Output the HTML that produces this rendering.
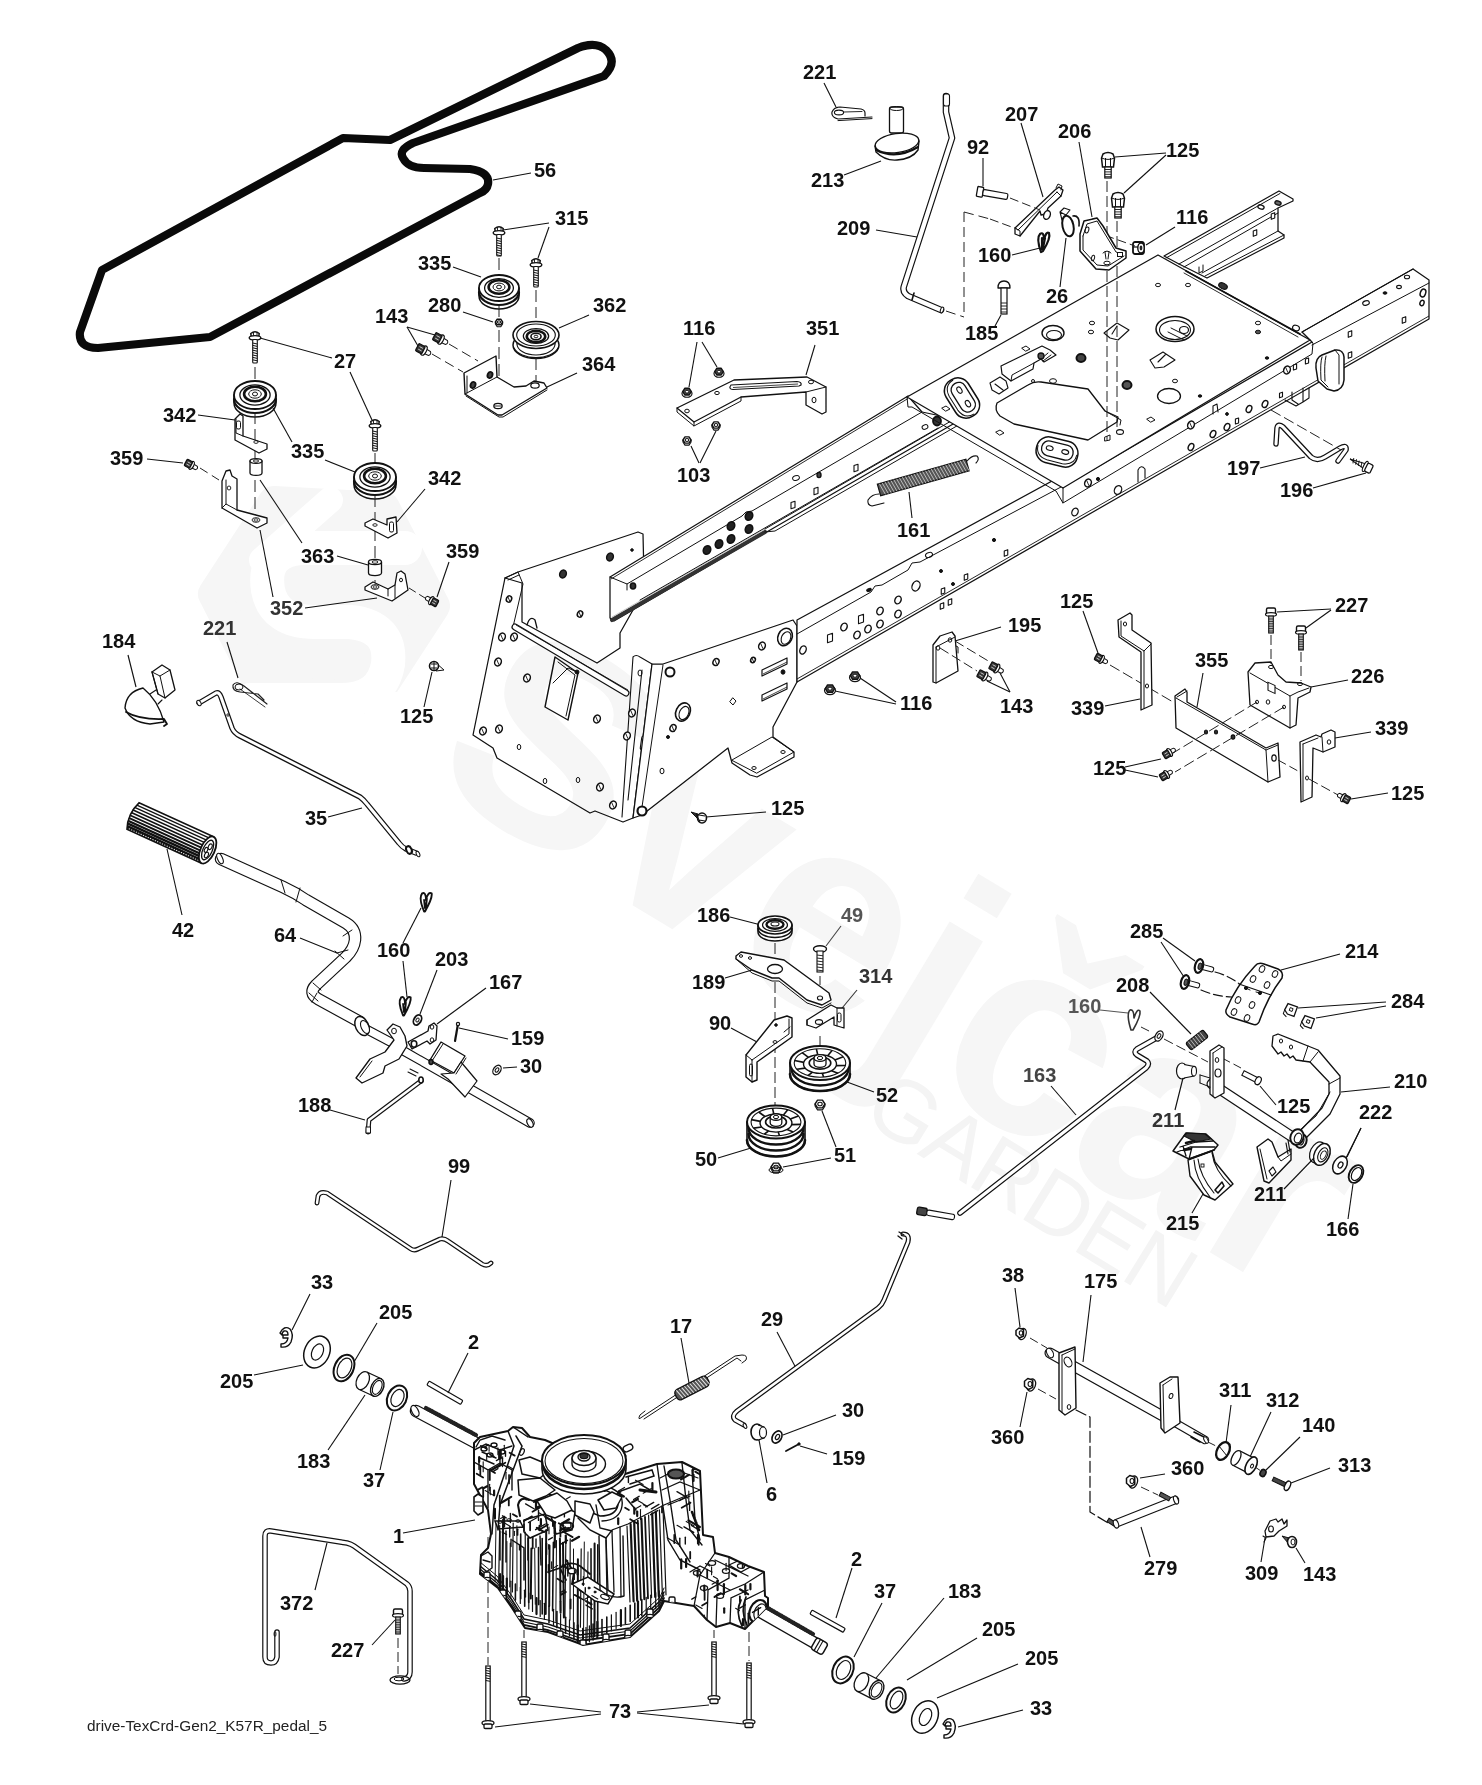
<!DOCTYPE html>
<html><head><meta charset="utf-8"><title>drive-TexCrd-Gen2_K57R_pedal_5</title>
<style>
html,body{margin:0;padding:0;background:#fff;}
body{width:1482px;height:1785px;overflow:hidden;font-family:"Liberation Sans",sans-serif;}
svg{display:block;font-family:"Liberation Sans",sans-serif;}
</style></head><body>
<svg width="1482" height="1785" viewBox="0 0 1482 1785">
<rect width="1482" height="1785" fill="#fff"/>
<g id="wm"><path d="M434,606 L374,698 L264,692 L214,594 L274,502 L384,508 Z" fill="#f6f6f6" stroke="#f6f6f6" stroke-width="32" stroke-linejoin="round"/><path d="M405,548 L300,548 Q262,552 268,590 Q274,622 315,622 L350,622 Q392,626 388,664 Q382,700 340,700 L250,700" fill="none" stroke="#fff" stroke-width="34" stroke-linecap="round" stroke-linejoin="round"/><path d="M262,560 L330,500 M395,705 L330,760" fill="none" stroke="#fff" stroke-width="26" stroke-linecap="round"/><text transform="translate(424 780) rotate(31)" font-size="283" font-weight="bold" fill="#f6f6f6">Svejčar</text><text transform="translate(860 1119) rotate(31.6)" font-size="88" fill="#f4f4f4" letter-spacing="-2">GARDEN</text></g>
<g opacity="0.999">
<path d="M505,578 L518,572 L638,532 L643,534 L644,578 L633,610 L620,633 L620,648 L597,663 L522,622 L522,583 Z" stroke="#111" stroke-width="1.25" fill="#fff" stroke-linejoin="round" stroke-linecap="round" />
<path d="M505,578 L518,572 L523,584 L513,627 M508,580 L519,575" stroke="#111" stroke-width="1.0" fill="none" stroke-linejoin="round" stroke-linecap="round" />
<ellipse cx="563" cy="574" rx="3.2" ry="4" stroke="#111" stroke-width="1.5" fill="#333" transform="rotate(25 563 574)"/>
<ellipse cx="610" cy="557" rx="3.2" ry="4" stroke="#111" stroke-width="1.5" fill="#333" transform="rotate(25 610 557)"/>
<ellipse cx="580" cy="614" rx="2.5600000000000005" ry="3.2" stroke="#111" stroke-width="1.5" fill="#fff" transform="rotate(25 580 614)"/>
<path d="M579.04,612.08 L580.64,615.92" stroke="#111" stroke-width="0.9" fill="none" stroke-linejoin="round" stroke-linecap="round" />
<ellipse cx="509" cy="599" rx="2.5600000000000005" ry="3.2" stroke="#111" stroke-width="1.5" fill="#fff" transform="rotate(25 509 599)"/>
<path d="M508.04,597.08 L509.64,600.92" stroke="#111" stroke-width="0.9" fill="none" stroke-linejoin="round" stroke-linecap="round" />
<ellipse cx="632" cy="550" rx="1.3" ry="1.3" stroke="#111" stroke-width="1" fill="#111"/>
<path d="M515,627 L626,693" stroke="#111" stroke-width="7" fill="none" stroke-linejoin="round" stroke-linecap="round" />
<path d="M515,627 L626,693" stroke="#fff" stroke-width="4.6" fill="none" stroke-linejoin="round" stroke-linecap="round" />
<line x1="516" y1="625" x2="628" y2="690" stroke="#111" stroke-width="0.8" stroke-linecap="butt"/>
<path d="M527,625 Q530,615 535,620 L537,628" stroke="#111" stroke-width="1.3" fill="none" stroke-linejoin="round" stroke-linecap="round" />
<path d="M505,578 L473,735 L493,748 L497,758 L590,813 L595,811 L623,822 L633,818" stroke="#111" stroke-width="1.25" fill="none" stroke-linejoin="round" stroke-linecap="round" />
<path d="M633,657 Q636,654 640,657 L652,664 M633,657 L622,817 M652,664 L633,817 M642,670 L628,800" stroke="#111" stroke-width="1.1" fill="none" stroke-linejoin="round" stroke-linecap="round" />
<rect x="641" y="736" width="4.5" height="14" rx="2" fill="#fff" stroke="#111" stroke-width="1.1" transform="rotate(8 643 743)"/>
<path d="M555,657 L578,673 L568,720 L545,707 Z" stroke="#111" stroke-width="1.4" fill="none" stroke-linejoin="round" stroke-linecap="round" />
<path d="M558,662 L575,675 L566,716 M553,683 L568,668 L577,672" stroke="#111" stroke-width="1.0" fill="none" stroke-linejoin="round" stroke-linecap="round" />
<ellipse cx="577" cy="672" rx="2" ry="2" stroke="#111" stroke-width="1" fill="#111"/>
<ellipse cx="502" cy="637" rx="3.2" ry="4" stroke="#111" stroke-width="1.5" fill="#fff" transform="rotate(25 502 637)"/>
<path d="M500.8,634.6 L502.8,639.4" stroke="#111" stroke-width="0.9" fill="none" stroke-linejoin="round" stroke-linecap="round" />
<ellipse cx="514" cy="637" rx="3.2" ry="4" stroke="#111" stroke-width="1.5" fill="#fff" transform="rotate(25 514 637)"/>
<path d="M512.8,634.6 L514.8,639.4" stroke="#111" stroke-width="0.9" fill="none" stroke-linejoin="round" stroke-linecap="round" />
<ellipse cx="498" cy="662" rx="3.2" ry="4" stroke="#111" stroke-width="1.5" fill="#fff" transform="rotate(25 498 662)"/>
<path d="M496.8,659.6 L498.8,664.4" stroke="#111" stroke-width="0.9" fill="none" stroke-linejoin="round" stroke-linecap="round" />
<ellipse cx="527" cy="678" rx="3.2" ry="4" stroke="#111" stroke-width="1.5" fill="#fff" transform="rotate(25 527 678)"/>
<path d="M525.8,675.6 L527.8,680.4" stroke="#111" stroke-width="0.9" fill="none" stroke-linejoin="round" stroke-linecap="round" />
<ellipse cx="483" cy="731" rx="3.2" ry="4" stroke="#111" stroke-width="1.5" fill="#fff" transform="rotate(25 483 731)"/>
<path d="M481.8,728.6 L483.8,733.4" stroke="#111" stroke-width="0.9" fill="none" stroke-linejoin="round" stroke-linecap="round" />
<ellipse cx="499" cy="729" rx="3.2" ry="4" stroke="#111" stroke-width="1.5" fill="#fff" transform="rotate(25 499 729)"/>
<path d="M497.8,726.6 L499.8,731.4" stroke="#111" stroke-width="0.9" fill="none" stroke-linejoin="round" stroke-linecap="round" />
<ellipse cx="597" cy="719" rx="3.2" ry="4" stroke="#111" stroke-width="1.5" fill="#fff" transform="rotate(25 597 719)"/>
<path d="M595.8,716.6 L597.8,721.4" stroke="#111" stroke-width="0.9" fill="none" stroke-linejoin="round" stroke-linecap="round" />
<ellipse cx="632" cy="713" rx="3.2" ry="4" stroke="#111" stroke-width="1.5" fill="#fff" transform="rotate(25 632 713)"/>
<path d="M630.8,710.6 L632.8,715.4" stroke="#111" stroke-width="0.9" fill="none" stroke-linejoin="round" stroke-linecap="round" />
<ellipse cx="627" cy="736" rx="3.2" ry="4" stroke="#111" stroke-width="1.5" fill="#fff" transform="rotate(25 627 736)"/>
<path d="M625.8,733.6 L627.8,738.4" stroke="#111" stroke-width="0.9" fill="none" stroke-linejoin="round" stroke-linecap="round" />
<ellipse cx="600" cy="787" rx="3.2" ry="4" stroke="#111" stroke-width="1.5" fill="#fff" transform="rotate(25 600 787)"/>
<path d="M598.8,784.6 L600.8,789.4" stroke="#111" stroke-width="0.9" fill="none" stroke-linejoin="round" stroke-linecap="round" />
<ellipse cx="613" cy="805" rx="3.2" ry="4" stroke="#111" stroke-width="1.5" fill="#fff" transform="rotate(25 613 805)"/>
<path d="M611.8,802.6 L613.8,807.4" stroke="#111" stroke-width="0.9" fill="none" stroke-linejoin="round" stroke-linecap="round" />
<ellipse cx="519" cy="747" rx="1.8" ry="2.6" stroke="#111" stroke-width="1.0" fill="none"/>
<ellipse cx="545" cy="781" rx="1.8" ry="2.6" stroke="#111" stroke-width="1.0" fill="none"/>
<ellipse cx="578" cy="780" rx="1.8" ry="2.6" stroke="#111" stroke-width="1.0" fill="none"/>
<ellipse cx="640" cy="673" rx="2" ry="3" stroke="#111" stroke-width="1.0" fill="none"/>
<path d="M663,664 L793,620 L797,626 L797,682 L773,727 L773,737 L794,752 L794,757 L757,777 L750,775 L732,763 L728,748 L642,815 L633,818 L652,664 Z" stroke="#111" stroke-width="1.25" fill="#fff" stroke-linejoin="round" stroke-linecap="round" />
<path d="M663,665 L642,807" stroke="#111" stroke-width="1.0" fill="none" stroke-linejoin="round" stroke-linecap="round" />
<path d="M732,760 L772,737 L794,752 L757,773 Z" stroke="#111" stroke-width="1.0" fill="none" stroke-linejoin="round" stroke-linecap="round" />
<ellipse cx="783" cy="752" rx="2.2" ry="1.5" stroke="#111" stroke-width="1" fill="none"/>
<ellipse cx="754" cy="768" rx="2.2" ry="1.5" stroke="#111" stroke-width="1" fill="none"/>
<ellipse cx="642" cy="811" rx="4.5" ry="4.5" stroke="#111" stroke-width="2.2" fill="#fff"/>
<ellipse cx="670" cy="672" rx="4.5" ry="4.5" stroke="#111" stroke-width="2" fill="#fff"/>
<ellipse cx="785" cy="637" rx="7" ry="9" stroke="#111" stroke-width="1.6" fill="none" transform="rotate(25 785 637)"/>
<ellipse cx="786" cy="638" rx="4.5" ry="6.5" stroke="#111" stroke-width="1.1" fill="none" transform="rotate(25 786 638)"/>
<ellipse cx="762" cy="646" rx="3.2" ry="4" stroke="#111" stroke-width="1.5" fill="#fff" transform="rotate(25 762 646)"/>
<path d="M760.8,643.6 L762.8,648.4" stroke="#111" stroke-width="0.9" fill="none" stroke-linejoin="round" stroke-linecap="round" />
<ellipse cx="716" cy="662" rx="2.8800000000000003" ry="3.6" stroke="#111" stroke-width="1.5" fill="#fff" transform="rotate(25 716 662)"/>
<path d="M714.92,659.84 L716.72,664.16" stroke="#111" stroke-width="0.9" fill="none" stroke-linejoin="round" stroke-linecap="round" />
<ellipse cx="753" cy="660" rx="2.2399999999999998" ry="2.8" stroke="#111" stroke-width="1.5" fill="#fff" transform="rotate(25 753 660)"/>
<path d="M752.16,658.32 L753.56,661.68" stroke="#111" stroke-width="0.9" fill="none" stroke-linejoin="round" stroke-linecap="round" />
<path d="M762,670 L787,658 L787,664 L762,676 Z" stroke="#111" stroke-width="1.2" fill="none" stroke-linejoin="round" stroke-linecap="round" />
<line x1="763" y1="674" x2="787" y2="662" stroke="#111" stroke-width="0.8" stroke-linecap="butt"/>
<path d="M762,695 L787,683 L787,689 L762,701 Z" stroke="#111" stroke-width="1.2" fill="none" stroke-linejoin="round" stroke-linecap="round" />
<line x1="763" y1="699" x2="787" y2="687" stroke="#111" stroke-width="0.8" stroke-linecap="butt"/>
<ellipse cx="783" cy="672" rx="2" ry="2.2" stroke="#111" stroke-width="1" fill="#111"/>
<ellipse cx="683" cy="712" rx="7" ry="9.5" stroke="#111" stroke-width="1.6" fill="none" transform="rotate(25 683 712)"/>
<ellipse cx="684" cy="713" rx="4.5" ry="7" stroke="#111" stroke-width="1.1" fill="none" transform="rotate(25 684 713)"/>
<ellipse cx="673" cy="728" rx="2.8800000000000003" ry="3.6" stroke="#111" stroke-width="1.5" fill="#fff" transform="rotate(25 673 728)"/>
<path d="M671.92,725.84 L673.72,730.16" stroke="#111" stroke-width="0.9" fill="none" stroke-linejoin="round" stroke-linecap="round" />
<ellipse cx="668" cy="737" rx="1.5" ry="1.5" stroke="#111" stroke-width="1" fill="#111"/>
<path d="M733,698 L736,701 L733,705 L730,702 Z" stroke="#111" stroke-width="1.0" fill="none" stroke-linejoin="round" stroke-linecap="round" />
<ellipse cx="662" cy="771" rx="2" ry="2.8" stroke="#111" stroke-width="1" fill="none"/>
<path d="M610,577 L908,396 L922,412 L960,420 L765,533 L614,621 L610,618 Z" stroke="#111" stroke-width="1.25" fill="#fff" stroke-linejoin="round" stroke-linecap="round" />
<line x1="611" y1="579" x2="908" y2="398.5" stroke="#111" stroke-width="0.9" stroke-linecap="butt"/>
<path d="M610,577 L627,584 L742,516 L746,512 L752,511 L922,412" stroke="#111" stroke-width="1.0" fill="none" stroke-linejoin="round" stroke-linecap="round" />
<path d="M627,584 L627,590" stroke="#111" stroke-width="1.0" fill="none" stroke-linejoin="round" stroke-linecap="round" />
<path d="M612,620 L765,532" stroke="#333" stroke-width="4.2" fill="none" stroke-linejoin="round" stroke-linecap="round" />
<path d="M612,617 L765,529" stroke="#bbb" stroke-width="0.8" fill="none" stroke-linejoin="round" stroke-linecap="round" />
<path d="M765,532 L775,531 L962,423 M765,529 L958,417 M640,600 L938,428" stroke="#111" stroke-width="1.0" fill="none" stroke-linejoin="round" stroke-linecap="round" />
<ellipse cx="633" cy="586" rx="2.6" ry="3" stroke="#111" stroke-width="1.6" fill="#333"/>
<ellipse cx="707" cy="550" rx="3.6" ry="4.4" stroke="#111" stroke-width="1.6" fill="#222" transform="rotate(25 707 550)"/>
<ellipse cx="719" cy="544" rx="3.6" ry="4.4" stroke="#111" stroke-width="1.6" fill="#222" transform="rotate(25 719 544)"/>
<ellipse cx="731" cy="539" rx="3.6" ry="4.4" stroke="#111" stroke-width="1.6" fill="#222" transform="rotate(25 731 539)"/>
<ellipse cx="749" cy="529" rx="3.6" ry="4.4" stroke="#111" stroke-width="1.6" fill="#222" transform="rotate(25 749 529)"/>
<ellipse cx="731" cy="526" rx="3.6" ry="4.4" stroke="#111" stroke-width="1.6" fill="#222" transform="rotate(25 731 526)"/>
<ellipse cx="749" cy="516" rx="3.6" ry="4.4" stroke="#111" stroke-width="1.6" fill="#222" transform="rotate(25 749 516)"/>
<path d="M791.0,502.6 L795.0,501.2 L795.0,507.4 L791.0,508.8 Z" stroke="#111" stroke-width="1.1" fill="#fff" stroke-linejoin="round" stroke-linecap="round" />
<path d="M814.0,488.6 L818.0,487.2 L818.0,493.4 L814.0,494.8 Z" stroke="#111" stroke-width="1.1" fill="#fff" stroke-linejoin="round" stroke-linecap="round" />
<path d="M854.0,465.6 L858.0,464.2 L858.0,470.4 L854.0,471.8 Z" stroke="#111" stroke-width="1.1" fill="#fff" stroke-linejoin="round" stroke-linecap="round" />
<ellipse cx="796" cy="478" rx="3.5" ry="2.3" stroke="#111" stroke-width="1.0" fill="none" transform="rotate(-20 796 478)"/>
<ellipse cx="819" cy="475" rx="2" ry="2.6" stroke="#111" stroke-width="1.4" fill="#444"/>
<ellipse cx="925" cy="427" rx="3" ry="2.2" stroke="#111" stroke-width="1.0" fill="none" transform="rotate(-20 925 427)"/>
<ellipse cx="937" cy="421" rx="4" ry="4.5" stroke="#111" stroke-width="1.8" fill="#333"/>
<path d="M797,620 L1052,481 L1063,487 L1312,342 L1302,332 L1413,269 L1429,280 L1429,319 L797,682 Z" stroke="#111" stroke-width="1.25" fill="#fff" stroke-linejoin="round" stroke-linecap="round" />
<path d="M797,634 L871,592 L875,586 L882,585 L908,570 L912,563 L920,562 L1061,487" stroke="#111" stroke-width="1.0" fill="none" stroke-linejoin="round" stroke-linecap="round" />
<line x1="797" y1="679" x2="1429" y2="316" stroke="#111" stroke-width="0.9" stroke-linecap="butt"/>
<ellipse cx="803" cy="650" rx="3" ry="4.2" stroke="#111" stroke-width="1.4" fill="none" transform="rotate(25 803 650)"/>
<ellipse cx="844" cy="627" rx="3" ry="4" stroke="#111" stroke-width="1.5" fill="none" transform="rotate(25 844 627)"/>
<ellipse cx="857" cy="635" rx="3" ry="4" stroke="#111" stroke-width="1.5" fill="none" transform="rotate(25 857 635)"/>
<ellipse cx="868" cy="629" rx="3" ry="4" stroke="#111" stroke-width="1.5" fill="none" transform="rotate(25 868 629)"/>
<ellipse cx="880" cy="624" rx="3" ry="4" stroke="#111" stroke-width="1.5" fill="none" transform="rotate(25 880 624)"/>
<ellipse cx="898" cy="614" rx="3" ry="4" stroke="#111" stroke-width="1.5" fill="none" transform="rotate(25 898 614)"/>
<ellipse cx="880" cy="611" rx="3" ry="4" stroke="#111" stroke-width="1.5" fill="none" transform="rotate(25 880 611)"/>
<ellipse cx="898" cy="600" rx="3" ry="4" stroke="#111" stroke-width="1.5" fill="none" transform="rotate(25 898 600)"/>
<path d="M827.5,635.0 L832.5,633.25 L832.5,641.0 L827.5,642.75 Z" stroke="#111" stroke-width="1.1" fill="#fff" stroke-linejoin="round" stroke-linecap="round" />
<path d="M858.5,616.0 L863.5,614.25 L863.5,622.0 L858.5,623.75 Z" stroke="#111" stroke-width="1.1" fill="#fff" stroke-linejoin="round" stroke-linecap="round" />
<ellipse cx="916" cy="586" rx="3.8" ry="5.2" stroke="#111" stroke-width="1.3" fill="none" transform="rotate(25 916 586)"/>
<ellipse cx="929" cy="555" rx="3.6" ry="2.4" stroke="#111" stroke-width="1.1" fill="none" transform="rotate(-20 929 555)"/>
<path d="M941.25,588.9 L944.75,587.675 L944.75,593.1 L941.25,594.325 Z" stroke="#111" stroke-width="1.1" fill="#fff" stroke-linejoin="round" stroke-linecap="round" />
<path d="M964.25,574.9 L967.75,573.675 L967.75,579.1 L964.25,580.325 Z" stroke="#111" stroke-width="1.1" fill="#fff" stroke-linejoin="round" stroke-linecap="round" />
<path d="M1004.25,550.9 L1007.75,549.675 L1007.75,555.1 L1004.25,556.325 Z" stroke="#111" stroke-width="1.1" fill="#fff" stroke-linejoin="round" stroke-linecap="round" />
<path d="M948.25,599.9 L951.75,598.675 L951.75,604.1 L948.25,605.325 Z" stroke="#111" stroke-width="1.1" fill="#fff" stroke-linejoin="round" stroke-linecap="round" />
<path d="M940.25,603.9 L943.75,602.675 L943.75,608.1 L940.25,609.325 Z" stroke="#111" stroke-width="1.1" fill="#fff" stroke-linejoin="round" stroke-linecap="round" />
<ellipse cx="941" cy="571" rx="1.5" ry="1.5" stroke="#111" stroke-width="1" fill="#111"/>
<ellipse cx="953" cy="584" rx="1.5" ry="1.5" stroke="#111" stroke-width="1" fill="#111"/>
<ellipse cx="994" cy="540" rx="1.6" ry="1.6" stroke="#111" stroke-width="1" fill="#111"/>
<ellipse cx="869" cy="590" rx="2.4" ry="1.4" stroke="#111" stroke-width="1" fill="#111" transform="rotate(-20 869 590)"/>
<ellipse cx="1075" cy="512" rx="3" ry="4" stroke="#111" stroke-width="1.3" fill="none" transform="rotate(25 1075 512)"/>
<ellipse cx="1118" cy="490" rx="3.5" ry="4.5" stroke="#111" stroke-width="1.3" fill="none" transform="rotate(25 1118 490)"/>
<path d="M1164,256 L1279,191 L1293,199 L1293,201 L1278,208 L1278,231 L1284,235 L1284,238 L1207,278 L1179,264 Z" stroke="#111" stroke-width="1.25" fill="#fff" stroke-linejoin="round" stroke-linecap="round" />
<path d="M1179,264 L1278,208 M1184,267 L1278,213 M1202,273 L1278,231 M1205,276 L1284,235 M1166,258 L1280,193.5" stroke="#111" stroke-width="1.0" fill="none" stroke-linejoin="round" stroke-linecap="round" />
<ellipse cx="1261" cy="207" rx="3.2" ry="2" stroke="#111" stroke-width="1.3" fill="none" transform="rotate(20 1261 207)"/>
<ellipse cx="1278" cy="203" rx="3.2" ry="2" stroke="#111" stroke-width="1.3" fill="#666" transform="rotate(20 1278 203)"/>
<path d="M1271.25,213.9 L1274.75,212.675 L1274.75,218.1 L1271.25,219.325 Z" stroke="#111" stroke-width="1.1" fill="#fff" stroke-linejoin="round" stroke-linecap="round" />
<path d="M1253.25,230.9 L1256.75,229.675 L1256.75,235.1 L1253.25,236.325 Z" stroke="#111" stroke-width="1.1" fill="#fff" stroke-linejoin="round" stroke-linecap="round" />
<path d="M1199,267 L1199,273 L1203,271 L1203,265" stroke="#111" stroke-width="1.0" fill="none" stroke-linejoin="round" stroke-linecap="round" />
<path d="M907,397 L1158,255 L1310,340 L1063,488 Z" stroke="#111" stroke-width="1.25" fill="#fff" stroke-linejoin="round" stroke-linecap="round" />
<path d="M907,397 L908,407 L912,407 L1056,491 L1063,503 L1063,488 M1063,503 L1068,500 L1312,354 L1313,343 L1310,340" stroke="#111" stroke-width="1.0" fill="none" stroke-linejoin="round" stroke-linecap="round" />
<path d="M1186,271 L1300,334" stroke="#111" stroke-width="1.8" fill="none" stroke-linejoin="round" stroke-linecap="round" />
<path d="M1184,273 L1298,337" stroke="#111" stroke-width="0.9" fill="none" stroke-linejoin="round" stroke-linecap="round" />
<ellipse cx="1223" cy="286" rx="4.5" ry="2.8" stroke="#111" stroke-width="1.2" fill="#333" transform="rotate(25 1223 286)"/>
<ellipse cx="1296" cy="328" rx="3.5" ry="2.6" stroke="#111" stroke-width="1.2" fill="none" transform="rotate(20 1296 328)"/>
<path d="M1302,332 L1413,269 M1312,345 L1429,283" stroke="#111" stroke-width="1.0" fill="none" stroke-linejoin="round" stroke-linecap="round" />
<ellipse cx="1407" cy="277" rx="2.6" ry="1.8" stroke="#111" stroke-width="1.1" fill="none"/>
<ellipse cx="1399" cy="287" rx="2.4" ry="1.6" stroke="#111" stroke-width="1.1" fill="none"/>
<ellipse cx="1385" cy="293" rx="2" ry="1.2" stroke="#111" stroke-width="1" fill="#111"/>
<ellipse cx="1366" cy="303" rx="3.4" ry="2.2" stroke="#111" stroke-width="1.1" fill="none" transform="rotate(-15 1366 303)"/>
<ellipse cx="1423" cy="293" rx="2.6" ry="4" stroke="#111" stroke-width="1.5" fill="none" transform="rotate(20 1423 293)"/>
<ellipse cx="1422" cy="303" rx="2" ry="2.8" stroke="#111" stroke-width="1.4" fill="none" transform="rotate(20 1422 303)"/>
<path d="M1402.25,317.9 L1405.75,316.675 L1405.75,322.1 L1402.25,323.325 Z" stroke="#111" stroke-width="1.1" fill="#fff" stroke-linejoin="round" stroke-linecap="round" />
<path d="M1348.25,331.9 L1351.75,330.675 L1351.75,336.1 L1348.25,337.325 Z" stroke="#111" stroke-width="1.1" fill="#fff" stroke-linejoin="round" stroke-linecap="round" />
<path d="M1348.25,352.9 L1351.75,351.675 L1351.75,357.1 L1348.25,358.325 Z" stroke="#111" stroke-width="1.1" fill="#fff" stroke-linejoin="round" stroke-linecap="round" />
<ellipse cx="1158" cy="285" rx="2.5" ry="1.7" stroke="#111" stroke-width="1" fill="none"/>
<ellipse cx="1188" cy="285" rx="2.5" ry="1.7" stroke="#111" stroke-width="1" fill="none"/>
<ellipse cx="1053" cy="333" rx="11" ry="7.5" stroke="#111" stroke-width="1.4" fill="none"/>
<ellipse cx="1054" cy="335" rx="7.5" ry="4.5" stroke="#111" stroke-width="1.1" fill="none"/>
<ellipse cx="1175" cy="329" rx="19" ry="12.5" stroke="#111" stroke-width="1.5" fill="none"/>
<ellipse cx="1175" cy="330" rx="15.5" ry="9.5" stroke="#111" stroke-width="1.1" fill="none"/>
<path d="M1168,332 L1184,340 M1171,328 L1187,336" stroke="#111" stroke-width="1.0" fill="none" stroke-linejoin="round" stroke-linecap="round" />
<ellipse cx="1184" cy="330" rx="4.5" ry="3.5" stroke="#111" stroke-width="1.2" fill="none"/>
<ellipse cx="1092" cy="323" rx="2.6" ry="1.8" stroke="#111" stroke-width="1" fill="none"/>
<ellipse cx="1091" cy="332" rx="2.6" ry="1.8" stroke="#111" stroke-width="1" fill="none"/>
<ellipse cx="1258" cy="323" rx="2.6" ry="1.8" stroke="#111" stroke-width="1" fill="none"/>
<ellipse cx="1258" cy="332" rx="2.6" ry="1.8" stroke="#111" stroke-width="1" fill="#555"/>
<ellipse cx="1081" cy="358" rx="4.5" ry="4" stroke="#111" stroke-width="2" fill="#444"/>
<ellipse cx="1127" cy="385" rx="4.5" ry="4" stroke="#111" stroke-width="2" fill="#555"/>
<ellipse cx="1169" cy="396" rx="11.5" ry="7.5" stroke="#111" stroke-width="1.3" fill="none"/>
<ellipse cx="1175" cy="381" rx="2.5" ry="1.8" stroke="#111" stroke-width="1" fill="none"/>
<ellipse cx="1053" cy="381" rx="3.5" ry="2.3" stroke="#111" stroke-width="1" fill="none"/>
<ellipse cx="1033" cy="381" rx="1.5" ry="1.5" stroke="#111" stroke-width="1" fill="none"/>
<ellipse cx="1267" cy="358" rx="1.8" ry="1.2" stroke="#111" stroke-width="1" fill="#111"/>
<ellipse cx="1200" cy="396" rx="1.8" ry="1.2" stroke="#111" stroke-width="1" fill="#111"/>
<path d="M1147,419 L1151,417 L1155,420 L1151,422 Z" stroke="#111" stroke-width="1.0" fill="none" stroke-linejoin="round" stroke-linecap="round" />
<path d="M1022,348 L1026,346 L1030,349 L1026,351 Z" stroke="#111" stroke-width="1.0" fill="none" stroke-linejoin="round" stroke-linecap="round" />
<path d="M996,432 L1000,430 L1004,433 L1000,435 Z" stroke="#111" stroke-width="1.0" fill="none" stroke-linejoin="round" stroke-linecap="round" />
<path d="M942,408 L946,406 L950,409 L946,411 Z" stroke="#111" stroke-width="1.0" fill="none" stroke-linejoin="round" stroke-linecap="round" />
<path d="M1105,437 L1110,435 L1110,440 L1105,441 Z" stroke="#111" stroke-width="1.0" fill="none" stroke-linejoin="round" stroke-linecap="round" />
<ellipse cx="1120" cy="432" rx="3.5" ry="2.4" stroke="#111" stroke-width="1.1" fill="none"/>
<path d="M997,403 Q994,410 1000,416 L1014,424 L1088,440 L1117,422 L1118,417 L1105,411 L1088,389 L1041,382 Q1034,381 1028,385 Z" stroke="#111" stroke-width="1.3" fill="none" stroke-linejoin="round" stroke-linecap="round" />
<path d="M1105,411 L1121,420 L1120,425" stroke="#111" stroke-width="1.0" fill="none" stroke-linejoin="round" stroke-linecap="round" />
<path d="M1001,366 L1042,346 L1050,350 L1056,355 L1044,362 L1041,359 L1034,363 L1033,369 L1011,381 L1002,374 Z" stroke="#111" stroke-width="1.2" fill="none" stroke-linejoin="round" stroke-linecap="round" />
<path d="M1041,359 L1048,353 M1043,361 L1051,355 M1034,363 L1012,375 L1011,381" stroke="#111" stroke-width="1.0" fill="none" stroke-linejoin="round" stroke-linecap="round" />
<ellipse cx="1041" cy="356" rx="3" ry="3" stroke="#111" stroke-width="1.3" fill="#555"/>
<path d="M990,383 L1000,377 L1006,381 L1008,388 L999,394 L992,390 Z M995,384 L1003,390" stroke="#111" stroke-width="1.1" fill="none" stroke-linejoin="round" stroke-linecap="round" />
<path d="M1104,333 L1117,323 L1129,330 L1118,340 L1110,338 Z M1112,334 L1117,326" stroke="#111" stroke-width="1.1" fill="none" stroke-linejoin="round" stroke-linecap="round" />
<path d="M1150,360 L1163,352 L1175,360 L1164,367 L1155,368 Z M1158,362 L1166,354" stroke="#111" stroke-width="1.1" fill="none" stroke-linejoin="round" stroke-linecap="round" />
<g transform="translate(962 398) rotate(58)"><rect x="-21" y="-13" width="42" height="26" rx="12" fill="#fff" stroke="#111" stroke-width="1.5"/><rect x="-16" y="-9" width="32" height="15" rx="7" fill="#fff" stroke="#111" stroke-width="1.3"/><ellipse cx="-8" cy="-2" rx="3.5" ry="2.2" fill="#fff" stroke="#111" stroke-width="1.1"/><ellipse cx="8" cy="-2" rx="3.5" ry="2.2" fill="#fff" stroke="#111" stroke-width="1.1"/><path d="M-20,-2 Q-20,9 -8,10 L8,10 Q20,9 20,-2" fill="none" stroke="#111" stroke-width="1"/></g>
<g transform="translate(1057 452) rotate(14)"><rect x="-21" y="-13" width="42" height="26" rx="12" fill="#fff" stroke="#111" stroke-width="1.5"/><rect x="-16" y="-9" width="32" height="15" rx="7" fill="#fff" stroke="#111" stroke-width="1.3"/><ellipse cx="-8" cy="-2" rx="3.5" ry="2.2" fill="#fff" stroke="#111" stroke-width="1.1"/><ellipse cx="8" cy="-2" rx="3.5" ry="2.2" fill="#fff" stroke="#111" stroke-width="1.1"/><path d="M-20,-2 Q-20,9 -8,10 L8,10 Q20,9 20,-2" fill="none" stroke="#111" stroke-width="1"/></g>
<ellipse cx="1088" cy="483" rx="3.2" ry="4" stroke="#111" stroke-width="1.5" fill="#fff" transform="rotate(25 1088 483)"/>
<path d="M1086.8,480.6 L1088.8,485.4" stroke="#111" stroke-width="0.9" fill="none" stroke-linejoin="round" stroke-linecap="round" />
<ellipse cx="1191" cy="425" rx="3.2" ry="4" stroke="#111" stroke-width="1.5" fill="#fff" transform="rotate(25 1191 425)"/>
<path d="M1189.8,422.6 L1191.8,427.4" stroke="#111" stroke-width="0.9" fill="none" stroke-linejoin="round" stroke-linecap="round" />
<ellipse cx="1287" cy="370" rx="3.2" ry="4" stroke="#111" stroke-width="1.5" fill="#fff" transform="rotate(25 1287 370)"/>
<path d="M1285.8,367.6 L1287.8,372.4" stroke="#111" stroke-width="0.9" fill="none" stroke-linejoin="round" stroke-linecap="round" />
<ellipse cx="1191" cy="447" rx="2.6" ry="3.6" stroke="#111" stroke-width="1.4" fill="none" transform="rotate(25 1191 447)"/>
<ellipse cx="1213" cy="434" rx="2.6" ry="3.6" stroke="#111" stroke-width="1.4" fill="none" transform="rotate(25 1213 434)"/>
<ellipse cx="1227" cy="427" rx="2.6" ry="3.6" stroke="#111" stroke-width="1.4" fill="none" transform="rotate(25 1227 427)"/>
<ellipse cx="1249" cy="409" rx="2.6" ry="3.6" stroke="#111" stroke-width="1.4" fill="none" transform="rotate(25 1249 409)"/>
<ellipse cx="1265" cy="404" rx="2.6" ry="3.6" stroke="#111" stroke-width="1.4" fill="none" transform="rotate(25 1265 404)"/>
<path d="M1235.4,419.08 L1238.6,417.96 L1238.6,422.92 L1235.4,424.04 Z" stroke="#111" stroke-width="1.1" fill="#fff" stroke-linejoin="round" stroke-linecap="round" />
<path d="M1279.5,393.2 L1282.5,392.15 L1282.5,396.8 L1279.5,397.85 Z" stroke="#111" stroke-width="1.1" fill="#fff" stroke-linejoin="round" stroke-linecap="round" />
<path d="M1293.4,365.08 L1296.6,363.96 L1296.6,368.92 L1293.4,370.04 Z" stroke="#111" stroke-width="1.1" fill="#fff" stroke-linejoin="round" stroke-linecap="round" />
<path d="M1305.4,359.08 L1308.6,357.96 L1308.6,362.92 L1305.4,364.04 Z" stroke="#111" stroke-width="1.1" fill="#fff" stroke-linejoin="round" stroke-linecap="round" />
<path d="M1138,482 L1138,470 Q1141,464 1145,469 L1145,478 M1213,414 L1213,406 L1217,404 L1218,412" stroke="#111" stroke-width="1.1" fill="none" stroke-linejoin="round" stroke-linecap="round" />
<ellipse cx="1098" cy="479" rx="1.6" ry="1.6" stroke="#111" stroke-width="1" fill="#111"/>
<ellipse cx="1227" cy="414" rx="1.4" ry="1.4" stroke="#111" stroke-width="1" fill="#111"/>
<path d="M1316,368 Q1315,358 1322,355 L1335,350 Q1343,349 1344,357 L1344,380 Q1343,390 1334,391 L1327,389 L1318,381 Z" stroke="#111" stroke-width="1.5" fill="#fff" stroke-linejoin="round" stroke-linecap="round" />
<path d="M1322,357 Q1320,362 1321,380 L1328,387 M1326,356 Q1324,364 1325,381 M1335,350 L1339,355 L1339,384" stroke="#111" stroke-width="1.0" fill="none" stroke-linejoin="round" stroke-linecap="round" />
<path d="M1285,400 L1296,406 L1303,402 L1303,388 M1292,392 L1292,400 L1298,404 M1309,388 L1309,398 L1303,402" stroke="#111" stroke-width="1.1" fill="none" stroke-linejoin="round" stroke-linecap="round" />
<path d="M102,270 L343,138 L390,140 L578,48 Q596,41 606,50 Q618,62 604,76 L413,143 Q398,150 403,158 Q408,168 424,168 L470,169 Q490,172 488,184 Q487,190 480,193 L210,337 L98,348 Q78,348 80,332 Z" stroke="#0a0a0a" stroke-width="8.2" fill="none" stroke-linejoin="round" stroke-linecap="round" />
<text x="534" y="177" font-size="20" font-weight="bold" fill="#111" text-anchor="start">56</text>
<line x1="493" y1="180" x2="531" y2="173" stroke="#111" stroke-width="1.1" stroke-linecap="butt"/>
<path d="M251.3,337 L250.8,333.5 Q255,330 259.2,333.5 L258.7,337 Z" fill="#fff" stroke="#111" stroke-width="1.5"/>
<line x1="253.5" y1="332.5" x2="253.5" y2="337" stroke="#111" stroke-width="0.9" stroke-linecap="butt"/>
<line x1="257" y1="332.5" x2="257" y2="337" stroke="#111" stroke-width="0.9" stroke-linecap="butt"/>
<ellipse cx="255" cy="337.8" rx="5.8" ry="2.2" stroke="#111" stroke-width="1.4" fill="#fff"/>
<rect x="252.7" y="339.5" width="4.6" height="23.5" rx="1" fill="#fff" stroke="#111" stroke-width="1.1"/>
<line x1="252.7" y1="343" x2="257.3" y2="344" stroke="#111" stroke-width="1.0" stroke-linecap="butt"/>
<line x1="252.7" y1="345.4" x2="257.3" y2="346.4" stroke="#111" stroke-width="1.0" stroke-linecap="butt"/>
<line x1="252.7" y1="347.79999999999995" x2="257.3" y2="348.79999999999995" stroke="#111" stroke-width="1.0" stroke-linecap="butt"/>
<line x1="252.7" y1="350.19999999999993" x2="257.3" y2="351.19999999999993" stroke="#111" stroke-width="1.0" stroke-linecap="butt"/>
<line x1="252.7" y1="352.5999999999999" x2="257.3" y2="353.5999999999999" stroke="#111" stroke-width="1.0" stroke-linecap="butt"/>
<line x1="252.7" y1="354.9999999999999" x2="257.3" y2="355.9999999999999" stroke="#111" stroke-width="1.0" stroke-linecap="butt"/>
<line x1="252.7" y1="357.39999999999986" x2="257.3" y2="358.39999999999986" stroke="#111" stroke-width="1.0" stroke-linecap="butt"/>
<line x1="252.7" y1="359.79999999999984" x2="257.3" y2="360.79999999999984" stroke="#111" stroke-width="1.0" stroke-linecap="butt"/>
<line x1="255" y1="367" x2="255" y2="385" stroke="#222" stroke-width="1.0" stroke-dasharray="12 5" stroke-linecap="butt"/>
<path d="M234,395 L234,403 A21,14 0 0 0 276,403 L276,395" stroke="#111" stroke-width="1.5" fill="#fff" stroke-linejoin="round" stroke-linecap="round" />
<path d="M234,399.0 A21,14 0 0 0 276,399.0" stroke="#111" stroke-width="2.2" fill="none" stroke-linejoin="round" stroke-linecap="round" />
<ellipse cx="255" cy="395" rx="21" ry="14" stroke="#111" stroke-width="1.8" fill="#fff"/>
<ellipse cx="255" cy="395" rx="15.12" ry="10.08" stroke="#111" stroke-width="1.3" fill="none"/>
<ellipse cx="255" cy="394" rx="10.92" ry="7.28" stroke="#111" stroke-width="2.6" fill="none"/>
<ellipse cx="255" cy="394" rx="6.3" ry="4.2" stroke="#111" stroke-width="1.0" fill="none"/>
<ellipse cx="255" cy="394" rx="2.52" ry="1.9600000000000002" stroke="#111" stroke-width="1.0" fill="none"/>
<line x1="255" y1="412" x2="255" y2="520" stroke="#222" stroke-width="1.0" stroke-dasharray="12 5" stroke-linecap="butt"/>
<text x="334" y="368" font-size="20" font-weight="bold" fill="#111" text-anchor="start">27</text>
<line x1="260" y1="338" x2="332" y2="358" stroke="#111" stroke-width="1.1" stroke-linecap="butt"/>
<line x1="350" y1="372" x2="372" y2="420" stroke="#111" stroke-width="1.1" stroke-linecap="butt"/>
<path d="M371.3,425 L370.8,421.5 Q375,418 379.2,421.5 L378.7,425 Z" fill="#fff" stroke="#111" stroke-width="1.5"/>
<line x1="373.5" y1="420.5" x2="373.5" y2="425" stroke="#111" stroke-width="0.9" stroke-linecap="butt"/>
<line x1="377" y1="420.5" x2="377" y2="425" stroke="#111" stroke-width="0.9" stroke-linecap="butt"/>
<ellipse cx="375" cy="425.8" rx="5.8" ry="2.2" stroke="#111" stroke-width="1.4" fill="#fff"/>
<rect x="372.7" y="427.5" width="4.6" height="23.5" rx="1" fill="#fff" stroke="#111" stroke-width="1.1"/>
<line x1="372.7" y1="431" x2="377.3" y2="432" stroke="#111" stroke-width="1.0" stroke-linecap="butt"/>
<line x1="372.7" y1="433.4" x2="377.3" y2="434.4" stroke="#111" stroke-width="1.0" stroke-linecap="butt"/>
<line x1="372.7" y1="435.79999999999995" x2="377.3" y2="436.79999999999995" stroke="#111" stroke-width="1.0" stroke-linecap="butt"/>
<line x1="372.7" y1="438.19999999999993" x2="377.3" y2="439.19999999999993" stroke="#111" stroke-width="1.0" stroke-linecap="butt"/>
<line x1="372.7" y1="440.5999999999999" x2="377.3" y2="441.5999999999999" stroke="#111" stroke-width="1.0" stroke-linecap="butt"/>
<line x1="372.7" y1="442.9999999999999" x2="377.3" y2="443.9999999999999" stroke="#111" stroke-width="1.0" stroke-linecap="butt"/>
<line x1="372.7" y1="445.39999999999986" x2="377.3" y2="446.39999999999986" stroke="#111" stroke-width="1.0" stroke-linecap="butt"/>
<line x1="372.7" y1="447.79999999999984" x2="377.3" y2="448.79999999999984" stroke="#111" stroke-width="1.0" stroke-linecap="butt"/>
<line x1="375" y1="453" x2="375" y2="468" stroke="#222" stroke-width="1.0" stroke-dasharray="12 5" stroke-linecap="butt"/>
<path d="M354,477 L354,485 A21,14 0 0 0 396,485 L396,477" stroke="#111" stroke-width="1.5" fill="#fff" stroke-linejoin="round" stroke-linecap="round" />
<path d="M354,481.0 A21,14 0 0 0 396,481.0" stroke="#111" stroke-width="2.2" fill="none" stroke-linejoin="round" stroke-linecap="round" />
<ellipse cx="375" cy="477" rx="21" ry="14" stroke="#111" stroke-width="1.8" fill="#fff"/>
<ellipse cx="375" cy="477" rx="15.12" ry="10.08" stroke="#111" stroke-width="1.3" fill="none"/>
<ellipse cx="375" cy="476" rx="10.92" ry="7.28" stroke="#111" stroke-width="2.6" fill="none"/>
<ellipse cx="375" cy="476" rx="6.3" ry="4.2" stroke="#111" stroke-width="1.0" fill="none"/>
<ellipse cx="375" cy="476" rx="2.52" ry="1.9600000000000002" stroke="#111" stroke-width="1.0" fill="none"/>
<line x1="375" y1="495" x2="375" y2="590" stroke="#222" stroke-width="1.0" stroke-dasharray="12 5" stroke-linecap="butt"/>
<text x="291" y="458" font-size="20" font-weight="bold" fill="#111" text-anchor="start">335</text>
<line x1="273" y1="408" x2="292" y2="442" stroke="#111" stroke-width="1.1" stroke-linecap="butt"/>
<line x1="325" y1="460" x2="355" y2="472" stroke="#111" stroke-width="1.1" stroke-linecap="butt"/>
<text x="163" y="422" font-size="20" font-weight="bold" fill="#111" text-anchor="start">342</text>
<line x1="198" y1="415" x2="235" y2="420" stroke="#111" stroke-width="1.1" stroke-linecap="butt"/>
<path d="M235,419 L240,414 L243,416 L243,436 L267,444 L267,449 L259,453 L235,440 Z" stroke="#111" stroke-width="1.3" fill="#fff" stroke-linejoin="round" stroke-linecap="round" />
<path d="M243,436 L236,433 L236,419" stroke="#111" stroke-width="1.0" fill="none" stroke-linejoin="round" stroke-linecap="round" />
<rect x="236.5" y="421" width="4" height="8" rx="1.5" fill="none" stroke="#111" stroke-width="1"/>
<ellipse cx="256" cy="442" rx="2.2" ry="1.4" stroke="#111" stroke-width="0.9" fill="none"/>
<text x="110" y="465" font-size="20" font-weight="bold" fill="#111" text-anchor="start">359</text>
<line x1="147" y1="459" x2="183" y2="463" stroke="#111" stroke-width="1.1" stroke-linecap="butt"/>
<g transform="translate(189 464) rotate(28)"><path d="M2.52,-2.3100000000000005 L8.4,-1.8900000000000001 Q10.5,0 8.4,1.8900000000000001 L2.52,2.3100000000000005 Z" fill="#fff" stroke="#111" stroke-width="1"/><ellipse cx="2.94" cy="0" rx="2.1" ry="4.41" fill="#fff" stroke="#111" stroke-width="1.2"/><rect x="-3.7800000000000002" y="-3.57" width="6.300000000000001" height="7.14" rx="1.2" fill="#333" stroke="#111" stroke-width="1.2"/><path d="M-2.1,-1.26 L1.26,-1.26 M-2.1,1.26 L1.26,1.26" stroke="#ddd" stroke-width="0.8"/></g>
<line x1="200" y1="468" x2="219" y2="480" stroke="#222" stroke-width="1.0" stroke-dasharray="9 5" stroke-linecap="butt"/>
<path d="M222,481 L226,471 L230,470 L232,476 L237,479 L237,510 L267,518 L267,523 L257,528 L222,508 Z" stroke="#111" stroke-width="1.3" fill="#fff" stroke-linejoin="round" stroke-linecap="round" />
<path d="M237,510 L226,504 L222,508 M226,504 L226,480" stroke="#111" stroke-width="1.0" fill="none" stroke-linejoin="round" stroke-linecap="round" />
<ellipse cx="229" cy="488" rx="1.8" ry="2" stroke="#111" stroke-width="0.9" fill="none"/>
<ellipse cx="256" cy="520" rx="4" ry="2.3" stroke="#111" stroke-width="0.9" fill="none"/>
<ellipse cx="256" cy="520" rx="2" ry="1.2" stroke="#111" stroke-width="0.8" fill="none"/>
<path d="M250.0,461 L250.0,473 A6.0,2.4000000000000004 0 0 0 262.0,473 L262.0,461" stroke="#111" stroke-width="1.3" fill="#fff" stroke-linejoin="round" stroke-linecap="round" />
<ellipse cx="256" cy="461" rx="6.0" ry="2.4000000000000004" stroke="#111" stroke-width="1.3" fill="#fff"/>
<ellipse cx="256" cy="461" rx="2.7" ry="1.2000000000000002" stroke="#111" stroke-width="0.9" fill="none"/>
<text x="301" y="563" font-size="20" font-weight="bold" fill="#111" text-anchor="start">363</text>
<line x1="260" y1="480" x2="302" y2="543" stroke="#111" stroke-width="1.1" stroke-linecap="butt"/>
<line x1="337" y1="556" x2="368" y2="565" stroke="#111" stroke-width="1.1" stroke-linecap="butt"/>
<path d="M368.5,562 L368.5,573 A6.5,2.6 0 0 0 381.5,573 L381.5,562" stroke="#111" stroke-width="1.3" fill="#fff" stroke-linejoin="round" stroke-linecap="round" />
<ellipse cx="375" cy="562" rx="6.5" ry="2.6" stroke="#111" stroke-width="1.3" fill="#fff"/>
<ellipse cx="375" cy="562" rx="2.9250000000000003" ry="1.3" stroke="#111" stroke-width="0.9" fill="none"/>
<text x="428" y="485" font-size="20" font-weight="bold" fill="#111" text-anchor="start">342</text>
<line x1="425" y1="489" x2="397" y2="522" stroke="#111" stroke-width="1.1" stroke-linecap="butt"/>
<path d="M365,523 L373,519 L387,525 L387,519 L396,517 L397,533 L388,538 L365,526 Z" stroke="#111" stroke-width="1.3" fill="#fff" stroke-linejoin="round" stroke-linecap="round" />
<rect x="389.5" y="522" width="4" height="10" rx="1.5" fill="none" stroke="#111" stroke-width="1"/>
<ellipse cx="375" cy="525" rx="2.2" ry="1.3" stroke="#111" stroke-width="0.9" fill="none"/>
<text x="446" y="558" font-size="20" font-weight="bold" fill="#111" text-anchor="start">359</text>
<line x1="449" y1="562" x2="437" y2="597" stroke="#111" stroke-width="1.1" stroke-linecap="butt"/>
<text x="418" y="270" font-size="20" font-weight="bold" fill="#111" text-anchor="start">335</text>
<line x1="453" y1="267" x2="481" y2="277" stroke="#111" stroke-width="1.1" stroke-linecap="butt"/>
<text x="428" y="312" font-size="20" font-weight="bold" fill="#111" text-anchor="start">280</text>
<line x1="463" y1="312" x2="493" y2="322" stroke="#111" stroke-width="1.1" stroke-linecap="butt"/>
<text x="375" y="323" font-size="20" font-weight="bold" fill="#111" text-anchor="start">143</text>
<line x1="407" y1="327" x2="435" y2="335" stroke="#111" stroke-width="1.1" stroke-linecap="butt"/>
<line x1="407" y1="327" x2="418" y2="346" stroke="#111" stroke-width="1.1" stroke-linecap="butt"/>
<g transform="translate(438 338) rotate(28)"><path d="M2.88,-2.64 L9.6,-2.16 Q12.0,0 9.6,2.16 L2.88,2.64 Z" fill="#fff" stroke="#111" stroke-width="1"/><ellipse cx="3.36" cy="0" rx="2.4" ry="5.04" fill="#fff" stroke="#111" stroke-width="1.2"/><rect x="-4.32" y="-4.08" width="7.199999999999999" height="8.16" rx="1.2" fill="#333" stroke="#111" stroke-width="1.2"/><path d="M-2.4,-1.44 L1.44,-1.44 M-2.4,1.44 L1.44,1.44" stroke="#ddd" stroke-width="0.8"/></g>
<g transform="translate(421 349) rotate(28)"><path d="M2.88,-2.64 L9.6,-2.16 Q12.0,0 9.6,2.16 L2.88,2.64 Z" fill="#fff" stroke="#111" stroke-width="1"/><ellipse cx="3.36" cy="0" rx="2.4" ry="5.04" fill="#fff" stroke="#111" stroke-width="1.2"/><rect x="-4.32" y="-4.08" width="7.199999999999999" height="8.16" rx="1.2" fill="#333" stroke="#111" stroke-width="1.2"/><path d="M-2.4,-1.44 L1.44,-1.44 M-2.4,1.44 L1.44,1.44" stroke="#ddd" stroke-width="0.8"/></g>
<line x1="449" y1="344" x2="478" y2="361" stroke="#222" stroke-width="1.0" stroke-dasharray="10 5" stroke-linecap="butt"/>
<line x1="432" y1="354" x2="463" y2="372" stroke="#222" stroke-width="1.0" stroke-dasharray="10 5" stroke-linecap="butt"/>
<text x="555" y="225" font-size="20" font-weight="bold" fill="#111" text-anchor="start">315</text>
<line x1="549" y1="223" x2="503" y2="230" stroke="#111" stroke-width="1.1" stroke-linecap="butt"/>
<line x1="549" y1="227" x2="538" y2="258" stroke="#111" stroke-width="1.1" stroke-linecap="butt"/>
<path d="M495.3,232 L494.8,228.5 Q499,225 503.2,228.5 L502.7,232 Z" fill="#fff" stroke="#111" stroke-width="1.5"/>
<line x1="497.5" y1="227.5" x2="497.5" y2="232" stroke="#111" stroke-width="0.9" stroke-linecap="butt"/>
<line x1="501" y1="227.5" x2="501" y2="232" stroke="#111" stroke-width="0.9" stroke-linecap="butt"/>
<ellipse cx="499" cy="232.8" rx="5.8" ry="2.2" stroke="#111" stroke-width="1.4" fill="#fff"/>
<rect x="496.7" y="234.5" width="4.6" height="21.5" rx="1" fill="#fff" stroke="#111" stroke-width="1.1"/>
<line x1="496.7" y1="238" x2="501.3" y2="239" stroke="#111" stroke-width="1.0" stroke-linecap="butt"/>
<line x1="496.7" y1="240.4" x2="501.3" y2="241.4" stroke="#111" stroke-width="1.0" stroke-linecap="butt"/>
<line x1="496.7" y1="242.8" x2="501.3" y2="243.8" stroke="#111" stroke-width="1.0" stroke-linecap="butt"/>
<line x1="496.7" y1="245.20000000000002" x2="501.3" y2="246.20000000000002" stroke="#111" stroke-width="1.0" stroke-linecap="butt"/>
<line x1="496.7" y1="247.60000000000002" x2="501.3" y2="248.60000000000002" stroke="#111" stroke-width="1.0" stroke-linecap="butt"/>
<line x1="496.7" y1="250.00000000000003" x2="501.3" y2="251.00000000000003" stroke="#111" stroke-width="1.0" stroke-linecap="butt"/>
<line x1="496.7" y1="252.40000000000003" x2="501.3" y2="253.40000000000003" stroke="#111" stroke-width="1.0" stroke-linecap="butt"/>
<line x1="496.7" y1="254.80000000000004" x2="501.3" y2="255.80000000000004" stroke="#111" stroke-width="1.0" stroke-linecap="butt"/>
<path d="M532.3,264 L531.8,260.5 Q536,257 540.2,260.5 L539.7,264 Z" fill="#fff" stroke="#111" stroke-width="1.5"/>
<line x1="534.5" y1="259.5" x2="534.5" y2="264" stroke="#111" stroke-width="0.9" stroke-linecap="butt"/>
<line x1="538" y1="259.5" x2="538" y2="264" stroke="#111" stroke-width="0.9" stroke-linecap="butt"/>
<ellipse cx="536" cy="264.8" rx="5.8" ry="2.2" stroke="#111" stroke-width="1.4" fill="#fff"/>
<rect x="533.7" y="266.5" width="4.6" height="20.5" rx="1" fill="#fff" stroke="#111" stroke-width="1.1"/>
<line x1="533.7" y1="270" x2="538.3" y2="271" stroke="#111" stroke-width="1.0" stroke-linecap="butt"/>
<line x1="533.7" y1="272.4" x2="538.3" y2="273.4" stroke="#111" stroke-width="1.0" stroke-linecap="butt"/>
<line x1="533.7" y1="274.79999999999995" x2="538.3" y2="275.79999999999995" stroke="#111" stroke-width="1.0" stroke-linecap="butt"/>
<line x1="533.7" y1="277.19999999999993" x2="538.3" y2="278.19999999999993" stroke="#111" stroke-width="1.0" stroke-linecap="butt"/>
<line x1="533.7" y1="279.5999999999999" x2="538.3" y2="280.5999999999999" stroke="#111" stroke-width="1.0" stroke-linecap="butt"/>
<line x1="533.7" y1="281.9999999999999" x2="538.3" y2="282.9999999999999" stroke="#111" stroke-width="1.0" stroke-linecap="butt"/>
<line x1="533.7" y1="284.39999999999986" x2="538.3" y2="285.39999999999986" stroke="#111" stroke-width="1.0" stroke-linecap="butt"/>
<line x1="499" y1="258" x2="499" y2="272" stroke="#222" stroke-width="1.0" stroke-dasharray="12 5" stroke-linecap="butt"/>
<path d="M479,288 L479,296 A20,13 0 0 0 519,296 L519,288" stroke="#111" stroke-width="1.5" fill="#fff" stroke-linejoin="round" stroke-linecap="round" />
<path d="M479,292.0 A20,13 0 0 0 519,292.0" stroke="#111" stroke-width="2.2" fill="none" stroke-linejoin="round" stroke-linecap="round" />
<ellipse cx="499" cy="288" rx="20" ry="13" stroke="#111" stroke-width="1.8" fill="#fff"/>
<ellipse cx="499" cy="288" rx="14.399999999999999" ry="9.36" stroke="#111" stroke-width="1.3" fill="none"/>
<ellipse cx="499" cy="287" rx="10.4" ry="6.76" stroke="#111" stroke-width="2.6" fill="none"/>
<ellipse cx="499" cy="287" rx="6.0" ry="3.9" stroke="#111" stroke-width="1.0" fill="none"/>
<ellipse cx="499" cy="287" rx="2.4" ry="1.8200000000000003" stroke="#111" stroke-width="1.0" fill="none"/>
<line x1="499" y1="305" x2="499" y2="318" stroke="#222" stroke-width="1.0" stroke-dasharray="12 5" stroke-linecap="butt"/>
<path d="M495.4,322 L497.2,319.2 L500.8,319.2 L502.6,322 L500.8,324.8 L497.2,324.8 Z" stroke="#111" stroke-width="1.4" fill="#fff" stroke-linejoin="round" stroke-linecap="round" />
<ellipse cx="499" cy="322" rx="1.6" ry="1.28" stroke="#111" stroke-width="1.1" fill="#fff"/>
<path d="M495.4,322 L495.4,324 L497.2,326.8 L500.8,326.8 L502.6,324 L502.6,322" stroke="#111" stroke-width="1.1" fill="none" stroke-linejoin="round" stroke-linecap="round" />
<line x1="499" y1="330" x2="499" y2="405" stroke="#222" stroke-width="1.0" stroke-dasharray="12 5" stroke-linecap="butt"/>
<line x1="536" y1="290" x2="536" y2="318" stroke="#222" stroke-width="1.0" stroke-dasharray="12 5" stroke-linecap="butt"/>
<path d="M513,345 A23,13.5 0 0 0 559,345 A23,13.5 0 0 0 513,345" stroke="#111" stroke-width="1.5" fill="#fff" stroke-linejoin="round" stroke-linecap="round" />
<path d="M514,348 A23,13.5 0 0 0 558,348" stroke="#111" stroke-width="1.1" fill="none" stroke-linejoin="round" stroke-linecap="round" />
<path d="M517,344 A19,11.0 0 0 0 555,344" stroke="#111" stroke-width="1.1" fill="none" stroke-linejoin="round" stroke-linecap="round" />
<path d="M516,337 L517,344 M556,337 L555,344" stroke="#111" stroke-width="1.1" fill="none" stroke-linejoin="round" stroke-linecap="round" />
<ellipse cx="536" cy="335" rx="23" ry="13.5" stroke="#111" stroke-width="1.6" fill="#fff"/>
<ellipse cx="536" cy="335" rx="19.32" ry="11.069999999999999" stroke="#111" stroke-width="1.1" fill="none"/>
<ellipse cx="536" cy="336" rx="12.65" ry="7.425000000000001" stroke="#111" stroke-width="1.3" fill="none"/>
<ellipse cx="536" cy="336.5" rx="9.200000000000001" ry="5.67" stroke="#111" stroke-width="2.6" fill="none"/>
<ellipse cx="536" cy="336.5" rx="5.06" ry="3.2399999999999998" stroke="#111" stroke-width="1.6" fill="none"/>
<ellipse cx="536" cy="336.5" rx="1.84" ry="1.35" stroke="#111" stroke-width="1.0" fill="none"/>
<line x1="536" y1="358" x2="536" y2="384" stroke="#222" stroke-width="1.0" stroke-dasharray="12 5" stroke-linecap="butt"/>
<text x="593" y="312" font-size="20" font-weight="bold" fill="#111" text-anchor="start">362</text>
<line x1="589" y1="315" x2="559" y2="328" stroke="#111" stroke-width="1.1" stroke-linecap="butt"/>
<text x="582" y="371" font-size="20" font-weight="bold" fill="#111" text-anchor="start">364</text>
<line x1="577" y1="373" x2="547" y2="387" stroke="#111" stroke-width="1.1" stroke-linecap="butt"/>
<path d="M464,373 L496,356 L497,377 L514,387 L526,386 L534,381 L544,383 L547,388 L502,415 L498,415 L465,394 Z" stroke="#111" stroke-width="1.4" fill="#fff" stroke-linejoin="round" stroke-linecap="round" />
<path d="M465,394 L497,377 M467,376 L467,393 M466,396 L499,417 L503,417 L547,390" stroke="#111" stroke-width="1.0" fill="none" stroke-linejoin="round" stroke-linecap="round" />
<ellipse cx="473" cy="385" rx="2.4" ry="3.2" stroke="#111" stroke-width="1.8" fill="#444" transform="rotate(20 473 385)"/>
<ellipse cx="490" cy="375" rx="2.4" ry="3.2" stroke="#111" stroke-width="1.8" fill="#444" transform="rotate(20 490 375)"/>
<ellipse cx="535" cy="385.5" rx="4.2" ry="2.6" stroke="#111" stroke-width="1.2" fill="none"/>
<ellipse cx="498" cy="406" rx="4.2" ry="2.6" stroke="#111" stroke-width="1.2" fill="none"/>
<line x1="494" y1="406" x2="502" y2="406" stroke="#111" stroke-width="0.9" stroke-linecap="butt"/>
<text x="683" y="335" font-size="20" font-weight="bold" fill="#111" text-anchor="start">116</text>
<line x1="697" y1="342" x2="689" y2="387" stroke="#111" stroke-width="1.1" stroke-linecap="butt"/>
<line x1="702" y1="342" x2="717" y2="367" stroke="#111" stroke-width="1.1" stroke-linecap="butt"/>
<ellipse cx="719" cy="373.5" rx="5" ry="3.75" stroke="#111" stroke-width="1.2" fill="#fff"/>
<path d="M714.75,371.5 L716.75,368.25 L721.25,368.25 L723.25,371.5 L721.25,375.0 L716.75,375.0 Z" stroke="#111" stroke-width="1.4" fill="#444" stroke-linejoin="round" stroke-linecap="round" />
<ellipse cx="719" cy="371.7" rx="1.75" ry="1.4000000000000001" stroke="#111" stroke-width="0.9" fill="#fff"/>
<ellipse cx="687" cy="393.5" rx="5" ry="3.75" stroke="#111" stroke-width="1.2" fill="#fff"/>
<path d="M682.75,391.5 L684.75,388.25 L689.25,388.25 L691.25,391.5 L689.25,395.0 L684.75,395.0 Z" stroke="#111" stroke-width="1.4" fill="#444" stroke-linejoin="round" stroke-linecap="round" />
<ellipse cx="687" cy="391.7" rx="1.75" ry="1.4000000000000001" stroke="#111" stroke-width="0.9" fill="#fff"/>
<text x="806" y="335" font-size="20" font-weight="bold" fill="#111" text-anchor="start">351</text>
<line x1="815" y1="345" x2="806" y2="375" stroke="#111" stroke-width="1.1" stroke-linecap="butt"/>
<path d="M677,408 L734,380 L807,377 L826,387 L826,412 L822,414 L806,405 L806,392 L741,397 L694,422 Z" stroke="#111" stroke-width="1.3" fill="#fff" stroke-linejoin="round" stroke-linecap="round" />
<path d="M677,408 L677,412 L694,426 L694,422 M694,426 L741,401 L741,397 M806,392 L826,387" stroke="#111" stroke-width="1.0" fill="none" stroke-linejoin="round" stroke-linecap="round" />
<path d="M731,385 L797,381.5 Q802,382 801,385 L799,386 L733,389.5 Q728,389 731,385 Z" fill="none" stroke="#111" stroke-width="1.2"/>
<line x1="733" y1="387.5" x2="798" y2="384" stroke="#111" stroke-width="0.8" stroke-linecap="butt"/>
<ellipse cx="717" cy="393" rx="2.3" ry="1.6" stroke="#111" stroke-width="1.0" fill="none"/>
<ellipse cx="687" cy="411" rx="2.3" ry="1.8" stroke="#111" stroke-width="1.0" fill="none"/>
<ellipse cx="811" cy="382" rx="2.5" ry="1.8" stroke="#111" stroke-width="1.0" fill="none"/>
<ellipse cx="814" cy="400" rx="2" ry="2.8" stroke="#111" stroke-width="1.0" fill="none"/>
<path d="M711.95,425 L713.975,421.85 L718.025,421.85 L720.05,425 L718.025,428.15 L713.975,428.15 Z" stroke="#111" stroke-width="1.4" fill="#fff" stroke-linejoin="round" stroke-linecap="round" />
<ellipse cx="716" cy="425" rx="1.8" ry="1.44" stroke="#111" stroke-width="1.1" fill="#fff"/>
<path d="M711.95,425 L711.95,427 L713.975,430.15 L718.025,430.15 L720.05,427 L720.05,425" stroke="#111" stroke-width="1.1" fill="none" stroke-linejoin="round" stroke-linecap="round" />
<path d="M682.95,440 L684.975,436.85 L689.025,436.85 L691.05,440 L689.025,443.15 L684.975,443.15 Z" stroke="#111" stroke-width="1.4" fill="#fff" stroke-linejoin="round" stroke-linecap="round" />
<ellipse cx="687" cy="440" rx="1.8" ry="1.44" stroke="#111" stroke-width="1.1" fill="#fff"/>
<path d="M682.95,440 L682.95,442 L684.975,445.15 L689.025,445.15 L691.05,442 L691.05,440" stroke="#111" stroke-width="1.1" fill="none" stroke-linejoin="round" stroke-linecap="round" />
<text x="677" y="482" font-size="20" font-weight="bold" fill="#111" text-anchor="start">103</text>
<line x1="699" y1="463" x2="691" y2="446" stroke="#111" stroke-width="1.1" stroke-linecap="butt"/>
<line x1="700" y1="463" x2="716" y2="431" stroke="#111" stroke-width="1.1" stroke-linecap="butt"/>
<text x="803" y="79" font-size="20" font-weight="bold" fill="#111" text-anchor="start">221</text>
<line x1="824" y1="83" x2="836" y2="107" stroke="#111" stroke-width="1.1" stroke-linecap="butt"/>
<path d="M872,117 L838,119 Q831,117 832,112 Q834,107 840,107 L861,109 Q865,110 865,113 L865,116" stroke="#111" stroke-width="1.2" fill="none" stroke-linejoin="round" stroke-linecap="round" />
<path d="M872,118.6 L838,120.6" stroke="#111" stroke-width="1.0" fill="none" stroke-linejoin="round" stroke-linecap="round" />
<ellipse cx="839" cy="112.5" rx="4.6" ry="2.4" stroke="#111" stroke-width="1.1" fill="none"/>
<path d="M844,112 L862,111.5" stroke="#111" stroke-width="0.9" fill="none" stroke-linejoin="round" stroke-linecap="round" />
<rect x="889.5" y="107" width="14" height="26" rx="2" fill="#fff" stroke="#111" stroke-width="1.3"/>
<ellipse cx="896.5" cy="108.5" rx="6.5" ry="2" stroke="#111" stroke-width="1.0" fill="none"/>
<path d="M875,146 L876,152 Q885,161 897,160 Q912,159 918,150 L919,141" stroke="#111" stroke-width="1.4" fill="#fff" stroke-linejoin="round" stroke-linecap="round" />
<path d="M876,150 Q896,160 918,147" stroke="#111" stroke-width="2.2" fill="none" stroke-linejoin="round" stroke-linecap="round" />
<ellipse cx="897" cy="143" rx="22" ry="9.5" stroke="#111" stroke-width="1.4" fill="#fff" transform="rotate(-8 897 143)"/>
<text x="811" y="187" font-size="20" font-weight="bold" fill="#111" text-anchor="start">213</text>
<line x1="844" y1="175" x2="881" y2="161" stroke="#111" stroke-width="1.1" stroke-linecap="butt"/>
<path d="M946,96 L946,112 L952,138 L904,286 Q902,292 908,296 L941,310" stroke="#111" stroke-width="6.6" fill="none" stroke-linejoin="round" stroke-linecap="round" />
<path d="M946,96 L946,112 L952,138 L904,286 Q902,292 908,296 L941,310" stroke="#fff" stroke-width="4.2" fill="none" stroke-linejoin="round" stroke-linecap="round" />
<rect x="943.5" y="94" width="6" height="12" rx="2" fill="#fff" stroke="#111" stroke-width="1.1"/>
<path d="M914,293 L912,300" stroke="#111" stroke-width="1.6" fill="none" stroke-linejoin="round" stroke-linecap="round" />
<ellipse cx="942" cy="310" rx="1.5" ry="3" stroke="#111" stroke-width="1.0" fill="#fff" transform="rotate(20 942 310)"/>
<text x="837" y="235" font-size="20" font-weight="bold" fill="#111" text-anchor="start">209</text>
<line x1="876" y1="230" x2="917" y2="237" stroke="#111" stroke-width="1.1" stroke-linecap="butt"/>
<line x1="964" y1="212" x2="964" y2="317" stroke="#222" stroke-width="1.0" stroke-dasharray="10 5" stroke-linecap="butt"/>
<line x1="964" y1="212" x2="990" y2="219" stroke="#222" stroke-width="1.0" stroke-dasharray="10 5" stroke-linecap="butt"/>
<line x1="946" y1="311" x2="964" y2="317" stroke="#222" stroke-width="1.0" stroke-dasharray="10 5" stroke-linecap="butt"/>
<g transform="translate(879 490) rotate(-15.8)"><rect x="0" y="-6" width="92" height="12" fill="#555" stroke="#111" stroke-width="1.2"/><line x1="2" y1="-6" x2="5" y2="6" stroke="#ddd" stroke-width="0.7"/><line x1="5" y1="-6" x2="8" y2="6" stroke="#ddd" stroke-width="0.7"/><line x1="8" y1="-6" x2="11" y2="6" stroke="#ddd" stroke-width="0.7"/><line x1="11" y1="-6" x2="14" y2="6" stroke="#ddd" stroke-width="0.7"/><line x1="14" y1="-6" x2="17" y2="6" stroke="#ddd" stroke-width="0.7"/><line x1="17" y1="-6" x2="20" y2="6" stroke="#ddd" stroke-width="0.7"/><line x1="20" y1="-6" x2="23" y2="6" stroke="#ddd" stroke-width="0.7"/><line x1="23" y1="-6" x2="26" y2="6" stroke="#ddd" stroke-width="0.7"/><line x1="26" y1="-6" x2="29" y2="6" stroke="#ddd" stroke-width="0.7"/><line x1="29" y1="-6" x2="32" y2="6" stroke="#ddd" stroke-width="0.7"/><line x1="32" y1="-6" x2="35" y2="6" stroke="#ddd" stroke-width="0.7"/><line x1="35" y1="-6" x2="38" y2="6" stroke="#ddd" stroke-width="0.7"/><line x1="38" y1="-6" x2="41" y2="6" stroke="#ddd" stroke-width="0.7"/><line x1="41" y1="-6" x2="44" y2="6" stroke="#ddd" stroke-width="0.7"/><line x1="44" y1="-6" x2="47" y2="6" stroke="#ddd" stroke-width="0.7"/><line x1="47" y1="-6" x2="50" y2="6" stroke="#ddd" stroke-width="0.7"/><line x1="50" y1="-6" x2="53" y2="6" stroke="#ddd" stroke-width="0.7"/><line x1="53" y1="-6" x2="56" y2="6" stroke="#ddd" stroke-width="0.7"/><line x1="56" y1="-6" x2="59" y2="6" stroke="#ddd" stroke-width="0.7"/><line x1="59" y1="-6" x2="62" y2="6" stroke="#ddd" stroke-width="0.7"/><line x1="62" y1="-6" x2="65" y2="6" stroke="#ddd" stroke-width="0.7"/><line x1="65" y1="-6" x2="68" y2="6" stroke="#ddd" stroke-width="0.7"/><line x1="68" y1="-6" x2="71" y2="6" stroke="#ddd" stroke-width="0.7"/><line x1="71" y1="-6" x2="74" y2="6" stroke="#ddd" stroke-width="0.7"/><line x1="74" y1="-6" x2="77" y2="6" stroke="#ddd" stroke-width="0.7"/><line x1="77" y1="-6" x2="80" y2="6" stroke="#ddd" stroke-width="0.7"/><line x1="80" y1="-6" x2="83" y2="6" stroke="#ddd" stroke-width="0.7"/><line x1="83" y1="-6" x2="86" y2="6" stroke="#ddd" stroke-width="0.7"/><line x1="86" y1="-6" x2="89" y2="6" stroke="#ddd" stroke-width="0.7"/><line x1="89" y1="-6" x2="92" y2="6" stroke="#ddd" stroke-width="0.7"/></g>
<path d="M879,494 Q872,494 868,500 Q867,505 872,506 L884,503" stroke="#111" stroke-width="1.1" fill="none" stroke-linejoin="round" stroke-linecap="round" />
<path d="M967,461 Q972,455 977,456 Q980,459 976,463" stroke="#111" stroke-width="1.1" fill="none" stroke-linejoin="round" stroke-linecap="round" />
<text x="897" y="537" font-size="20" font-weight="bold" fill="#111" text-anchor="start">161</text>
<line x1="912" y1="518" x2="909" y2="492" stroke="#111" stroke-width="1.1" stroke-linecap="butt"/>
<text x="1005" y="121" font-size="20" font-weight="bold" fill="#111" text-anchor="start">207</text>
<line x1="1021" y1="123" x2="1043" y2="197" stroke="#111" stroke-width="1.1" stroke-linecap="butt"/>
<text x="1058" y="138" font-size="20" font-weight="bold" fill="#111" text-anchor="start">206</text>
<line x1="1079" y1="142" x2="1092" y2="217" stroke="#111" stroke-width="1.1" stroke-linecap="butt"/>
<text x="1166" y="157" font-size="20" font-weight="bold" fill="#111" text-anchor="start">125</text>
<line x1="1166" y1="153" x2="1115" y2="157" stroke="#111" stroke-width="1.1" stroke-linecap="butt"/>
<line x1="1166" y1="155" x2="1124" y2="193" stroke="#111" stroke-width="1.1" stroke-linecap="butt"/>
<path d="M1103.0,154 Q1108,151 1113.0,154 L1114.5,158 L1113.5,167 L1102.5,167 L1101.5,158 Z" fill="#fff" stroke="#111" stroke-width="1.5"/>
<line x1="1105.5" y1="158" x2="1105.5" y2="167" stroke="#111" stroke-width="1.0" stroke-linecap="butt"/>
<line x1="1110.5" y1="158" x2="1110.5" y2="167" stroke="#111" stroke-width="1.0" stroke-linecap="butt"/>
<path d="M1101.5,158 Q1108,161 1114.5,158" stroke="#111" stroke-width="1.0" fill="none" stroke-linejoin="round" stroke-linecap="round" />
<rect x="1104.8" y="167" width="6.4" height="11" fill="#fff" stroke="#111" stroke-width="1.2"/>
<line x1="1104.8" y1="169.5" x2="1111.2" y2="169.5" stroke="#111" stroke-width="0.9" stroke-linecap="butt"/>
<line x1="1104.8" y1="171.9" x2="1111.2" y2="171.9" stroke="#111" stroke-width="0.9" stroke-linecap="butt"/>
<line x1="1104.8" y1="174.3" x2="1111.2" y2="174.3" stroke="#111" stroke-width="0.9" stroke-linecap="butt"/>
<line x1="1104.8" y1="176.70000000000002" x2="1111.2" y2="176.70000000000002" stroke="#111" stroke-width="0.9" stroke-linecap="butt"/>
<path d="M1113.0,194 Q1118,191 1123.0,194 L1124.5,198 L1123.5,207 L1112.5,207 L1111.5,198 Z" fill="#fff" stroke="#111" stroke-width="1.5"/>
<line x1="1115.5" y1="198" x2="1115.5" y2="207" stroke="#111" stroke-width="1.0" stroke-linecap="butt"/>
<line x1="1120.5" y1="198" x2="1120.5" y2="207" stroke="#111" stroke-width="1.0" stroke-linecap="butt"/>
<path d="M1111.5,198 Q1118,201 1124.5,198" stroke="#111" stroke-width="1.0" fill="none" stroke-linejoin="round" stroke-linecap="round" />
<rect x="1114.8" y="207" width="6.4" height="11" fill="#fff" stroke="#111" stroke-width="1.2"/>
<line x1="1114.8" y1="209.5" x2="1121.2" y2="209.5" stroke="#111" stroke-width="0.9" stroke-linecap="butt"/>
<line x1="1114.8" y1="211.9" x2="1121.2" y2="211.9" stroke="#111" stroke-width="0.9" stroke-linecap="butt"/>
<line x1="1114.8" y1="214.3" x2="1121.2" y2="214.3" stroke="#111" stroke-width="0.9" stroke-linecap="butt"/>
<line x1="1114.8" y1="216.70000000000002" x2="1121.2" y2="216.70000000000002" stroke="#111" stroke-width="0.9" stroke-linecap="butt"/>
<line x1="1107" y1="181" x2="1107" y2="440" stroke="#222" stroke-width="1.0" stroke-dasharray="11 4" stroke-linecap="butt"/>
<line x1="1117" y1="221" x2="1117" y2="427" stroke="#222" stroke-width="1.0" stroke-dasharray="11 4" stroke-linecap="butt"/>
<text x="1176" y="224" font-size="20" font-weight="bold" fill="#111" text-anchor="start">116</text>
<line x1="1175" y1="227" x2="1146" y2="245" stroke="#111" stroke-width="1.1" stroke-linecap="butt"/>
<g transform="translate(1139 248)"><rect x="-6" y="-6" width="11" height="12" rx="2" fill="#fff" stroke="#111" stroke-width="1.8"/><ellipse cx="2" cy="0" rx="3.2" ry="5" fill="#fff" stroke="#111" stroke-width="1.4"/><line x1="-6" y1="-1" x2="-1" y2="-1" stroke="#111" stroke-width="1.2"/><ellipse cx="2" cy="0" rx="1.4" ry="2.4" fill="#222"/></g>
<line x1="1093" y1="231" x2="1135" y2="246" stroke="#222" stroke-width="1.0" stroke-dasharray="9 4" stroke-linecap="butt"/>
<path d="M1080,234 L1084,221 L1097,218 L1103,226 L1116,248 L1126,251 L1126,258 L1109,270 L1096,269 L1080,251 Z" stroke="#111" stroke-width="1.5" fill="#fff" stroke-linejoin="round" stroke-linecap="round" />
<path d="M1083,236 L1087,224 L1097,221 L1116,252 L1122,254 M1083,236 L1083,250 L1097,265 L1108,266 L1124,256" stroke="#111" stroke-width="1.0" fill="none" stroke-linejoin="round" stroke-linecap="round" />
<ellipse cx="1087" cy="230" rx="1.8" ry="3" stroke="#111" stroke-width="1.0" fill="none" transform="rotate(15 1087 230)"/>
<ellipse cx="1093" cy="258" rx="1.5" ry="2.8" stroke="#111" stroke-width="1.0" fill="none" transform="rotate(15 1093 258)"/>
<rect x="1117.5" y="252.5" width="5" height="4" fill="#fff" stroke="#111" stroke-width="1"/>
<ellipse cx="1107" cy="263" rx="3.2" ry="1.8" stroke="#111" stroke-width="1.0" fill="none"/>
<path d="M1105,252 L1106,259 M1109,252 L1108,259 M1103,253 Q1107,249 1111,253" stroke="#111" stroke-width="1.0" fill="none" stroke-linejoin="round" stroke-linecap="round" />
<ellipse cx="1068" cy="226" rx="5.5" ry="10.5" stroke="#111" stroke-width="2.0" fill="none" transform="rotate(-12 1068 226)"/>
<path d="M1073,216 Q1080,215 1079,226" stroke="#111" stroke-width="1.6" fill="none" stroke-linejoin="round" stroke-linecap="round" />
<path d="M1060,212 L1064,208 L1070,210 L1066,215 Z M1060,212 L1062,220" stroke="#111" stroke-width="1.1" fill="none" stroke-linejoin="round" stroke-linecap="round" />
<text x="1046" y="303" font-size="20" font-weight="bold" fill="#111" text-anchor="start">26</text>
<line x1="1060" y1="287" x2="1066" y2="238" stroke="#111" stroke-width="1.1" stroke-linecap="butt"/>
<path d="M1015,228 L1055,190 L1059,187 L1063,190 L1061,196 L1048,208 L1046,214 L1041,215 L1040,211 L1024,231 L1020,236 L1015,234 Z" stroke="#111" stroke-width="1.3" fill="#fff" stroke-linejoin="round" stroke-linecap="round" />
<path d="M1018,230 L1057,192 M1015,228 L1020,231 L1020,236 M1057,192 L1061,196" stroke="#111" stroke-width="1.0" fill="none" stroke-linejoin="round" stroke-linecap="round" />
<ellipse cx="1047" cy="215" rx="3.2" ry="4.5" stroke="#111" stroke-width="1.4" fill="#fff" transform="rotate(20 1047 215)"/>
<path d="M1056,188 L1058,184 L1062,186 L1061,190" stroke="#111" stroke-width="1.0" fill="none" stroke-linejoin="round" stroke-linecap="round" />
<text x="978" y="262" font-size="20" font-weight="bold" fill="#111" text-anchor="start">160</text>
<line x1="1012" y1="255" x2="1040" y2="248" stroke="#111" stroke-width="1.1" stroke-linecap="butt"/>
<path d="M1041,252 Q1036,238 1040,234 Q1044,231 1044,240 Q1046,231 1049,233 Q1051,238 1043,251 Z M1042,238 L1042,249 M1045,238 L1043,248" stroke="#111" stroke-width="2.2" fill="none" stroke-linejoin="round" stroke-linecap="round" />
<path d="M998,288 Q998,281 1004,281 Q1010,281 1010,288 Z" stroke="#111" stroke-width="1.3" fill="#fff" stroke-linejoin="round" stroke-linecap="round" />
<rect x="1001" y="288" width="6" height="26" fill="#fff" stroke="#111" stroke-width="1.2"/>
<line x1="1001" y1="303" x2="1007" y2="303" stroke="#111" stroke-width="0.9" stroke-linecap="butt"/>
<line x1="1001" y1="306" x2="1007" y2="306" stroke="#111" stroke-width="0.9" stroke-linecap="butt"/>
<line x1="1001" y1="309" x2="1007" y2="309" stroke="#111" stroke-width="0.9" stroke-linecap="butt"/>
<line x1="1001" y1="312" x2="1007" y2="312" stroke="#111" stroke-width="0.9" stroke-linecap="butt"/>
<text x="965" y="340" font-size="20" font-weight="bold" fill="#111" text-anchor="start">185</text>
<line x1="995" y1="326" x2="1001" y2="315" stroke="#111" stroke-width="1.1" stroke-linecap="butt"/>
<text x="967" y="154" font-size="20" font-weight="bold" fill="#111" text-anchor="start">92</text>
<line x1="983" y1="158" x2="983" y2="186" stroke="#111" stroke-width="1.1" stroke-linecap="butt"/>
<g transform="translate(981 192) rotate(10)"><rect x="-4" y="-5" width="6" height="10" rx="1" fill="#fff" stroke="#111" stroke-width="1.3"/><rect x="2" y="-3" width="25" height="6" rx="1.5" fill="#fff" stroke="#111" stroke-width="1.2"/></g>
<line x1="1010" y1="198" x2="1040" y2="210" stroke="#222" stroke-width="1.0" stroke-dasharray="9 4" stroke-linecap="butt"/>
<line x1="990" y1="219" x2="1017" y2="229" stroke="#222" stroke-width="1.0" stroke-dasharray="9 4" stroke-linecap="butt"/>
<text x="1227" y="475" font-size="20" font-weight="bold" fill="#111" text-anchor="start">197</text>
<line x1="1260" y1="468" x2="1305" y2="457" stroke="#111" stroke-width="1.1" stroke-linecap="butt"/>
<text x="1280" y="497" font-size="20" font-weight="bold" fill="#111" text-anchor="start">196</text>
<line x1="1313" y1="488" x2="1366" y2="473" stroke="#111" stroke-width="1.1" stroke-linecap="butt"/>
<path d="M1276,444 L1277,428 Q1278,423 1283,427 L1311,457 Q1317,462 1325,457 L1340,448 Q1347,444 1346,450 L1338,461" stroke="#111" stroke-width="5.5" fill="none" stroke-linejoin="round" stroke-linecap="round" />
<path d="M1276,444 L1277,428 Q1278,423 1283,427 L1311,457 Q1317,462 1325,457 L1340,448 Q1347,444 1346,450 L1338,461" stroke="#fff" stroke-width="3.0" fill="none" stroke-linejoin="round" stroke-linecap="round" />
<line x1="1271" y1="410" x2="1341" y2="450" stroke="#222" stroke-width="1.0" stroke-dasharray="11 4" stroke-linecap="butt"/>
<g transform="translate(1350 459) rotate(26)"><path d="M0,0 L16,-2.5 L16,2.5 Z" fill="#fff" stroke="#111" stroke-width="1"/><line x1="3" y1="-2.6" x2="4.5" y2="2.6" stroke="#111" stroke-width="0.9"/><line x1="6" y1="-2.6" x2="7.5" y2="2.6" stroke="#111" stroke-width="0.9"/><line x1="9" y1="-2.6" x2="10.5" y2="2.6" stroke="#111" stroke-width="0.9"/><line x1="12" y1="-2.6" x2="13.5" y2="2.6" stroke="#111" stroke-width="0.9"/><line x1="15" y1="-2.6" x2="16.5" y2="2.6" stroke="#111" stroke-width="0.9"/><ellipse cx="17" cy="0" rx="1.8" ry="5.5" fill="#fff" stroke="#111" stroke-width="1.1"/><rect x="18" y="-4.5" width="6" height="9" rx="1.5" fill="#fff" stroke="#111" stroke-width="1.3"/></g>
<text x="900" y="710" font-size="20" font-weight="bold" fill="#111" text-anchor="start">116</text>
<line x1="896" y1="702" x2="860" y2="678" stroke="#111" stroke-width="1.1" stroke-linecap="butt"/>
<line x1="896" y1="704" x2="835" y2="691" stroke="#111" stroke-width="1.1" stroke-linecap="butt"/>
<ellipse cx="855" cy="677.5" rx="5.5" ry="4.125" stroke="#111" stroke-width="1.2" fill="#fff"/>
<path d="M850.325,675.5 L852.525,671.875 L857.475,671.875 L859.675,675.5 L857.475,679.3 L852.525,679.3 Z" stroke="#111" stroke-width="1.4" fill="#444" stroke-linejoin="round" stroke-linecap="round" />
<ellipse cx="855" cy="675.7" rx="1.9249999999999998" ry="1.54" stroke="#111" stroke-width="0.9" fill="#fff"/>
<ellipse cx="830" cy="690.5" rx="5.5" ry="4.125" stroke="#111" stroke-width="1.2" fill="#fff"/>
<path d="M825.325,688.5 L827.525,684.875 L832.475,684.875 L834.675,688.5 L832.475,692.3 L827.525,692.3 Z" stroke="#111" stroke-width="1.4" fill="#444" stroke-linejoin="round" stroke-linecap="round" />
<ellipse cx="830" cy="688.7" rx="1.9249999999999998" ry="1.54" stroke="#111" stroke-width="0.9" fill="#fff"/>
<text x="1008" y="632" font-size="20" font-weight="bold" fill="#111" text-anchor="start">195</text>
<line x1="1001" y1="627" x2="955" y2="641" stroke="#111" stroke-width="1.1" stroke-linecap="butt"/>
<path d="M933,645 L940,636 L952,632 L955,636 L958,671 L936,683 L933,682 Z" stroke="#111" stroke-width="1.3" fill="#fff" stroke-linejoin="round" stroke-linecap="round" />
<path d="M936,647 L936,683 M936,647 L955,637" stroke="#111" stroke-width="1.0" fill="none" stroke-linejoin="round" stroke-linecap="round" />
<ellipse cx="938" cy="648" rx="1.8" ry="2.2" stroke="#111" stroke-width="1.0" fill="none"/>
<ellipse cx="950" cy="640" rx="1.8" ry="2.2" stroke="#111" stroke-width="1.0" fill="none"/>
<path d="M956,646 L958,647 L958,653" stroke="#111" stroke-width="1.0" fill="none" stroke-linejoin="round" stroke-linecap="round" />
<line x1="940" y1="648" x2="977" y2="671" stroke="#222" stroke-width="1.0" stroke-dasharray="10 4" stroke-linecap="butt"/>
<line x1="955" y1="641" x2="990" y2="662" stroke="#222" stroke-width="1.0" stroke-dasharray="10 4" stroke-linecap="butt"/>
<g transform="translate(994 667) rotate(28)"><path d="M2.76,-2.53 L9.2,-2.07 Q11.5,0 9.2,2.07 L2.76,2.53 Z" fill="#fff" stroke="#111" stroke-width="1"/><ellipse cx="3.2199999999999998" cy="0" rx="2.3" ry="4.83" fill="#fff" stroke="#111" stroke-width="1.2"/><rect x="-4.14" y="-3.9099999999999997" width="6.8999999999999995" height="7.819999999999999" rx="1.2" fill="#333" stroke="#111" stroke-width="1.2"/><path d="M-2.3,-1.38 L1.38,-1.38 M-2.3,1.38 L1.38,1.38" stroke="#ddd" stroke-width="0.8"/></g>
<g transform="translate(982 675) rotate(28)"><path d="M2.76,-2.53 L9.2,-2.07 Q11.5,0 9.2,2.07 L2.76,2.53 Z" fill="#fff" stroke="#111" stroke-width="1"/><ellipse cx="3.2199999999999998" cy="0" rx="2.3" ry="4.83" fill="#fff" stroke="#111" stroke-width="1.2"/><rect x="-4.14" y="-3.9099999999999997" width="6.8999999999999995" height="7.819999999999999" rx="1.2" fill="#333" stroke="#111" stroke-width="1.2"/><path d="M-2.3,-1.38 L1.38,-1.38 M-2.3,1.38 L1.38,1.38" stroke="#ddd" stroke-width="0.8"/></g>
<text x="1000" y="713" font-size="20" font-weight="bold" fill="#111" text-anchor="start">143</text>
<line x1="1010" y1="692" x2="1000" y2="673" stroke="#111" stroke-width="1.1" stroke-linecap="butt"/>
<line x1="1010" y1="692" x2="987" y2="681" stroke="#111" stroke-width="1.1" stroke-linecap="butt"/>
<text x="1060" y="608" font-size="20" font-weight="bold" fill="#111" text-anchor="start">125</text>
<line x1="1083" y1="611" x2="1098" y2="653" stroke="#111" stroke-width="1.1" stroke-linecap="butt"/>
<g transform="translate(1099 658) rotate(28)"><path d="M2.52,-2.3100000000000005 L8.4,-1.8900000000000001 Q10.5,0 8.4,1.8900000000000001 L2.52,2.3100000000000005 Z" fill="#fff" stroke="#111" stroke-width="1"/><ellipse cx="2.94" cy="0" rx="2.1" ry="4.41" fill="#fff" stroke="#111" stroke-width="1.2"/><rect x="-3.7800000000000002" y="-3.57" width="6.300000000000001" height="7.14" rx="1.2" fill="#333" stroke="#111" stroke-width="1.2"/><path d="M-2.1,-1.26 L1.26,-1.26 M-2.1,1.26 L1.26,1.26" stroke="#ddd" stroke-width="0.8"/></g>
<line x1="1110" y1="665" x2="1173" y2="702" stroke="#222" stroke-width="1.0" stroke-dasharray="11 4" stroke-linecap="butt"/>
<path d="M1118,620 L1130,613 L1132,615 L1132,630 L1151,643 L1152,705 L1141,710 L1141,652 L1119,637 Z" stroke="#111" stroke-width="1.3" fill="#fff" stroke-linejoin="round" stroke-linecap="round" />
<path d="M1121,621 L1121,636 L1144,651 L1144,708 M1144,651 L1151,644" stroke="#111" stroke-width="1.0" fill="none" stroke-linejoin="round" stroke-linecap="round" />
<ellipse cx="1125" cy="624" rx="1.6" ry="2" stroke="#111" stroke-width="1.0" fill="none"/>
<ellipse cx="1147" cy="686" rx="1.6" ry="2" stroke="#111" stroke-width="1.0" fill="none"/>
<text x="1071" y="715" font-size="20" font-weight="bold" fill="#111" text-anchor="start">339</text>
<line x1="1105" y1="706" x2="1140" y2="699" stroke="#111" stroke-width="1.1" stroke-linecap="butt"/>
<text x="1195" y="667" font-size="20" font-weight="bold" fill="#111" text-anchor="start">355</text>
<line x1="1203" y1="673" x2="1197" y2="707" stroke="#111" stroke-width="1.1" stroke-linecap="butt"/>
<path d="M1175,696 L1185,689 L1187,692 L1187,702 L1266,748 L1278,743 L1280,777 L1268,782 L1176,728 Z" stroke="#111" stroke-width="1.3" fill="#fff" stroke-linejoin="round" stroke-linecap="round" />
<path d="M1176,698 L1266,750 L1268,782 M1177,697 L1187,691 M1266,750 L1278,745" stroke="#111" stroke-width="1.0" fill="none" stroke-linejoin="round" stroke-linecap="round" />
<ellipse cx="1206" cy="732" rx="1.5" ry="2" stroke="#111" stroke-width="1.2" fill="#333"/>
<ellipse cx="1216" cy="732" rx="1.5" ry="2" stroke="#111" stroke-width="1.2" fill="#333"/>
<ellipse cx="1233" cy="737" rx="1.8" ry="2.2" stroke="#111" stroke-width="1.2" fill="#333"/>
<ellipse cx="1274" cy="758" rx="2.2" ry="3.2" stroke="#111" stroke-width="1.2" fill="none"/>
<path d="M1248,672 L1255,663 L1271,662 L1278,675 L1286,682 L1301,683 L1311,687 L1310,692 L1298,698 L1296,725 L1290,728 L1250,705 Z" stroke="#111" stroke-width="1.3" fill="#fff" stroke-linejoin="round" stroke-linecap="round" />
<path d="M1250,673 L1290,696 L1290,728 M1290,696 L1298,692 L1309,688" stroke="#111" stroke-width="1.0" fill="none" stroke-linejoin="round" stroke-linecap="round" />
<ellipse cx="1271" cy="667" rx="2.5" ry="1.6" stroke="#111" stroke-width="1.0" fill="none"/>
<ellipse cx="1300" cy="684" rx="2.5" ry="1.6" stroke="#111" stroke-width="1.0" fill="none"/>
<rect x="1268" y="684" width="7" height="8" fill="#fff" stroke="#111" stroke-width="1.1" transform="skewY(25) translate(0 -593)"/>
<ellipse cx="1257" cy="702" rx="1.5" ry="1.8" stroke="#111" stroke-width="1.0" fill="none"/>
<ellipse cx="1268" cy="702" rx="1.8" ry="2.2" stroke="#111" stroke-width="1.0" fill="none"/>
<ellipse cx="1284" cy="707" rx="1.5" ry="1.8" stroke="#111" stroke-width="1.0" fill="none"/>
<text x="1351" y="683" font-size="20" font-weight="bold" fill="#111" text-anchor="start">226</text>
<line x1="1348" y1="680" x2="1311" y2="687" stroke="#111" stroke-width="1.1" stroke-linecap="butt"/>
<text x="1335" y="612" font-size="20" font-weight="bold" fill="#111" text-anchor="start">227</text>
<line x1="1331" y1="609" x2="1277" y2="612" stroke="#111" stroke-width="1.1" stroke-linecap="butt"/>
<line x1="1331" y1="610" x2="1306" y2="628" stroke="#111" stroke-width="1.1" stroke-linecap="butt"/>
<rect x="1266.5" y="608" width="9" height="6" rx="1.5" fill="#fff" stroke="#111" stroke-width="1.4"/>
<ellipse cx="1271" cy="614.5" rx="5.5" ry="1.8" stroke="#111" stroke-width="1.2" fill="#fff"/>
<rect x="1268.7" y="616" width="4.6" height="17" fill="#bbb" stroke="#111" stroke-width="1.1"/>
<line x1="1268.7" y1="619" x2="1273.3" y2="619" stroke="#111" stroke-width="0.8" stroke-linecap="butt"/>
<line x1="1268.7" y1="621.4" x2="1273.3" y2="621.4" stroke="#111" stroke-width="0.8" stroke-linecap="butt"/>
<line x1="1268.7" y1="623.8" x2="1273.3" y2="623.8" stroke="#111" stroke-width="0.8" stroke-linecap="butt"/>
<line x1="1268.7" y1="626.1999999999999" x2="1273.3" y2="626.1999999999999" stroke="#111" stroke-width="0.8" stroke-linecap="butt"/>
<line x1="1268.7" y1="628.5999999999999" x2="1273.3" y2="628.5999999999999" stroke="#111" stroke-width="0.8" stroke-linecap="butt"/>
<line x1="1268.7" y1="630.9999999999999" x2="1273.3" y2="630.9999999999999" stroke="#111" stroke-width="0.8" stroke-linecap="butt"/>
<rect x="1296.5" y="626" width="9" height="6" rx="1.5" fill="#fff" stroke="#111" stroke-width="1.4"/>
<ellipse cx="1301" cy="632.5" rx="5.5" ry="1.8" stroke="#111" stroke-width="1.2" fill="#fff"/>
<rect x="1298.7" y="634" width="4.6" height="16" fill="#bbb" stroke="#111" stroke-width="1.1"/>
<line x1="1298.7" y1="637" x2="1303.3" y2="637" stroke="#111" stroke-width="0.8" stroke-linecap="butt"/>
<line x1="1298.7" y1="639.4" x2="1303.3" y2="639.4" stroke="#111" stroke-width="0.8" stroke-linecap="butt"/>
<line x1="1298.7" y1="641.8" x2="1303.3" y2="641.8" stroke="#111" stroke-width="0.8" stroke-linecap="butt"/>
<line x1="1298.7" y1="644.1999999999999" x2="1303.3" y2="644.1999999999999" stroke="#111" stroke-width="0.8" stroke-linecap="butt"/>
<line x1="1298.7" y1="646.5999999999999" x2="1303.3" y2="646.5999999999999" stroke="#111" stroke-width="0.8" stroke-linecap="butt"/>
<line x1="1298.7" y1="648.9999999999999" x2="1303.3" y2="648.9999999999999" stroke="#111" stroke-width="0.8" stroke-linecap="butt"/>
<line x1="1271" y1="635" x2="1271" y2="664" stroke="#222" stroke-width="1.0" stroke-dasharray="10 4" stroke-linecap="butt"/>
<line x1="1301" y1="652" x2="1301" y2="681" stroke="#222" stroke-width="1.0" stroke-dasharray="10 4" stroke-linecap="butt"/>
<line x1="1257" y1="702" x2="1173" y2="753" stroke="#222" stroke-width="1.0" stroke-dasharray="11 4" stroke-linecap="butt"/>
<line x1="1284" y1="707" x2="1175" y2="772" stroke="#222" stroke-width="1.0" stroke-dasharray="11 4" stroke-linecap="butt"/>
<g transform="translate(1167 754) rotate(-30)"><path d="M2.52,-2.3100000000000005 L8.4,-1.8900000000000001 Q10.5,0 8.4,1.8900000000000001 L2.52,2.3100000000000005 Z" fill="#fff" stroke="#111" stroke-width="1"/><ellipse cx="2.94" cy="0" rx="2.1" ry="4.41" fill="#fff" stroke="#111" stroke-width="1.2"/><rect x="-3.7800000000000002" y="-3.57" width="6.300000000000001" height="7.14" rx="1.2" fill="#333" stroke="#111" stroke-width="1.2"/><path d="M-2.1,-1.26 L1.26,-1.26 M-2.1,1.26 L1.26,1.26" stroke="#ddd" stroke-width="0.8"/></g>
<g transform="translate(1164 776) rotate(-30)"><path d="M2.52,-2.3100000000000005 L8.4,-1.8900000000000001 Q10.5,0 8.4,1.8900000000000001 L2.52,2.3100000000000005 Z" fill="#fff" stroke="#111" stroke-width="1"/><ellipse cx="2.94" cy="0" rx="2.1" ry="4.41" fill="#fff" stroke="#111" stroke-width="1.2"/><rect x="-3.7800000000000002" y="-3.57" width="6.300000000000001" height="7.14" rx="1.2" fill="#333" stroke="#111" stroke-width="1.2"/><path d="M-2.1,-1.26 L1.26,-1.26 M-2.1,1.26 L1.26,1.26" stroke="#ddd" stroke-width="0.8"/></g>
<text x="1093" y="775" font-size="20" font-weight="bold" fill="#111" text-anchor="start">125</text>
<line x1="1125" y1="767" x2="1161" y2="759" stroke="#111" stroke-width="1.1" stroke-linecap="butt"/>
<line x1="1125" y1="770" x2="1158" y2="777" stroke="#111" stroke-width="1.1" stroke-linecap="butt"/>
<path d="M1300,742 L1316,735 L1321,737 L1322,734 L1331,730 L1335,732 L1335,747 L1323,752 L1313,748 L1312,797 L1301,802 Z" stroke="#111" stroke-width="1.3" fill="#fff" stroke-linejoin="round" stroke-linecap="round" />
<path d="M1303,744 L1303,800 M1303,744 L1318,738 M1322,737 L1323,752" stroke="#111" stroke-width="1.0" fill="none" stroke-linejoin="round" stroke-linecap="round" />
<ellipse cx="1329" cy="742" rx="1.8" ry="2.2" stroke="#111" stroke-width="1.0" fill="none"/>
<ellipse cx="1307" cy="778" rx="1.5" ry="2" stroke="#111" stroke-width="1.0" fill="none"/>
<text x="1375" y="735" font-size="20" font-weight="bold" fill="#111" text-anchor="start">339</text>
<line x1="1371" y1="732" x2="1335" y2="738" stroke="#111" stroke-width="1.1" stroke-linecap="butt"/>
<line x1="1278" y1="760" x2="1298" y2="771" stroke="#222" stroke-width="1.0" stroke-dasharray="9 4" stroke-linecap="butt"/>
<line x1="1309" y1="779" x2="1338" y2="795" stroke="#222" stroke-width="1.0" stroke-dasharray="10 4" stroke-linecap="butt"/>
<g transform="translate(1346 799) rotate(208)"><path d="M2.52,-2.3100000000000005 L8.4,-1.8900000000000001 Q10.5,0 8.4,1.8900000000000001 L2.52,2.3100000000000005 Z" fill="#fff" stroke="#111" stroke-width="1"/><ellipse cx="2.94" cy="0" rx="2.1" ry="4.41" fill="#fff" stroke="#111" stroke-width="1.2"/><rect x="-3.7800000000000002" y="-3.57" width="6.300000000000001" height="7.14" rx="1.2" fill="#333" stroke="#111" stroke-width="1.2"/><path d="M-2.1,-1.26 L1.26,-1.26 M-2.1,1.26 L1.26,1.26" stroke="#ddd" stroke-width="0.8"/></g>
<text x="1391" y="800" font-size="20" font-weight="bold" fill="#111" text-anchor="start">125</text>
<line x1="1388" y1="793" x2="1351" y2="799" stroke="#111" stroke-width="1.1" stroke-linecap="butt"/>
<text x="1130" y="938" font-size="20" font-weight="bold" fill="#111" text-anchor="start">285</text>
<line x1="1163" y1="938" x2="1195" y2="961" stroke="#111" stroke-width="1.1" stroke-linecap="butt"/>
<line x1="1161" y1="942" x2="1184" y2="977" stroke="#111" stroke-width="1.1" stroke-linecap="butt"/>
<g transform="translate(1199 966) rotate(15)"><rect x="3" y="-2.5" width="12" height="5" rx="2" fill="#fff" stroke="#111" stroke-width="1"/><ellipse cx="0" cy="0" rx="4" ry="7" fill="#fff" stroke="#111" stroke-width="2.2"/><ellipse cx="1" cy="0" rx="1.8" ry="3.2" fill="#555" stroke="#111" stroke-width="1"/></g>
<g transform="translate(1185 982) rotate(15)"><rect x="3" y="-2.5" width="12" height="5" rx="2" fill="#fff" stroke="#111" stroke-width="1"/><ellipse cx="0" cy="0" rx="4" ry="7" fill="#fff" stroke="#111" stroke-width="2.2"/><ellipse cx="1" cy="0" rx="1.8" ry="3.2" fill="#555" stroke="#111" stroke-width="1"/></g>
<path d="M1215,972 Q1230,976 1242,986" stroke="#111" stroke-width="1.2" fill="none" stroke-linejoin="round" stroke-linecap="round" stroke-dasharray="9 4"/>
<path d="M1201,990 Q1218,997 1232,997" stroke="#111" stroke-width="1.2" fill="none" stroke-linejoin="round" stroke-linecap="round" stroke-dasharray="9 4"/>
<path d="M1255,966 Q1258,962 1264,964 L1278,969 Q1284,972 1282,978 Q1268,996 1259,1022 Q1257,1026 1252,1024 L1230,1017 Q1225,1014 1226,1010 Q1236,986 1255,966 Z" stroke="#111" stroke-width="1.5" fill="#fff" stroke-linejoin="round" stroke-linecap="round" />
<path d="M1239,984 L1271,995" stroke="#111" stroke-width="1.2" fill="none" stroke-linejoin="round" stroke-linecap="round" />
<ellipse cx="1262" cy="969" rx="2.6" ry="3.4" stroke="#111" stroke-width="1.0" fill="none" transform="rotate(25 1262 969)"/>
<ellipse cx="1275" cy="974" rx="2.6" ry="3.4" stroke="#111" stroke-width="1.0" fill="none" transform="rotate(25 1275 974)"/>
<ellipse cx="1253" cy="979" rx="2.6" ry="3.4" stroke="#111" stroke-width="1.0" fill="none" transform="rotate(25 1253 979)"/>
<ellipse cx="1267" cy="985" rx="2.6" ry="3.4" stroke="#111" stroke-width="1.0" fill="none" transform="rotate(25 1267 985)"/>
<ellipse cx="1238" cy="1000" rx="2.6" ry="3.4" stroke="#111" stroke-width="1.0" fill="none" transform="rotate(25 1238 1000)"/>
<ellipse cx="1252" cy="1005" rx="2.6" ry="3.4" stroke="#111" stroke-width="1.0" fill="none" transform="rotate(25 1252 1005)"/>
<ellipse cx="1234" cy="1012" rx="2.6" ry="3.4" stroke="#111" stroke-width="1.0" fill="none" transform="rotate(25 1234 1012)"/>
<ellipse cx="1247" cy="1018" rx="2.6" ry="3.4" stroke="#111" stroke-width="1.0" fill="none" transform="rotate(25 1247 1018)"/>
<ellipse cx="1246" cy="988" rx="1.6" ry="1.6" stroke="#111" stroke-width="1" fill="#111"/>
<ellipse cx="1260" cy="993" rx="1.6" ry="1.6" stroke="#111" stroke-width="1" fill="#111"/>
<path d="M1246,988 L1250,990 M1256,992 L1260,993" stroke="#111" stroke-width="1.0" fill="none" stroke-linejoin="round" stroke-linecap="round" />
<text x="1345" y="958" font-size="20" font-weight="bold" fill="#111" text-anchor="start">214</text>
<line x1="1340" y1="954" x2="1281" y2="970" stroke="#111" stroke-width="1.1" stroke-linecap="butt"/>
<text x="1391" y="1008" font-size="20" font-weight="bold" fill="#111" text-anchor="start">284</text>
<line x1="1386" y1="1002" x2="1298" y2="1008" stroke="#111" stroke-width="1.1" stroke-linecap="butt"/>
<line x1="1386" y1="1006" x2="1316" y2="1018" stroke="#111" stroke-width="1.1" stroke-linecap="butt"/>
<g transform="translate(1291 1010) rotate(20)"><path d="M-5,-5 L5,-5 L5,5 L-2,5 L-6,2 Z" fill="#fff" stroke="#111" stroke-width="1.3"/><rect x="-1.5" y="-2" width="3" height="3" fill="#fff" stroke="#111" stroke-width="0.9"/><path d="M-6,2 L-6,6 L-2,8" fill="none" stroke="#111" stroke-width="1"/></g>
<g transform="translate(1308 1022) rotate(20)"><path d="M-5,-5 L5,-5 L5,5 L-2,5 L-6,2 Z" fill="#fff" stroke="#111" stroke-width="1.3"/><rect x="-1.5" y="-2" width="3" height="3" fill="#fff" stroke="#111" stroke-width="0.9"/><path d="M-6,2 L-6,6 L-2,8" fill="none" stroke="#111" stroke-width="1"/></g>
<text x="1116" y="992" font-size="20" font-weight="bold" fill="#111" text-anchor="start">208</text>
<line x1="1150" y1="992" x2="1191" y2="1034" stroke="#111" stroke-width="1.1" stroke-linecap="butt"/>
<g transform="translate(1197 1040) rotate(-38)"><rect x="-11" y="-4.5" width="22" height="9" rx="2" fill="#444" stroke="#111" stroke-width="1.2"/><line x1="-8" y1="-4.5" x2="-8" y2="4.5" stroke="#ccc" stroke-width="0.8"/><line x1="-5" y1="-4.5" x2="-5" y2="4.5" stroke="#ccc" stroke-width="0.8"/><line x1="-2" y1="-4.5" x2="-2" y2="4.5" stroke="#ccc" stroke-width="0.8"/><line x1="1" y1="-4.5" x2="1" y2="4.5" stroke="#ccc" stroke-width="0.8"/><line x1="4" y1="-4.5" x2="4" y2="4.5" stroke="#ccc" stroke-width="0.8"/><line x1="7" y1="-4.5" x2="7" y2="4.5" stroke="#ccc" stroke-width="0.8"/></g>
<text x="1068" y="1013" font-size="20" font-weight="bold" fill="#555" text-anchor="start">160</text>
<line x1="1100" y1="1010" x2="1128" y2="1013" stroke="#555" stroke-width="1.1" stroke-linecap="butt"/>
<path d="M1131,1030 Q1126,1014 1130,1010 Q1134,1009 1134,1018 Q1137,1008 1140,1011 Q1141,1016 1133,1030 Z" stroke="#333" stroke-width="1.6" fill="none" stroke-linejoin="round" stroke-linecap="round" />
<line x1="1141" y1="1027" x2="1151" y2="1032" stroke="#222" stroke-width="1.0" stroke-dasharray="9 4" stroke-linecap="butt"/>
<line x1="1164" y1="1039" x2="1208" y2="1062" stroke="#222" stroke-width="1.0" stroke-dasharray="10 4" stroke-linecap="butt"/>
<line x1="1222" y1="1058" x2="1241" y2="1068" stroke="#222" stroke-width="1.0" stroke-dasharray="9 4" stroke-linecap="butt"/>
<path d="M1160,1036 L1137,1049 Q1133,1052 1137,1055 L1147,1061 Q1150,1064 1146,1068 L960,1213" stroke="#111" stroke-width="5.6" fill="none" stroke-linejoin="round" stroke-linecap="round" />
<path d="M1160,1036 L1137,1049 Q1133,1052 1137,1055 L1147,1061 Q1150,1064 1146,1068 L960,1213" stroke="#fff" stroke-width="3.2" fill="none" stroke-linejoin="round" stroke-linecap="round" />
<ellipse cx="1159" cy="1036" rx="3.5" ry="5.5" stroke="#111" stroke-width="1.3" fill="#fff" transform="rotate(30 1159 1036)"/>
<ellipse cx="1159" cy="1036" rx="1.5" ry="2.5" stroke="#111" stroke-width="1.0" fill="none" transform="rotate(30 1159 1036)"/>
<text x="1023" y="1082" font-size="20" font-weight="bold" fill="#444" text-anchor="start">163</text>
<line x1="1051" y1="1086" x2="1076" y2="1115" stroke="#111" stroke-width="1.1" stroke-linecap="butt"/>
<g transform="translate(1185 1071)"><ellipse cx="-3" cy="0" rx="5.5" ry="8" fill="#fff" stroke="#111" stroke-width="1.2"/><path d="M-1,-6.5 L9,-4.5 L9,5 L-1,7" fill="#fff" stroke="#111" stroke-width="1.2"/><ellipse cx="9" cy="0.2" rx="2.5" ry="4.8" fill="#fff" stroke="#111" stroke-width="1.1"/></g>
<text x="1152" y="1127" font-size="20" font-weight="bold" fill="#333" text-anchor="start">211</text>
<line x1="1175" y1="1110" x2="1183" y2="1078" stroke="#111" stroke-width="1.1" stroke-linecap="butt"/>
<path d="M1212,1084 L1297,1140" stroke="#111" stroke-width="11" fill="none" stroke-linejoin="round" stroke-linecap="round" />
<path d="M1212,1084 L1297,1140" stroke="#fff" stroke-width="8.6" fill="none" stroke-linejoin="round" stroke-linecap="round" />
<path d="M1210,1051 L1219,1045 L1224,1048 L1224,1093 L1215,1098 L1210,1094 Z" stroke="#111" stroke-width="1.3" fill="#fff" stroke-linejoin="round" stroke-linecap="round" />
<path d="M1213,1053 L1213,1096 M1213,1053 L1222,1047" stroke="#111" stroke-width="1.0" fill="none" stroke-linejoin="round" stroke-linecap="round" />
<ellipse cx="1217" cy="1060" rx="1.8" ry="2.4" stroke="#111" stroke-width="1.0" fill="none"/>
<ellipse cx="1218" cy="1073" rx="3" ry="4" stroke="#111" stroke-width="1.2" fill="none"/>
<path d="M1200,1075 L1210,1078 M1200,1083 L1210,1087 M1200,1075 L1200,1083" stroke="#111" stroke-width="1.0" fill="none" stroke-linejoin="round" stroke-linecap="round" />
<g transform="translate(1243 1073) rotate(27)"><rect x="0" y="-2.6" width="16" height="5.2" fill="#fff" stroke="#111" stroke-width="1.1"/><ellipse cx="17" cy="0" rx="2.8" ry="4.2" fill="#fff" stroke="#111" stroke-width="1.2"/></g>
<text x="1277" y="1113" font-size="20" font-weight="bold" fill="#111" text-anchor="start">125</text>
<line x1="1276" y1="1105" x2="1260" y2="1086" stroke="#111" stroke-width="1.1" stroke-linecap="butt"/>
<path d="M1273,1036 L1278,1034 L1308,1046 L1318,1050 L1340,1076 L1340,1094 L1330,1114 L1304,1140 L1297,1134 L1322,1108 L1329,1094 L1329,1082 L1310,1062 L1303,1061 L1296,1060 L1293,1056 L1290,1058 L1287,1054 L1284,1056 L1281,1052 L1278,1054 L1275,1050 L1272,1046 Z" stroke="#111" stroke-width="1.3" fill="#fff" stroke-linejoin="round" stroke-linecap="round" />
<path d="M1308,1046 L1303,1061 M1318,1052 L1310,1062 M1340,1078 L1329,1084 M1330,1092 L1316,1116 L1300,1130" stroke="#111" stroke-width="1.0" fill="none" stroke-linejoin="round" stroke-linecap="round" />
<ellipse cx="1281" cy="1041" rx="1.6" ry="2" stroke="#111" stroke-width="1.0" fill="none"/>
<ellipse cx="1291" cy="1047" rx="1.6" ry="2" stroke="#111" stroke-width="1.0" fill="none"/>
<ellipse cx="1301" cy="1141" rx="5.5" ry="7" stroke="#111" stroke-width="2.0" fill="#fff" transform="rotate(20 1301 1141)"/>
<ellipse cx="1301" cy="1141" rx="2.8" ry="4" stroke="#111" stroke-width="1.1" fill="none" transform="rotate(20 1301 1141)"/>
<text x="1394" y="1088" font-size="20" font-weight="bold" fill="#111" text-anchor="start">210</text>
<line x1="1390" y1="1087" x2="1341" y2="1092" stroke="#111" stroke-width="1.1" stroke-linecap="butt"/>
<text x="1359" y="1119" font-size="20" font-weight="bold" fill="#111" text-anchor="start">222</text>
<line x1="1361" y1="1128" x2="1346" y2="1158" stroke="#111" stroke-width="1.1" stroke-linecap="butt"/>
<text x="270" y="615" font-size="20" font-weight="bold" fill="#333" text-anchor="start">352</text>
<line x1="273" y1="597" x2="260" y2="530" stroke="#111" stroke-width="1.1" stroke-linecap="butt"/>
<line x1="305" y1="608" x2="377" y2="598" stroke="#111" stroke-width="1.1" stroke-linecap="butt"/>
<path d="M365,587 L373,582 L388,589 L395,585 L397,573 L401,571 L405,574 L408,590 L392,601 L365,590 Z" stroke="#111" stroke-width="1.3" fill="#fff" stroke-linejoin="round" stroke-linecap="round" />
<path d="M395,585 L395,598 M388,589 L388,596" stroke="#111" stroke-width="1.0" fill="none" stroke-linejoin="round" stroke-linecap="round" />
<ellipse cx="375" cy="587" rx="4" ry="2.3" stroke="#111" stroke-width="1.0" fill="none"/>
<ellipse cx="375" cy="587" rx="2" ry="1.2" stroke="#111" stroke-width="0.8" fill="none"/>
<ellipse cx="401" cy="580" rx="1.5" ry="1.8" stroke="#111" stroke-width="1.0" fill="none"/>
<line x1="409" y1="588" x2="425" y2="598" stroke="#222" stroke-width="1.0" stroke-dasharray="8 4" stroke-linecap="butt"/>
<g transform="translate(434 602) rotate(208)"><path d="M2.52,-2.3100000000000005 L8.4,-1.8900000000000001 Q10.5,0 8.4,1.8900000000000001 L2.52,2.3100000000000005 Z" fill="#fff" stroke="#111" stroke-width="1"/><ellipse cx="2.94" cy="0" rx="2.1" ry="4.41" fill="#fff" stroke="#111" stroke-width="1.2"/><rect x="-3.7800000000000002" y="-3.57" width="6.300000000000001" height="7.14" rx="1.2" fill="#333" stroke="#111" stroke-width="1.2"/><path d="M-2.1,-1.26 L1.26,-1.26 M-2.1,1.26 L1.26,1.26" stroke="#ddd" stroke-width="0.8"/></g>
<text x="203" y="635" font-size="20" font-weight="bold" fill="#333" text-anchor="start">221</text>
<line x1="227" y1="642" x2="238" y2="678" stroke="#111" stroke-width="1.1" stroke-linecap="butt"/>
<path d="M267,704 L244,686 Q236,680 233,685 Q232,691 240,692 L258,694 L264,700" stroke="#222" stroke-width="1.2" fill="none" stroke-linejoin="round" stroke-linecap="round" />
<path d="M265,707 L240,689" stroke="#222" stroke-width="0.9" fill="none" stroke-linejoin="round" stroke-linecap="round" />
<ellipse cx="239" cy="687" rx="4" ry="3" stroke="#111" stroke-width="1.0" fill="none"/>
<text x="102" y="648" font-size="20" font-weight="bold" fill="#111" text-anchor="start">184</text>
<line x1="128" y1="655" x2="136" y2="687" stroke="#111" stroke-width="1.1" stroke-linecap="butt"/>
<path d="M152,672 L162,665 L170,670 L175,690 L165,698 L158,694 Z" stroke="#111" stroke-width="1.3" fill="#fff" stroke-linejoin="round" stroke-linecap="round" />
<path d="M158,694 L152,672 M165,698 L160,676 L152,672 M160,676 L170,670" stroke="#111" stroke-width="1.0" fill="none" stroke-linejoin="round" stroke-linecap="round" />
<path d="M156,690 L150,694 M162,700 L158,704" stroke="#111" stroke-width="1.1" fill="none" stroke-linejoin="round" stroke-linecap="round" />
<path d="M143,688 Q126,692 125,708 Q130,722 150,724 L164,722 Q158,700 143,688 Z" stroke="#111" stroke-width="1.4" fill="#fff" stroke-linejoin="round" stroke-linecap="round" />
<path d="M126,712 Q140,720 164,719 L167,724 L164,726" stroke="#111" stroke-width="1.8" fill="none" stroke-linejoin="round" stroke-linecap="round" />
<text x="400" y="723" font-size="20" font-weight="bold" fill="#111" text-anchor="start">125</text>
<line x1="424" y1="707" x2="432" y2="672" stroke="#111" stroke-width="1.1" stroke-linecap="butt"/>
<g transform="translate(434 666)"><path d="M2,-3 L10,4 L2,5 Z" fill="#fff" stroke="#111" stroke-width="1"/><ellipse cx="0" cy="0" rx="4.5" ry="4.5" fill="#fff" stroke="#111" stroke-width="1.6"/><path d="M-3,-2 L3,-2 M-3,2 L3,2 M0,-4 L0,4" stroke="#111" stroke-width="1"/></g>
<path d="M199,703 L216,693 Q219,692 221,697 L232,728 Q234,733 240,736 L360,797 Q364,800 367,804 L399,843 Q402,847 406,849 L416,853" stroke="#111" stroke-width="5.4" fill="none" stroke-linejoin="round" stroke-linecap="round" />
<path d="M199,703 L216,693 Q219,692 221,697 L232,728 Q234,733 240,736 L360,797 Q364,800 367,804 L399,843 Q402,847 406,849 L416,853" stroke="#fff" stroke-width="3.0000000000000004" fill="none" stroke-linejoin="round" stroke-linecap="round" />
<ellipse cx="199" cy="703" rx="1.8" ry="3" stroke="#111" stroke-width="1.0" fill="#fff" transform="rotate(-30 199 703)"/>
<ellipse cx="409" cy="850" rx="2.6" ry="4" stroke="#111" stroke-width="2.0" fill="#fff" transform="rotate(-25 409 850)"/>
<ellipse cx="418" cy="854" rx="1.6" ry="3" stroke="#111" stroke-width="1.0" fill="#fff" transform="rotate(-25 418 854)"/>
<ellipse cx="228" cy="715" rx="1.2" ry="1.2" stroke="#111" stroke-width="0.9" fill="none"/>
<text x="305" y="825" font-size="20" font-weight="bold" fill="#111" text-anchor="start">35</text>
<line x1="328" y1="817" x2="362" y2="808" stroke="#111" stroke-width="1.1" stroke-linecap="butt"/>
<g transform="translate(133 816) rotate(24.5)"><path d="M0,-14.5 L82,-14.5 Q89,0 82,14.5 L0,14.5 Q-6,0 0,-14.5 Z" fill="#fff" stroke="#111" stroke-width="1.6"/><line x1="-1" y1="-11.5" x2="80" y2="-11.5" stroke="#111" stroke-width="1.3"/><line x1="-2" y1="-8.5" x2="80" y2="-8.5" stroke="#111" stroke-width="1.5"/><line x1="-3" y1="-5.5" x2="80" y2="-5.5" stroke="#111" stroke-width="1.5"/><line x1="-3" y1="-2.5" x2="80" y2="-2.5" stroke="#111" stroke-width="1.6"/><line x1="-3" y1="0.5" x2="80" y2="0.5" stroke="#111" stroke-width="1.7"/><line x1="-3" y1="3.5" x2="80" y2="3.5" stroke="#111" stroke-width="1.9"/><line x1="-2" y1="6.3" x2="80" y2="6.3" stroke="#111" stroke-width="2.2"/><line x1="-2" y1="9" x2="80" y2="9" stroke="#111" stroke-width="2.4"/><line x1="-1" y1="11.6" x2="80" y2="11.6" stroke="#111" stroke-width="2.4"/><path d="M0,13 L80,13" stroke="#111" stroke-width="2.2" stroke-dasharray="1.4 1.2"/><ellipse cx="82" cy="0" rx="7" ry="14.5" fill="#fff" stroke="#111" stroke-width="1.8"/><ellipse cx="82" cy="0" rx="4.6" ry="10.5" fill="none" stroke="#111" stroke-width="1.3"/><ellipse cx="83" cy="-4" rx="1.8" ry="3" fill="#fff" stroke="#111" stroke-width="1.1"/><ellipse cx="83" cy="5" rx="1.8" ry="3" fill="#fff" stroke="#111" stroke-width="1.1"/><ellipse cx="80.5" cy="0.5" rx="1.6" ry="2.6" fill="#fff" stroke="#111" stroke-width="1.1"/></g>
<text x="172" y="937" font-size="20" font-weight="bold" fill="#111" text-anchor="start">42</text>
<line x1="182" y1="915" x2="167" y2="849" stroke="#111" stroke-width="1.1" stroke-linecap="butt"/>
<path d="M221,859 L283,887 Q296,893 306,900 L346,923 Q356,929 355,940 Q354,949 346,957 L316,985 Q308,993 318,999 L360,1022" stroke="#111" stroke-width="12.5" fill="none" stroke-linejoin="round" stroke-linecap="round" />
<path d="M221,859 L283,887 Q296,893 306,900 L346,923 Q356,929 355,940 Q354,949 346,957 L316,985 Q308,993 318,999 L360,1022" stroke="#fff" stroke-width="10.2" fill="none" stroke-linejoin="round" stroke-linecap="round" />
<ellipse cx="220" cy="858.5" rx="2.5" ry="5.6" stroke="#111" stroke-width="1.1" fill="#fff" transform="rotate(-24 220 858.5)"/>
<path d="M281,880 L285,893 M300,888 L296,902 M352,930 L343,936 M348,950 L337,953 M344,959 L335,951 M313,983 L321,990 M309,993 L318,1001 M312,1002 L317,993" stroke="#111" stroke-width="1.0" fill="none" stroke-linejoin="round" stroke-linecap="round" />
<text x="274" y="942" font-size="20" font-weight="bold" fill="#111" text-anchor="start">64</text>
<line x1="300" y1="938" x2="337" y2="953" stroke="#111" stroke-width="1.1" stroke-linecap="butt"/>
<path d="M362,1027 L398,1046" stroke="#111" stroke-width="9.5" fill="none" stroke-linejoin="round" stroke-linecap="round" />
<path d="M362,1027 L398,1046" stroke="#fff" stroke-width="7.3" fill="none" stroke-linejoin="round" stroke-linecap="round" />
<path d="M402,1050 L530,1123" stroke="#111" stroke-width="9.5" fill="none" stroke-linejoin="round" stroke-linecap="round" />
<path d="M402,1050 L530,1123" stroke="#fff" stroke-width="7.3" fill="none" stroke-linejoin="round" stroke-linecap="round" />
<ellipse cx="530" cy="1123" rx="2.6" ry="4.6" stroke="#111" stroke-width="1.2" fill="#fff" transform="rotate(-28 530 1123)"/>
<ellipse cx="362" cy="1026" rx="6.5" ry="10" stroke="#111" stroke-width="1.5" fill="#fff" transform="rotate(-25 362 1026)"/>
<ellipse cx="365" cy="1027" rx="3.8" ry="7" stroke="#111" stroke-width="1.1" fill="#fff" transform="rotate(-25 365 1027)"/>
<path d="M387,1030 L393,1024 L400,1027 L405,1036 L407,1046 L399,1059 L385,1066 L383,1073 L362,1083 L356,1078 L370,1059 L385,1052 L394,1040 Z" stroke="#111" stroke-width="1.3" fill="#fff" stroke-linejoin="round" stroke-linecap="round" />
<path d="M372,1061 L360,1077" stroke="#111" stroke-width="1.0" fill="none" stroke-linejoin="round" stroke-linecap="round" />
<ellipse cx="394" cy="1031" rx="2.4" ry="2.8" stroke="#111" stroke-width="1.0" fill="none"/>
<path d="M430,1060 L441,1042 L465,1056 L454,1073 Z" stroke="#111" stroke-width="1.3" fill="#fff" stroke-linejoin="round" stroke-linecap="round" />
<path d="M441,1074 L448,1079 L465,1097 L477,1081 L461,1062 L454,1073 Z" stroke="#111" stroke-width="1.2" fill="#fff" stroke-linejoin="round" stroke-linecap="round" />
<path d="M432,1061 L443,1044 M456,1074 L466,1058" stroke="#111" stroke-width="1.0" fill="none" stroke-linejoin="round" stroke-linecap="round" />
<ellipse cx="431" cy="1062" rx="2" ry="2.4" stroke="#111" stroke-width="1.5" fill="#444"/>
<path d="M408,1042 L428,1031 L429,1026 L434,1023 L437,1026 L436,1040 L430,1044 L427,1041 L412,1049 Z" stroke="#111" stroke-width="1.3" fill="#fff" stroke-linejoin="round" stroke-linecap="round" />
<ellipse cx="414" cy="1044" rx="2.8" ry="3.2" stroke="#111" stroke-width="1.6" fill="#fff"/>
<ellipse cx="432" cy="1027" rx="1.8" ry="2.2" stroke="#111" stroke-width="1.0" fill="none"/>
<ellipse cx="432" cy="1040" rx="1.8" ry="2.2" stroke="#111" stroke-width="1.0" fill="none"/>
<text x="489" y="989" font-size="20" font-weight="bold" fill="#111" text-anchor="start">167</text>
<line x1="486" y1="988" x2="437" y2="1024" stroke="#111" stroke-width="1.1" stroke-linecap="butt"/>
<text x="511" y="1045" font-size="20" font-weight="bold" fill="#111" text-anchor="start">159</text>
<line x1="508" y1="1039" x2="459" y2="1028" stroke="#111" stroke-width="1.1" stroke-linecap="butt"/>
<path d="M458,1024 L455,1041" stroke="#111" stroke-width="2.2" fill="none" stroke-linejoin="round" stroke-linecap="round" />
<ellipse cx="458" cy="1024" rx="1.6" ry="1.6" stroke="#111" stroke-width="1.2" fill="#fff"/>
<text x="520" y="1073" font-size="20" font-weight="bold" fill="#111" text-anchor="start">30</text>
<line x1="517" y1="1067" x2="503" y2="1068" stroke="#111" stroke-width="1.1" stroke-linecap="butt"/>
<ellipse cx="497" cy="1070" rx="3.5" ry="5.2" stroke="#111" stroke-width="1.3" fill="#fff" transform="rotate(35 497 1070)"/>
<ellipse cx="497" cy="1070" rx="1.5" ry="2.4" stroke="#111" stroke-width="1.0" fill="none" transform="rotate(35 497 1070)"/>
<text x="435" y="966" font-size="20" font-weight="bold" fill="#111" text-anchor="start">203</text>
<line x1="437" y1="970" x2="420" y2="1014" stroke="#111" stroke-width="1.1" stroke-linecap="butt"/>
<ellipse cx="417.5" cy="1020" rx="3.6" ry="5.4" stroke="#111" stroke-width="1.8" fill="#fff" transform="rotate(30 417.5 1020)"/>
<ellipse cx="417.5" cy="1020" rx="1.4" ry="2.2" stroke="#111" stroke-width="1.0" fill="none" transform="rotate(30 417.5 1020)"/>
<text x="377" y="957" font-size="20" font-weight="bold" fill="#111" text-anchor="start">160</text>
<line x1="403" y1="943" x2="421" y2="908" stroke="#111" stroke-width="1.1" stroke-linecap="butt"/>
<line x1="403" y1="961" x2="407" y2="997" stroke="#111" stroke-width="1.1" stroke-linecap="butt"/>
<g transform="translate(425 901) scale(0.95)"><path d="M-1,11 Q-7,-3 -3,-8 Q1,-10 1,-1 Q3,-10 7,-8 Q8,-3 0,11 Z M-1,-2 L0,8 M2,-3 L1,7" fill="none" stroke="#111" stroke-width="2.0" stroke-linejoin="round"/></g>
<g transform="translate(404 1005) scale(0.95)"><path d="M-1,11 Q-7,-3 -3,-8 Q1,-10 1,-1 Q3,-10 7,-8 Q8,-3 0,11 Z M-1,-2 L0,8 M2,-3 L1,7" fill="none" stroke="#111" stroke-width="2.0" stroke-linejoin="round"/></g>
<path d="M421,1081 L369,1120 L368,1132" stroke="#111" stroke-width="4.8" fill="none" stroke-linejoin="round" stroke-linecap="round" />
<path d="M421,1081 L369,1120 L368,1132" stroke="#fff" stroke-width="2.4" fill="none" stroke-linejoin="round" stroke-linecap="round" />
<rect x="366" y="1127" width="4.5" height="6" fill="#fff" stroke="#111" stroke-width="1"/>
<path d="M408,1072 L416,1076 M410,1069 L418,1073" stroke="#111" stroke-width="1.1" fill="none" stroke-linejoin="round" stroke-linecap="round" />
<ellipse cx="421" cy="1080" rx="2.2" ry="3" stroke="#111" stroke-width="1.6" fill="#fff"/>
<text x="298" y="1112" font-size="20" font-weight="bold" fill="#111" text-anchor="start">188</text>
<line x1="330" y1="1110" x2="365" y2="1120" stroke="#111" stroke-width="1.1" stroke-linecap="butt"/>
<text x="771" y="815" font-size="20" font-weight="bold" fill="#111" text-anchor="start">125</text>
<line x1="766" y1="812" x2="706" y2="817" stroke="#111" stroke-width="1.1" stroke-linecap="butt"/>
<g transform="translate(700 817)"><path d="M-9,-5 L-2,-3 L-2,2 Z" fill="#333" stroke="#111" stroke-width="1"/><ellipse cx="2" cy="1" rx="4.5" ry="5" fill="#fff" stroke="#111" stroke-width="1.6"/><path d="M-1,-2 L5,-1 M-1,3 L5,4 M-4,-3 L0,5" stroke="#111" stroke-width="1.1" fill="none"/></g>
<text x="697" y="922" font-size="20" font-weight="bold" fill="#111" text-anchor="start">186</text>
<line x1="730" y1="917" x2="761" y2="925" stroke="#111" stroke-width="1.1" stroke-linecap="butt"/>
<path d="M758,925 L758,932 A17,9 0 0 0 792,932 L792,925" stroke="#111" stroke-width="1.5" fill="#fff" stroke-linejoin="round" stroke-linecap="round" />
<path d="M758,928.5 A17,9 0 0 0 792,928.5" stroke="#111" stroke-width="1.6" fill="none" stroke-linejoin="round" stroke-linecap="round" />
<ellipse cx="775" cy="925" rx="17" ry="9" stroke="#111" stroke-width="1.7" fill="#fff"/>
<ellipse cx="775" cy="925" rx="12.5" ry="6.3" stroke="#111" stroke-width="1.2" fill="none"/>
<ellipse cx="775" cy="924.5" rx="8.5" ry="4.2" stroke="#111" stroke-width="2.4" fill="none"/>
<ellipse cx="775" cy="924" rx="4" ry="2" stroke="#111" stroke-width="1.1" fill="none"/>
<line x1="775" y1="943" x2="775" y2="963" stroke="#222" stroke-width="1.0" stroke-dasharray="11 4" stroke-linecap="butt"/>
<line x1="775" y1="982" x2="775" y2="1108" stroke="#222" stroke-width="1.0" stroke-dasharray="11 4" stroke-linecap="butt"/>
<text x="841" y="922" font-size="20" font-weight="bold" fill="#555" text-anchor="start">49</text>
<line x1="841" y1="926" x2="826" y2="946" stroke="#444" stroke-width="1.1" stroke-linecap="butt"/>
<ellipse cx="820" cy="949" rx="6.5" ry="3.2" stroke="#111" stroke-width="1.4" fill="#fff"/>
<rect x="817" y="951" width="6" height="21" fill="#fff" stroke="#111" stroke-width="1.1"/>
<line x1="817" y1="955" x2="823" y2="955.8" stroke="#111" stroke-width="0.9" stroke-linecap="butt"/>
<line x1="817" y1="958" x2="823" y2="958.8" stroke="#111" stroke-width="0.9" stroke-linecap="butt"/>
<line x1="817" y1="961" x2="823" y2="961.8" stroke="#111" stroke-width="0.9" stroke-linecap="butt"/>
<line x1="817" y1="964" x2="823" y2="964.8" stroke="#111" stroke-width="0.9" stroke-linecap="butt"/>
<line x1="817" y1="967" x2="823" y2="967.8" stroke="#111" stroke-width="0.9" stroke-linecap="butt"/>
<line x1="817" y1="970" x2="823" y2="970.8" stroke="#111" stroke-width="0.9" stroke-linecap="butt"/>
<line x1="820" y1="976" x2="820" y2="996" stroke="#222" stroke-width="1.0" stroke-dasharray="9 4" stroke-linecap="butt"/>
<line x1="820" y1="1036" x2="820" y2="1052" stroke="#222" stroke-width="1.0" stroke-dasharray="9 4" stroke-linecap="butt"/>
<text x="692" y="989" font-size="20" font-weight="bold" fill="#111" text-anchor="start">189</text>
<line x1="725" y1="978" x2="752" y2="970" stroke="#111" stroke-width="1.1" stroke-linecap="butt"/>
<path d="M736,956 L741,952 L784,960 L829,993 L831,1000 L822,1005 L807,1000 L779,978 L772,978 L752,970 L736,959 Z" stroke="#111" stroke-width="1.4" fill="#fff" stroke-linejoin="round" stroke-linecap="round" />
<path d="M736,959 L752,973 L772,981 L779,981 L807,1003 L822,1008 L831,1003" stroke="#111" stroke-width="1.0" fill="none" stroke-linejoin="round" stroke-linecap="round" />
<ellipse cx="775" cy="969" rx="7.5" ry="4.5" stroke="#111" stroke-width="1.3" fill="#fff"/>
<ellipse cx="741" cy="956" rx="1.6" ry="1.3" stroke="#111" stroke-width="1.0" fill="none"/>
<ellipse cx="750" cy="958" rx="1.6" ry="1.3" stroke="#111" stroke-width="1.0" fill="none"/>
<ellipse cx="820" cy="998" rx="2.6" ry="2" stroke="#111" stroke-width="1.1" fill="none"/>
<text x="859" y="983" font-size="20" font-weight="bold" fill="#333" text-anchor="start">314</text>
<line x1="857" y1="990" x2="838" y2="1013" stroke="#333" stroke-width="1.1" stroke-linecap="butt"/>
<path d="M807,1020 L831,1005 L837,1008 L844,1008 L844,1028 L834,1025 L834,1017 L816,1028 L807,1025 Z" stroke="#111" stroke-width="1.3" fill="#fff" stroke-linejoin="round" stroke-linecap="round" />
<path d="M837,1008 L837,1026 M807,1025 L807,1020" stroke="#111" stroke-width="1.0" fill="none" stroke-linejoin="round" stroke-linecap="round" />
<ellipse cx="819" cy="1022" rx="3.6" ry="2.4" stroke="#111" stroke-width="1.1" fill="none"/>
<rect x="837.5" y="1013" width="3.5" height="9" rx="1.5" fill="none" stroke="#111" stroke-width="1"/>
<text x="709" y="1030" font-size="20" font-weight="bold" fill="#111" text-anchor="start">90</text>
<line x1="731" y1="1028" x2="757" y2="1042" stroke="#111" stroke-width="1.1" stroke-linecap="butt"/>
<path d="M774,1020 L787,1016 L792,1018 L792,1037 L757,1062 L757,1080 L752,1082 L746,1077 L746,1055 Z" stroke="#111" stroke-width="1.4" fill="#fff" stroke-linejoin="round" stroke-linecap="round" />
<path d="M752,1060 L752,1082 M752,1060 L789,1034 L789,1019 M746,1055 L752,1060 M784,1032 L790,1027" stroke="#111" stroke-width="1.0" fill="none" stroke-linejoin="round" stroke-linecap="round" />
<rect x="749.5" y="1064" width="3" height="12" rx="1.5" fill="none" stroke="#111" stroke-width="1"/>
<ellipse cx="775" cy="1042" rx="2" ry="1.4" stroke="#111" stroke-width="1.0" fill="none"/>
<ellipse cx="776" cy="1025" rx="1.3" ry="1.3" stroke="#111" stroke-width="1.0" fill="#111"/>
<path d="M790,1063 L790,1074 A30,17 0 0 0 850,1074 L850,1063" stroke="#111" stroke-width="1.6" fill="#fff" stroke-linejoin="round" stroke-linecap="round" />
<path d="M791.5,1068.5 A28.5,17 0 0 0 848.5,1068.5" stroke="#111" stroke-width="2.4" fill="none" stroke-linejoin="round" stroke-linecap="round" />
<path d="M790,1074 A30,17 0 0 0 850,1074" stroke="#111" stroke-width="2.6" fill="none" stroke-linejoin="round" stroke-linecap="round" />
<ellipse cx="820" cy="1063" rx="30" ry="17" stroke="#111" stroke-width="2.0" fill="#fff"/>
<ellipse cx="820" cy="1063" rx="25.8" ry="14.28" stroke="#111" stroke-width="1.1" fill="none"/>
<ellipse cx="820" cy="1064" rx="16.5" ry="9.350000000000001" stroke="#111" stroke-width="1.4" fill="none"/>
<line x1="836.2" y1="1065.6" x2="845.4" y2="1065.5" stroke="#111" stroke-width="1.6" stroke-linecap="butt"/>
<line x1="831.5" y1="1070.7" x2="837.9" y2="1073.3" stroke="#111" stroke-width="1.6" stroke-linecap="butt"/>
<line x1="822.3" y1="1073.3" x2="823.6" y2="1077.1" stroke="#111" stroke-width="1.6" stroke-linecap="butt"/>
<line x1="812.3" y1="1072.3" x2="807.9" y2="1075.6" stroke="#111" stroke-width="1.6" stroke-linecap="butt"/>
<line x1="805.2" y1="1068.1" x2="796.8" y2="1069.3" stroke="#111" stroke-width="1.6" stroke-linecap="butt"/>
<line x1="803.8" y1="1062.4" x2="794.6" y2="1060.5" stroke="#111" stroke-width="1.6" stroke-linecap="butt"/>
<line x1="808.5" y1="1057.3" x2="802.1" y2="1052.7" stroke="#111" stroke-width="1.6" stroke-linecap="butt"/>
<line x1="817.7" y1="1054.7" x2="816.4" y2="1048.9" stroke="#111" stroke-width="1.6" stroke-linecap="butt"/>
<line x1="827.7" y1="1055.7" x2="832.1" y2="1050.4" stroke="#111" stroke-width="1.6" stroke-linecap="butt"/>
<line x1="834.8" y1="1059.9" x2="843.2" y2="1056.7" stroke="#111" stroke-width="1.6" stroke-linecap="butt"/>
<ellipse cx="820" cy="1063" rx="10.799999999999999" ry="6.12" stroke="#111" stroke-width="1.6" fill="#fff"/>
<path d="M814.0,1058 L814.0,1064 A6.0,3.4000000000000004 0 0 0 826.0,1064 L826.0,1058" stroke="#111" stroke-width="1.3" fill="#fff" stroke-linejoin="round" stroke-linecap="round" />
<ellipse cx="820" cy="1058" rx="6.0" ry="3.4000000000000004" stroke="#111" stroke-width="1.4" fill="#fff"/>
<ellipse cx="820" cy="1058" rx="2.6999999999999997" ry="1.7000000000000002" stroke="#111" stroke-width="1.0" fill="none"/>
<text x="876" y="1102" font-size="20" font-weight="bold" fill="#111" text-anchor="start">52</text>
<line x1="874" y1="1092" x2="847" y2="1082" stroke="#111" stroke-width="1.1" stroke-linecap="butt"/>
<path d="M815.05,1104 L817.525,1100.15 L822.475,1100.15 L824.95,1104 L822.475,1107.85 L817.525,1107.85 Z" stroke="#111" stroke-width="1.4" fill="#fff" stroke-linejoin="round" stroke-linecap="round" />
<ellipse cx="820" cy="1104" rx="2.2" ry="1.76" stroke="#111" stroke-width="1.1" fill="#fff"/>
<path d="M815.05,1104 L815.05,1106 L817.525,1109.85 L822.475,1109.85 L824.95,1106 L824.95,1104" stroke="#111" stroke-width="1.1" fill="none" stroke-linejoin="round" stroke-linecap="round" />
<text x="834" y="1162" font-size="20" font-weight="bold" fill="#111" text-anchor="start">51</text>
<line x1="836" y1="1147" x2="822" y2="1111" stroke="#111" stroke-width="1.1" stroke-linecap="butt"/>
<line x1="831" y1="1158" x2="783" y2="1167" stroke="#111" stroke-width="1.1" stroke-linecap="butt"/>
<path d="M747,1122 L747,1140 A29,16.5 0 0 0 805,1140 L805,1122" stroke="#111" stroke-width="1.6" fill="#fff" stroke-linejoin="round" stroke-linecap="round" />
<path d="M748.5,1128.0 A27.5,16.5 0 0 0 803.5,1128.0" stroke="#111" stroke-width="2.4" fill="none" stroke-linejoin="round" stroke-linecap="round" />
<path d="M748.5,1134.0 A27.5,16.5 0 0 0 803.5,1134.0" stroke="#111" stroke-width="2.4" fill="none" stroke-linejoin="round" stroke-linecap="round" />
<path d="M747,1140 A29,16.5 0 0 0 805,1140" stroke="#111" stroke-width="2.6" fill="none" stroke-linejoin="round" stroke-linecap="round" />
<ellipse cx="776" cy="1122" rx="29" ry="16.5" stroke="#111" stroke-width="2.0" fill="#fff"/>
<ellipse cx="776" cy="1122" rx="24.94" ry="13.86" stroke="#111" stroke-width="1.1" fill="none"/>
<ellipse cx="776" cy="1123" rx="15.950000000000001" ry="9.075000000000001" stroke="#111" stroke-width="1.4" fill="none"/>
<line x1="791.7" y1="1124.6" x2="800.6" y2="1124.4" stroke="#111" stroke-width="1.6" stroke-linecap="butt"/>
<line x1="787.1" y1="1129.5" x2="793.3" y2="1132.0" stroke="#111" stroke-width="1.6" stroke-linecap="butt"/>
<line x1="778.2" y1="1132.0" x2="779.5" y2="1135.7" stroke="#111" stroke-width="1.6" stroke-linecap="butt"/>
<line x1="768.5" y1="1131.0" x2="764.3" y2="1134.2" stroke="#111" stroke-width="1.6" stroke-linecap="butt"/>
<line x1="761.7" y1="1127.0" x2="753.6" y2="1128.1" stroke="#111" stroke-width="1.6" stroke-linecap="butt"/>
<line x1="760.3" y1="1121.4" x2="751.4" y2="1119.6" stroke="#111" stroke-width="1.6" stroke-linecap="butt"/>
<line x1="764.9" y1="1116.5" x2="758.7" y2="1112.0" stroke="#111" stroke-width="1.6" stroke-linecap="butt"/>
<line x1="773.8" y1="1114.0" x2="772.5" y2="1108.3" stroke="#111" stroke-width="1.6" stroke-linecap="butt"/>
<line x1="783.5" y1="1115.0" x2="787.7" y2="1109.8" stroke="#111" stroke-width="1.6" stroke-linecap="butt"/>
<line x1="790.3" y1="1119.0" x2="798.4" y2="1115.9" stroke="#111" stroke-width="1.6" stroke-linecap="butt"/>
<ellipse cx="776" cy="1122" rx="10.44" ry="5.9399999999999995" stroke="#111" stroke-width="1.6" fill="#fff"/>
<path d="M770.2,1117 L770.2,1123 A5.800000000000001,3.3000000000000003 0 0 0 781.8,1123 L781.8,1117" stroke="#111" stroke-width="1.3" fill="#fff" stroke-linejoin="round" stroke-linecap="round" />
<ellipse cx="776" cy="1117" rx="5.800000000000001" ry="3.3000000000000003" stroke="#111" stroke-width="1.4" fill="#fff"/>
<ellipse cx="776" cy="1117" rx="2.61" ry="1.6500000000000001" stroke="#111" stroke-width="1.0" fill="none"/>
<text x="695" y="1166" font-size="20" font-weight="bold" fill="#111" text-anchor="start">50</text>
<line x1="718" y1="1158" x2="751" y2="1148" stroke="#111" stroke-width="1.1" stroke-linecap="butt"/>
<path d="M771.05,1167 L773.525,1163.15 L778.475,1163.15 L780.95,1167 L778.475,1170.85 L773.525,1170.85 Z" stroke="#111" stroke-width="1.4" fill="#fff" stroke-linejoin="round" stroke-linecap="round" />
<ellipse cx="776" cy="1167" rx="2.2" ry="1.76" stroke="#111" stroke-width="1.1" fill="#fff"/>
<path d="M771.05,1167 L771.05,1169 L773.525,1172.85 L778.475,1172.85 L780.95,1169 L780.95,1167" stroke="#111" stroke-width="1.1" fill="none" stroke-linejoin="round" stroke-linecap="round" />
<ellipse cx="776" cy="1170" rx="7" ry="3" stroke="#111" stroke-width="1.0" fill="none"/>
<text x="448" y="1173" font-size="20" font-weight="bold" fill="#111" text-anchor="start">99</text>
<line x1="451" y1="1180" x2="442" y2="1237" stroke="#111" stroke-width="1.1" stroke-linecap="butt"/>
<path d="M317,1203 L318,1196 Q320,1191 327,1193 L411,1249 Q414,1251 418,1249 L440,1239 Q444,1238 448,1241 L482,1264 Q487,1267 491,1263" stroke="#111" stroke-width="4.8" fill="none" stroke-linejoin="round" stroke-linecap="round" />
<path d="M317,1203 L318,1196 Q320,1191 327,1193 L411,1249 Q414,1251 418,1249 L440,1239 Q444,1238 448,1241 L482,1264 Q487,1267 491,1263" stroke="#fff" stroke-width="2.4" fill="none" stroke-linejoin="round" stroke-linecap="round" />
<text x="311" y="1289" font-size="20" font-weight="bold" fill="#111" text-anchor="start">33</text>
<line x1="310" y1="1294" x2="292" y2="1330" stroke="#111" stroke-width="1.1" stroke-linecap="butt"/>
<g transform="translate(286 1337) scale(1 1)"><path d="M-6,-4 Q-2,-12 4,-8 Q8,-3 5,5 Q2,11 -5,10 L-5,7 Q1,7 2,1 L-3,1 L-3,-2 L2,-2 Q2,-7 -2,-6 Q-4,-5 -4,-2 Z" fill="#fff" stroke="#111" stroke-width="1.4" stroke-linejoin="round"/></g>
<ellipse cx="317" cy="1352" rx="12.5" ry="16.5" stroke="#111" stroke-width="1.5" fill="#fff" transform="rotate(25 317 1352)"/>
<ellipse cx="317.5" cy="1352" rx="5.5" ry="8.5" stroke="#111" stroke-width="1.2" fill="#fff" transform="rotate(25 317.5 1352)"/>
<text x="379" y="1319" font-size="20" font-weight="bold" fill="#111" text-anchor="start">205</text>
<line x1="377" y1="1323" x2="354" y2="1362" stroke="#111" stroke-width="1.1" stroke-linecap="butt"/>
<ellipse cx="344" cy="1368" rx="9.5" ry="14" stroke="#111" stroke-width="2.0" fill="#fff" transform="rotate(25 344 1368)"/>
<ellipse cx="344.5" cy="1368" rx="6.5" ry="10.5" stroke="#111" stroke-width="1.2" fill="#fff" transform="rotate(25 344.5 1368)"/>
<text x="220" y="1388" font-size="20" font-weight="bold" fill="#111" text-anchor="start">205</text>
<line x1="254" y1="1375" x2="303" y2="1365" stroke="#111" stroke-width="1.1" stroke-linecap="butt"/>
<g transform="translate(370 1384) rotate(25)"><path d="M-8.0,-9.5 L8.0,-9.5 L8.0,9.5 L-8.0,9.5" fill="#fff" stroke="#111" stroke-width="1.3"/><ellipse cx="-8.0" cy="0" rx="6" ry="9.5" fill="#fff" stroke="#111" stroke-width="1.3"/><ellipse cx="8.0" cy="0" rx="6" ry="9.5" fill="#fff" stroke="#111" stroke-width="1.4"/><ellipse cx="8.0" cy="0" rx="4.199999999999999" ry="7.41" fill="#fff" stroke="#111" stroke-width="1.1"/></g>
<text x="297" y="1468" font-size="20" font-weight="bold" fill="#111" text-anchor="start">183</text>
<line x1="328" y1="1450" x2="365" y2="1395" stroke="#111" stroke-width="1.1" stroke-linecap="butt"/>
<ellipse cx="397" cy="1398" rx="9.5" ry="13" stroke="#111" stroke-width="2.0" fill="#fff" transform="rotate(25 397 1398)"/>
<ellipse cx="397.5" cy="1398" rx="6" ry="9" stroke="#111" stroke-width="1.2" fill="#fff" transform="rotate(25 397.5 1398)"/>
<text x="363" y="1487" font-size="20" font-weight="bold" fill="#111" text-anchor="start">37</text>
<line x1="380" y1="1470" x2="393" y2="1412" stroke="#111" stroke-width="1.1" stroke-linecap="butt"/>
<g transform="translate(428 1383) rotate(30)"><rect x="0" y="-2.2" width="39" height="4.4" rx="1" fill="#fff" stroke="#111" stroke-width="1.2"/></g>
<text x="468" y="1349" font-size="20" font-weight="bold" fill="#111" text-anchor="start">2</text>
<line x1="468" y1="1353" x2="448" y2="1393" stroke="#111" stroke-width="1.1" stroke-linecap="butt"/>
<text x="393" y="1543" font-size="20" font-weight="bold" fill="#111" text-anchor="start">1</text>
<line x1="403" y1="1533" x2="475" y2="1520" stroke="#111" stroke-width="1.1" stroke-linecap="butt"/>
<path d="M277,1632 L277,1657 Q276,1663 271,1663 Q265,1663 265,1657 L265,1536 Q265,1530 271,1531 L347,1543 Q351,1544 354,1546 L407,1584 Q410,1587 410,1591 L410,1672 Q410,1678 404,1679" stroke="#111" stroke-width="5.6" fill="none" stroke-linejoin="round" stroke-linecap="round" />
<path d="M277,1632 L277,1657 Q276,1663 271,1663 Q265,1663 265,1657 L265,1536 Q265,1530 271,1531 L347,1543 Q351,1544 354,1546 L407,1584 Q410,1587 410,1591 L410,1672 Q410,1678 404,1679" stroke="#fff" stroke-width="3.1999999999999997" fill="none" stroke-linejoin="round" stroke-linecap="round" />
<ellipse cx="400" cy="1680" rx="10" ry="4.2" stroke="#111" stroke-width="1.3" fill="none"/>
<ellipse cx="399" cy="1679" rx="5" ry="1.8" stroke="#111" stroke-width="1.0" fill="none"/>
<ellipse cx="275" cy="1634" rx="1" ry="2.5" stroke="#111" stroke-width="0.9" fill="none"/>
<text x="280" y="1610" font-size="20" font-weight="bold" fill="#111" text-anchor="start">372</text>
<line x1="315" y1="1590" x2="327" y2="1543" stroke="#111" stroke-width="1.1" stroke-linecap="butt"/>
<rect x="393.5" y="1609" width="9" height="6" rx="1.5" fill="#fff" stroke="#111" stroke-width="1.4"/>
<ellipse cx="398" cy="1615.5" rx="5.5" ry="1.8" stroke="#111" stroke-width="1.2" fill="#fff"/>
<rect x="395.7" y="1617" width="4.6" height="17" fill="#bbb" stroke="#111" stroke-width="1.1"/>
<line x1="395.7" y1="1620" x2="400.3" y2="1620" stroke="#111" stroke-width="0.8" stroke-linecap="butt"/>
<line x1="395.7" y1="1622.4" x2="400.3" y2="1622.4" stroke="#111" stroke-width="0.8" stroke-linecap="butt"/>
<line x1="395.7" y1="1624.8000000000002" x2="400.3" y2="1624.8000000000002" stroke="#111" stroke-width="0.8" stroke-linecap="butt"/>
<line x1="395.7" y1="1627.2000000000003" x2="400.3" y2="1627.2000000000003" stroke="#111" stroke-width="0.8" stroke-linecap="butt"/>
<line x1="395.7" y1="1629.6000000000004" x2="400.3" y2="1629.6000000000004" stroke="#111" stroke-width="0.8" stroke-linecap="butt"/>
<line x1="395.7" y1="1632.0000000000005" x2="400.3" y2="1632.0000000000005" stroke="#111" stroke-width="0.8" stroke-linecap="butt"/>
<line x1="398" y1="1638" x2="398" y2="1674" stroke="#222" stroke-width="1.0" stroke-dasharray="10 4" stroke-linecap="butt"/>
<text x="331" y="1657" font-size="20" font-weight="bold" fill="#111" text-anchor="start">227</text>
<line x1="372" y1="1645" x2="395" y2="1620" stroke="#111" stroke-width="1.1" stroke-linecap="butt"/>
<text x="87" y="1731" font-size="14" fill="#222" textLength="240" lengthAdjust="spacingAndGlyphs">drive-TexCrd-Gen2_K57R_pedal_5</text>
<text x="670" y="1333" font-size="20" font-weight="bold" fill="#111" text-anchor="start">17</text>
<line x1="681" y1="1338" x2="689" y2="1383" stroke="#111" stroke-width="1.1" stroke-linecap="butt"/>
<path d="M742,1363 L746,1360 Q748,1355 742,1355 L735,1356 L642,1417 Q637,1421 640,1415 L645,1411" stroke="#111" stroke-width="1.0" fill="none" stroke-linejoin="round" stroke-linecap="round" />
<path d="M741,1361 L737,1358 L644,1419" stroke="#111" stroke-width="1.0" fill="none" stroke-linejoin="round" stroke-linecap="round" />
<g transform="translate(692 1388) rotate(-27)"><rect x="-18" y="-5.5" width="36" height="11" rx="4" fill="#555" stroke="#111" stroke-width="1.4"/><line x1="-15" y1="-5" x2="-12.5" y2="5" stroke="#eee" stroke-width="0.9"/><line x1="-12" y1="-5" x2="-9.5" y2="5" stroke="#eee" stroke-width="0.9"/><line x1="-9" y1="-5" x2="-6.5" y2="5" stroke="#eee" stroke-width="0.9"/><line x1="-6" y1="-5" x2="-3.5" y2="5" stroke="#eee" stroke-width="0.9"/><line x1="-3" y1="-5" x2="-0.5" y2="5" stroke="#eee" stroke-width="0.9"/><line x1="0" y1="-5" x2="2.5" y2="5" stroke="#eee" stroke-width="0.9"/><line x1="3" y1="-5" x2="5.5" y2="5" stroke="#eee" stroke-width="0.9"/><line x1="6" y1="-5" x2="8.5" y2="5" stroke="#eee" stroke-width="0.9"/><line x1="9" y1="-5" x2="11.5" y2="5" stroke="#eee" stroke-width="0.9"/><line x1="12" y1="-5" x2="14.5" y2="5" stroke="#eee" stroke-width="0.9"/><line x1="15" y1="-5" x2="17.5" y2="5" stroke="#eee" stroke-width="0.9"/></g>
<text x="761" y="1326" font-size="20" font-weight="bold" fill="#111" text-anchor="start">29</text>
<line x1="777" y1="1332" x2="797" y2="1370" stroke="#111" stroke-width="1.1" stroke-linecap="butt"/>
<path d="M903,1234 Q910,1234 908,1242 L884,1300 Q882,1305 878,1308 L737,1411 Q731,1416 735,1420 L744,1425" stroke="#111" stroke-width="5.0" fill="none" stroke-linejoin="round" stroke-linecap="round" />
<path d="M903,1234 Q910,1234 908,1242 L884,1300 Q882,1305 878,1308 L737,1411 Q731,1416 735,1420 L744,1425" stroke="#fff" stroke-width="2.6" fill="none" stroke-linejoin="round" stroke-linecap="round" />
<path d="M899,1232 L904,1235 M898,1236 L902,1239" stroke="#111" stroke-width="1.3" fill="none" stroke-linejoin="round" stroke-linecap="round" />
<ellipse cx="745" cy="1426" rx="1.5" ry="2.6" stroke="#111" stroke-width="1.0" fill="#fff" transform="rotate(-30 745 1426)"/>
<g transform="translate(758 1432)"><ellipse cx="-1" cy="0" rx="6" ry="8" fill="#fff" stroke="#111" stroke-width="1.6"/><path d="M0,-7 L6,-5 L6,6 L0,8" fill="#fff" stroke="#111" stroke-width="1.2"/><ellipse cx="5" cy="0.5" rx="3.5" ry="5.5" fill="#fff" stroke="#111" stroke-width="1.2"/></g>
<text x="766" y="1501" font-size="20" font-weight="bold" fill="#111" text-anchor="start">6</text>
<line x1="767" y1="1483" x2="759" y2="1440" stroke="#111" stroke-width="1.1" stroke-linecap="butt"/>
<ellipse cx="777" cy="1437" rx="4.5" ry="6.5" stroke="#111" stroke-width="1.6" fill="#fff" transform="rotate(30 777 1437)"/>
<ellipse cx="777.5" cy="1437" rx="1.8" ry="2.8" stroke="#111" stroke-width="1.2" fill="#fff" transform="rotate(30 777.5 1437)"/>
<text x="842" y="1417" font-size="20" font-weight="bold" fill="#111" text-anchor="start">30</text>
<line x1="836" y1="1415" x2="783" y2="1435" stroke="#111" stroke-width="1.1" stroke-linecap="butt"/>
<path d="M786,1451 L799,1444" stroke="#111" stroke-width="1.8" fill="none" stroke-linejoin="round" stroke-linecap="round" />
<ellipse cx="799" cy="1444" rx="1.2" ry="1.2" stroke="#111" stroke-width="1.0" fill="#111"/>
<text x="832" y="1465" font-size="20" font-weight="bold" fill="#111" text-anchor="start">159</text>
<line x1="827" y1="1454" x2="800" y2="1446" stroke="#111" stroke-width="1.1" stroke-linecap="butt"/>
<text x="851" y="1566" font-size="20" font-weight="bold" fill="#111" text-anchor="start">2</text>
<line x1="852" y1="1568" x2="836" y2="1618" stroke="#111" stroke-width="1.1" stroke-linecap="butt"/>
<g transform="translate(811 1612) rotate(29)"><rect x="0" y="-2.2" width="38" height="4.4" rx="1" fill="#fff" stroke="#111" stroke-width="1.2"/></g>
<text x="874" y="1598" font-size="20" font-weight="bold" fill="#111" text-anchor="start">37</text>
<line x1="882" y1="1603" x2="854" y2="1657" stroke="#111" stroke-width="1.1" stroke-linecap="butt"/>
<ellipse cx="843" cy="1670" rx="10" ry="14" stroke="#111" stroke-width="2.0" fill="#fff" transform="rotate(25 843 1670)"/>
<ellipse cx="843.5" cy="1670" rx="6.5" ry="10" stroke="#111" stroke-width="1.2" fill="#fff" transform="rotate(25 843.5 1670)"/>
<text x="948" y="1598" font-size="20" font-weight="bold" fill="#111" text-anchor="start">183</text>
<line x1="944" y1="1598" x2="876" y2="1678" stroke="#111" stroke-width="1.1" stroke-linecap="butt"/>
<g transform="translate(869 1686) rotate(27)"><path d="M-8.5,-10 L8.5,-10 L8.5,10 L-8.5,10" fill="#fff" stroke="#111" stroke-width="1.3"/><ellipse cx="-8.5" cy="0" rx="6.5" ry="10" fill="#fff" stroke="#111" stroke-width="1.3"/><ellipse cx="8.5" cy="0" rx="6.5" ry="10" fill="#fff" stroke="#111" stroke-width="1.4"/><ellipse cx="8.5" cy="0" rx="4.55" ry="7.800000000000001" fill="#fff" stroke="#111" stroke-width="1.1"/></g>
<ellipse cx="896" cy="1700" rx="9" ry="13" stroke="#111" stroke-width="2.0" fill="#fff" transform="rotate(25 896 1700)"/>
<ellipse cx="896.5" cy="1700" rx="5.5" ry="9.5" stroke="#111" stroke-width="1.2" fill="#fff" transform="rotate(25 896.5 1700)"/>
<text x="982" y="1636" font-size="20" font-weight="bold" fill="#111" text-anchor="start">205</text>
<line x1="977" y1="1638" x2="907" y2="1680" stroke="#111" stroke-width="1.1" stroke-linecap="butt"/>
<ellipse cx="925" cy="1717" rx="12.5" ry="17" stroke="#111" stroke-width="1.5" fill="#fff" transform="rotate(25 925 1717)"/>
<ellipse cx="925.5" cy="1717" rx="5.5" ry="9" stroke="#111" stroke-width="1.2" fill="#fff" transform="rotate(25 925.5 1717)"/>
<text x="1025" y="1665" font-size="20" font-weight="bold" fill="#111" text-anchor="start">205</text>
<line x1="1018" y1="1664" x2="937" y2="1698" stroke="#111" stroke-width="1.1" stroke-linecap="butt"/>
<g transform="translate(949 1728) scale(1 1)"><path d="M-6,-4 Q-2,-12 4,-8 Q8,-3 5,5 Q2,11 -5,10 L-5,7 Q1,7 2,1 L-3,1 L-3,-2 L2,-2 Q2,-7 -2,-6 Q-4,-5 -4,-2 Z" fill="#fff" stroke="#111" stroke-width="1.4" stroke-linejoin="round"/></g>
<text x="1030" y="1715" font-size="20" font-weight="bold" fill="#111" text-anchor="start">33</text>
<line x1="1023" y1="1710" x2="958" y2="1727" stroke="#111" stroke-width="1.1" stroke-linecap="butt"/>
<line x1="488" y1="1537" x2="488" y2="1665" stroke="#222" stroke-width="1.0" stroke-dasharray="11 4" stroke-linecap="butt"/>
<line x1="524" y1="1630" x2="524" y2="1641" stroke="#222" stroke-width="1.0" stroke-dasharray="8 3" stroke-linecap="butt"/>
<line x1="714" y1="1630" x2="714" y2="1641" stroke="#222" stroke-width="1.0" stroke-dasharray="8 3" stroke-linecap="butt"/>
<line x1="749" y1="1632" x2="749" y2="1661" stroke="#222" stroke-width="1.0" stroke-dasharray="10 4" stroke-linecap="butt"/>
<rect x="485.8" y="1666" width="4.4" height="57" fill="#fff" stroke="#111" stroke-width="1.2"/>
<line x1="485.8" y1="1668" x2="490.2" y2="1668.8" stroke="#111" stroke-width="1.0" stroke-linecap="butt"/>
<line x1="485.8" y1="1670.5" x2="490.2" y2="1671.3" stroke="#111" stroke-width="1.0" stroke-linecap="butt"/>
<line x1="485.8" y1="1673.0" x2="490.2" y2="1673.8" stroke="#111" stroke-width="1.0" stroke-linecap="butt"/>
<line x1="485.8" y1="1675.5" x2="490.2" y2="1676.3" stroke="#111" stroke-width="1.0" stroke-linecap="butt"/>
<line x1="485.8" y1="1678.0" x2="490.2" y2="1678.8" stroke="#111" stroke-width="1.0" stroke-linecap="butt"/>
<line x1="485.8" y1="1680.5" x2="490.2" y2="1681.3" stroke="#111" stroke-width="1.0" stroke-linecap="butt"/>
<ellipse cx="488" cy="1723" rx="6" ry="2.4" stroke="#111" stroke-width="1.3" fill="#fff"/>
<rect x="484" y="1724" width="8" height="4.5" rx="1.2" fill="#fff" stroke="#111" stroke-width="1.3"/>
<rect x="521.8" y="1642" width="4.4" height="57" fill="#fff" stroke="#111" stroke-width="1.2"/>
<line x1="521.8" y1="1644" x2="526.2" y2="1644.8" stroke="#111" stroke-width="1.0" stroke-linecap="butt"/>
<line x1="521.8" y1="1646.5" x2="526.2" y2="1647.3" stroke="#111" stroke-width="1.0" stroke-linecap="butt"/>
<line x1="521.8" y1="1649.0" x2="526.2" y2="1649.8" stroke="#111" stroke-width="1.0" stroke-linecap="butt"/>
<line x1="521.8" y1="1651.5" x2="526.2" y2="1652.3" stroke="#111" stroke-width="1.0" stroke-linecap="butt"/>
<line x1="521.8" y1="1654.0" x2="526.2" y2="1654.8" stroke="#111" stroke-width="1.0" stroke-linecap="butt"/>
<line x1="521.8" y1="1656.5" x2="526.2" y2="1657.3" stroke="#111" stroke-width="1.0" stroke-linecap="butt"/>
<ellipse cx="524" cy="1699" rx="6" ry="2.4" stroke="#111" stroke-width="1.3" fill="#fff"/>
<rect x="520" y="1700" width="8" height="4.5" rx="1.2" fill="#fff" stroke="#111" stroke-width="1.3"/>
<rect x="711.8" y="1642" width="4.4" height="56" fill="#fff" stroke="#111" stroke-width="1.2"/>
<line x1="711.8" y1="1644" x2="716.2" y2="1644.8" stroke="#111" stroke-width="1.0" stroke-linecap="butt"/>
<line x1="711.8" y1="1646.5" x2="716.2" y2="1647.3" stroke="#111" stroke-width="1.0" stroke-linecap="butt"/>
<line x1="711.8" y1="1649.0" x2="716.2" y2="1649.8" stroke="#111" stroke-width="1.0" stroke-linecap="butt"/>
<line x1="711.8" y1="1651.5" x2="716.2" y2="1652.3" stroke="#111" stroke-width="1.0" stroke-linecap="butt"/>
<line x1="711.8" y1="1654.0" x2="716.2" y2="1654.8" stroke="#111" stroke-width="1.0" stroke-linecap="butt"/>
<line x1="711.8" y1="1656.5" x2="716.2" y2="1657.3" stroke="#111" stroke-width="1.0" stroke-linecap="butt"/>
<ellipse cx="714" cy="1698" rx="6" ry="2.4" stroke="#111" stroke-width="1.3" fill="#fff"/>
<rect x="710" y="1699" width="8" height="4.5" rx="1.2" fill="#fff" stroke="#111" stroke-width="1.3"/>
<rect x="746.8" y="1663" width="4.4" height="59" fill="#fff" stroke="#111" stroke-width="1.2"/>
<line x1="746.8" y1="1665" x2="751.2" y2="1665.8" stroke="#111" stroke-width="1.0" stroke-linecap="butt"/>
<line x1="746.8" y1="1667.5" x2="751.2" y2="1668.3" stroke="#111" stroke-width="1.0" stroke-linecap="butt"/>
<line x1="746.8" y1="1670.0" x2="751.2" y2="1670.8" stroke="#111" stroke-width="1.0" stroke-linecap="butt"/>
<line x1="746.8" y1="1672.5" x2="751.2" y2="1673.3" stroke="#111" stroke-width="1.0" stroke-linecap="butt"/>
<line x1="746.8" y1="1675.0" x2="751.2" y2="1675.8" stroke="#111" stroke-width="1.0" stroke-linecap="butt"/>
<line x1="746.8" y1="1677.5" x2="751.2" y2="1678.3" stroke="#111" stroke-width="1.0" stroke-linecap="butt"/>
<ellipse cx="749" cy="1722" rx="6" ry="2.4" stroke="#111" stroke-width="1.3" fill="#fff"/>
<rect x="745" y="1723" width="8" height="4.5" rx="1.2" fill="#fff" stroke="#111" stroke-width="1.3"/>
<text x="609" y="1718" font-size="20" font-weight="bold" fill="#111" text-anchor="start">73</text>
<line x1="601" y1="1712" x2="530" y2="1704" stroke="#111" stroke-width="1.1" stroke-linecap="butt"/>
<line x1="601" y1="1714" x2="495" y2="1727" stroke="#111" stroke-width="1.1" stroke-linecap="butt"/>
<line x1="637" y1="1712" x2="709" y2="1705" stroke="#111" stroke-width="1.1" stroke-linecap="butt"/>
<line x1="637" y1="1713" x2="744" y2="1724" stroke="#111" stroke-width="1.1" stroke-linecap="butt"/>
<path d="M1188,1160 L1212,1151 L1215,1162 L1233,1184 L1215,1200 L1204,1195 L1190,1176 Z" stroke="#111" stroke-width="1.4" fill="#fff" stroke-linejoin="round" stroke-linecap="round" />
<path d="M1194,1160 Q1195,1178 1210,1197 M1212,1153 Q1214,1170 1231,1186 M1198,1159 Q1200,1176 1214,1193" stroke="#111" stroke-width="1.1" fill="none" stroke-linejoin="round" stroke-linecap="round" />
<rect x="1201" y="1164" width="3" height="3" fill="none" stroke="#111" stroke-width="0.9"/>
<path d="M1215,1190 L1222,1182 L1224,1186 L1218,1193 Z" stroke="#111" stroke-width="1.6" fill="none" stroke-linejoin="round" stroke-linecap="round" />
<path d="M1173,1151 L1186,1133 L1206,1134 L1218,1145 L1214,1150 L1189,1159 Z" stroke="#111" stroke-width="1.5" fill="#fff" stroke-linejoin="round" stroke-linecap="round" />
<path d="M1184,1136 L1187,1133 L1205,1134 L1211,1139 L1196,1142 Z" stroke="#111" stroke-width="1.2" fill="#333" stroke-linejoin="round" stroke-linecap="round" />
<path d="M1180,1147 L1196,1142 L1213,1141 M1177,1152 L1190,1147 L1215,1147 M1189,1159 L1192,1147 M1183,1146 L1186,1156" stroke="#111" stroke-width="1.3" fill="none" stroke-linejoin="round" stroke-linecap="round" />
<path d="M1186,1143 L1194,1141 M1184,1150 L1190,1149" stroke="#111" stroke-width="2.6" fill="none" stroke-linejoin="round" stroke-linecap="round" />
<path d="M1189,1159 L1214,1150" stroke="#111" stroke-width="1.6" fill="none" stroke-linejoin="round" stroke-linecap="round" />
<text x="1166" y="1230" font-size="20" font-weight="bold" fill="#111" text-anchor="start">215</text>
<line x1="1192" y1="1213" x2="1203" y2="1194" stroke="#111" stroke-width="1.1" stroke-linecap="butt"/>
<path d="M1257,1147 L1268,1139 L1272,1142 L1278,1157 L1291,1149 L1291,1160 L1269,1183 L1264,1181 Z" stroke="#111" stroke-width="1.4" fill="#fff" stroke-linejoin="round" stroke-linecap="round" />
<path d="M1260,1149 L1267,1179 M1278,1157 L1281,1161 L1291,1154" stroke="#111" stroke-width="1.0" fill="none" stroke-linejoin="round" stroke-linecap="round" />
<path d="M1269,1171 L1273,1167 L1276,1172 L1272,1176 Z" stroke="#111" stroke-width="1.1" fill="none" stroke-linejoin="round" stroke-linecap="round" />
<ellipse cx="1297" cy="1137" rx="6.5" ry="8" stroke="#111" stroke-width="2.0" fill="#fff" transform="rotate(20 1297 1137)"/>
<ellipse cx="1298" cy="1138" rx="3.5" ry="5" stroke="#111" stroke-width="1.2" fill="#fff" transform="rotate(20 1298 1138)"/>
<path d="M1288,1140 L1290,1152 M1286,1143 L1288,1154" stroke="#111" stroke-width="1.2" fill="none" stroke-linejoin="round" stroke-linecap="round" />
<g transform="translate(1321 1154) rotate(25)"><ellipse cx="-4" cy="0" rx="7" ry="11" fill="#fff" stroke="#111" stroke-width="1.2"/><ellipse cx="1" cy="0" rx="7.5" ry="11.5" fill="#fff" stroke="#111" stroke-width="1.5"/><ellipse cx="2" cy="0" rx="4.5" ry="7.5" fill="#fff" stroke="#111" stroke-width="1.1"/><ellipse cx="2.5" cy="0" rx="2.5" ry="4.5" fill="#fff" stroke="#111" stroke-width="0.9"/></g>
<text x="1254" y="1201" font-size="20" font-weight="bold" fill="#111" text-anchor="start">211</text>
<line x1="1284" y1="1189" x2="1314" y2="1158" stroke="#111" stroke-width="1.1" stroke-linecap="butt"/>
<ellipse cx="1340" cy="1165" rx="6.5" ry="9.5" stroke="#111" stroke-width="1.5" fill="#fff" transform="rotate(30 1340 1165)"/>
<ellipse cx="1340.5" cy="1165" rx="2.2" ry="3.2" stroke="#111" stroke-width="1.2" fill="#fff" transform="rotate(30 1340.5 1165)"/>
<ellipse cx="1356" cy="1174" rx="6.5" ry="9.5" stroke="#111" stroke-width="1.9" fill="#fff" transform="rotate(30 1356 1174)"/>
<ellipse cx="1356.5" cy="1174" rx="4.5" ry="7" stroke="#111" stroke-width="1.2" fill="#fff" transform="rotate(30 1356.5 1174)"/>
<text x="1326" y="1236" font-size="20" font-weight="bold" fill="#111" text-anchor="start">166</text>
<line x1="1348" y1="1219" x2="1353" y2="1184" stroke="#111" stroke-width="1.1" stroke-linecap="butt"/>
<line x1="1361" y1="1128" x2="1347" y2="1157" stroke="#111" stroke-width="1.1" stroke-linecap="butt"/>
<g transform="translate(921 1211) rotate(10)"><rect x="-4" y="-3.5" width="10" height="7.5" rx="2" fill="#444" stroke="#111" stroke-width="1.3"/><rect x="6" y="-2.3" width="28" height="5.4" rx="2" fill="#fff" stroke="#111" stroke-width="1.1"/></g>
<text x="1002" y="1282" font-size="20" font-weight="bold" fill="#111" text-anchor="start">38</text>
<line x1="1015" y1="1288" x2="1020" y2="1327" stroke="#111" stroke-width="1.1" stroke-linecap="butt"/>
<g transform="translate(1021 1333)"><ellipse cx="1.5" cy="0.5" rx="3.75" ry="5.75" fill="#fff" stroke="#111" stroke-width="1.3" transform="rotate(20)"/><path d="M-5,-2.5 L-2.0,-5 L2.5,-3.5 L2.5,3.0 L-1.5,5 L-5,2.0 Z" fill="#fff" stroke="#111" stroke-width="1.5" stroke-linejoin="round"/><ellipse cx="0" cy="0" rx="1.75" ry="2.25" fill="#fff" stroke="#111" stroke-width="1.1"/></g>
<line x1="1030" y1="1338" x2="1047" y2="1348" stroke="#222" stroke-width="1.0" stroke-dasharray="9 4" stroke-linecap="butt"/>
<text x="1084" y="1288" font-size="20" font-weight="bold" fill="#111" text-anchor="start">175</text>
<line x1="1091" y1="1295" x2="1083" y2="1362" stroke="#111" stroke-width="1.1" stroke-linecap="butt"/>
<path d="M1050,1353 L1168,1419" stroke="#111" stroke-width="11" fill="none" stroke-linejoin="round" stroke-linecap="round" />
<path d="M1050,1353 L1168,1419" stroke="#fff" stroke-width="8.6" fill="none" stroke-linejoin="round" stroke-linecap="round" />
<ellipse cx="1050" cy="1353" rx="3" ry="5" stroke="#111" stroke-width="1.1" fill="#fff" transform="rotate(-28 1050 1353)"/>
<path d="M1172,1421 L1205,1440" stroke="#111" stroke-width="8.5" fill="none" stroke-linejoin="round" stroke-linecap="round" />
<path d="M1172,1421 L1205,1440" stroke="#fff" stroke-width="6.2" fill="none" stroke-linejoin="round" stroke-linecap="round" />
<path d="M1191,1437 L1200,1442 M1194,1432 L1204,1437" stroke="#111" stroke-width="1.6" fill="none" stroke-linejoin="round" stroke-linecap="round" />
<ellipse cx="1206" cy="1440" rx="1.8" ry="3.6" stroke="#111" stroke-width="1.0" fill="#fff" transform="rotate(-28 1206 1440)"/>
<path d="M1059,1353 L1075,1347 L1076,1408 L1065,1415 L1059,1410 Z" stroke="#111" stroke-width="1.4" fill="#fff" stroke-linejoin="round" stroke-linecap="round" />
<path d="M1062,1355 L1062,1412 M1062,1355 L1075,1349" stroke="#111" stroke-width="1.0" fill="none" stroke-linejoin="round" stroke-linecap="round" />
<ellipse cx="1069" cy="1407" rx="1.8" ry="2.4" stroke="#111" stroke-width="1.0" fill="none"/>
<ellipse cx="1068" cy="1362" rx="3.5" ry="5.2" stroke="#111" stroke-width="1.1" fill="#fff" transform="rotate(-28 1068 1362)"/>
<path d="M1160,1383 L1170,1377 L1178,1377 L1180,1423 L1165,1433 L1161,1428 Z" stroke="#111" stroke-width="1.4" fill="#fff" stroke-linejoin="round" stroke-linecap="round" />
<path d="M1163,1385 L1164,1431 M1163,1385 L1172,1379" stroke="#111" stroke-width="1.0" fill="none" stroke-linejoin="round" stroke-linecap="round" />
<ellipse cx="1171" cy="1396" rx="1.8" ry="2.6" stroke="#111" stroke-width="1.0" fill="none" transform="rotate(20 1171 1396)"/>
<g transform="translate(1030 1384)"><ellipse cx="1.5" cy="0.5" rx="4.125" ry="6.324999999999999" fill="#fff" stroke="#111" stroke-width="1.3" transform="rotate(20)"/><path d="M-5.5,-2.75 L-2.2,-5.5 L2.75,-3.8499999999999996 L2.75,3.3 L-1.65,5.5 L-5.5,2.2 Z" fill="#fff" stroke="#111" stroke-width="1.5" stroke-linejoin="round"/><ellipse cx="0" cy="0" rx="1.9249999999999998" ry="2.475" fill="#fff" stroke="#111" stroke-width="1.1"/></g>
<line x1="1038" y1="1389" x2="1056" y2="1399" stroke="#222" stroke-width="1.0" stroke-dasharray="9 4" stroke-linecap="butt"/>
<text x="991" y="1444" font-size="20" font-weight="bold" fill="#111" text-anchor="start">360</text>
<line x1="1020" y1="1427" x2="1027" y2="1392" stroke="#111" stroke-width="1.1" stroke-linecap="butt"/>
<path d="M1076,1410 L1090,1417 L1090,1512 L1108,1523" stroke="#111" stroke-width="1.2" fill="none" stroke-linejoin="round" stroke-linecap="round" stroke-dasharray="11 4"/>
<text x="1171" y="1475" font-size="20" font-weight="bold" fill="#111" text-anchor="start">360</text>
<line x1="1165" y1="1474" x2="1140" y2="1478" stroke="#111" stroke-width="1.1" stroke-linecap="butt"/>
<g transform="translate(1132 1481)"><ellipse cx="1.5" cy="0.5" rx="4.125" ry="6.324999999999999" fill="#fff" stroke="#111" stroke-width="1.3" transform="rotate(20)"/><path d="M-5.5,-2.75 L-2.2,-5.5 L2.75,-3.8499999999999996 L2.75,3.3 L-1.65,5.5 L-5.5,2.2 Z" fill="#fff" stroke="#111" stroke-width="1.5" stroke-linejoin="round"/><ellipse cx="0" cy="0" rx="1.9249999999999998" ry="2.475" fill="#fff" stroke="#111" stroke-width="1.1"/></g>
<line x1="1141" y1="1487" x2="1158" y2="1495" stroke="#222" stroke-width="1.0" stroke-dasharray="9 4" stroke-linecap="butt"/>
<path d="M1117,1523 L1175,1500" stroke="#111" stroke-width="8.5" fill="none" stroke-linejoin="round" stroke-linecap="round" />
<path d="M1117,1523 L1175,1500" stroke="#fff" stroke-width="6.2" fill="none" stroke-linejoin="round" stroke-linecap="round" />
<ellipse cx="1176" cy="1500" rx="2.2" ry="4.2" stroke="#111" stroke-width="1.1" fill="#fff" transform="rotate(-20 1176 1500)"/>
<g transform="translate(1108 1520) rotate(32)"><rect x="0" y="-2" width="10" height="4" fill="#555" stroke="#111" stroke-width="1"/></g>
<g transform="translate(1160 1494) rotate(28)"><rect x="0" y="-2" width="11" height="4" fill="#555" stroke="#111" stroke-width="1"/></g>
<ellipse cx="1116" cy="1524" rx="2.4" ry="4.2" stroke="#111" stroke-width="1.1" fill="#fff" transform="rotate(-20 1116 1524)"/>
<text x="1144" y="1575" font-size="20" font-weight="bold" fill="#111" text-anchor="start">279</text>
<line x1="1150" y1="1557" x2="1141" y2="1527" stroke="#111" stroke-width="1.1" stroke-linecap="butt"/>
<text x="1219" y="1397" font-size="20" font-weight="bold" fill="#111" text-anchor="start">311</text>
<line x1="1231" y1="1405" x2="1226" y2="1443" stroke="#111" stroke-width="1.1" stroke-linecap="butt"/>
<line x1="1208" y1="1442" x2="1218" y2="1447" stroke="#222" stroke-width="1.0" stroke-dasharray="8 4" stroke-linecap="butt"/>
<ellipse cx="1223" cy="1451" rx="6" ry="9.5" stroke="#111" stroke-width="2.3" fill="#fff" transform="rotate(28 1223 1451)"/>
<path d="M1219,1446 L1227,1456" stroke="#111" stroke-width="1.0" fill="none" stroke-linejoin="round" stroke-linecap="round" />
<text x="1266" y="1407" font-size="20" font-weight="bold" fill="#111" text-anchor="start">312</text>
<line x1="1271" y1="1412" x2="1250" y2="1457" stroke="#111" stroke-width="1.1" stroke-linecap="butt"/>
<g transform="translate(1244 1462) rotate(27)"><path d="M-9,-8 L8,-8 L8,8 L-9,8" fill="#fff" stroke="#111" stroke-width="1.3"/><ellipse cx="-9" cy="0" rx="4" ry="8" fill="#fff" stroke="#111" stroke-width="1.3"/><ellipse cx="8" cy="0" rx="5" ry="9.5" fill="#fff" stroke="#111" stroke-width="1.6"/><ellipse cx="9" cy="0" rx="1.4" ry="2" fill="#fff" stroke="#111" stroke-width="1"/></g>
<line x1="1255" y1="1467" x2="1261" y2="1471" stroke="#222" stroke-width="1.0" stroke-dasharray="6 3" stroke-linecap="butt"/>
<text x="1302" y="1432" font-size="20" font-weight="bold" fill="#111" text-anchor="start">140</text>
<line x1="1300" y1="1437" x2="1266" y2="1470" stroke="#111" stroke-width="1.1" stroke-linecap="butt"/>
<ellipse cx="1263" cy="1473" rx="2.8" ry="3.6" stroke="#111" stroke-width="1.6" fill="#444" transform="rotate(25 1263 1473)"/>
<text x="1338" y="1472" font-size="20" font-weight="bold" fill="#111" text-anchor="start">313</text>
<line x1="1330" y1="1468" x2="1291" y2="1483" stroke="#111" stroke-width="1.1" stroke-linecap="butt"/>
<g transform="translate(1273 1479) rotate(25)"><path d="M0,-2 L14,-2 L14,2 L0,2 Z" fill="#444" stroke="#111" stroke-width="1"/><ellipse cx="16" cy="0" rx="2.6" ry="5" fill="#fff" stroke="#111" stroke-width="1.3"/></g>
<path d="M1265,1531 L1270,1521 L1276,1519 L1278,1522 L1282,1519 L1284,1524 L1287,1520 L1287,1526 L1279,1531 L1274,1536 L1266,1537 Z" stroke="#111" stroke-width="1.3" fill="#fff" stroke-linejoin="round" stroke-linecap="round" />
<ellipse cx="1271" cy="1529" rx="2.4" ry="3" stroke="#111" stroke-width="1.1" fill="none"/>
<path d="M1263,1536 L1266,1538 L1264,1542" stroke="#111" stroke-width="1.1" fill="none" stroke-linejoin="round" stroke-linecap="round" />
<text x="1245" y="1580" font-size="20" font-weight="bold" fill="#111" text-anchor="start">309</text>
<line x1="1261" y1="1562" x2="1265" y2="1538" stroke="#111" stroke-width="1.1" stroke-linecap="butt"/>
<g transform="translate(1292 1542)"><path d="M-10,-6 L-3,-4 L-3,2 Z" fill="#555" stroke="#111" stroke-width="1"/><ellipse cx="0" cy="0" rx="4.5" ry="5.5" fill="#fff" stroke="#111" stroke-width="1.6"/><ellipse cx="1" cy="0" rx="2" ry="3" fill="#fff" stroke="#111" stroke-width="1"/></g>
<text x="1303" y="1581" font-size="20" font-weight="bold" fill="#111" text-anchor="start">143</text>
<line x1="1305" y1="1563" x2="1296" y2="1548" stroke="#111" stroke-width="1.1" stroke-linecap="butt"/>
<path d="M416,1411 L478,1444" stroke="#111" stroke-width="12.5" fill="none" stroke-linejoin="round" stroke-linecap="round" />
<path d="M416,1411 L478,1444" stroke="#fff" stroke-width="10" fill="none" stroke-linejoin="round" stroke-linecap="round" />
<path d="M426,1408 L476,1435" stroke="#222" stroke-width="4.2" fill="none" stroke-linejoin="round" stroke-linecap="round" stroke-dasharray="1.6 1.2"/>
<ellipse cx="415" cy="1411" rx="3.2" ry="6" stroke="#111" stroke-width="1.3" fill="#fff" transform="rotate(-28 415 1411)"/>
<path d="M757,1610 L820,1646" stroke="#111" stroke-width="12.5" fill="none" stroke-linejoin="round" stroke-linecap="round" />
<path d="M757,1610 L820,1646" stroke="#fff" stroke-width="10" fill="none" stroke-linejoin="round" stroke-linecap="round" />
<path d="M766,1607 L813,1634" stroke="#222" stroke-width="4.2" fill="none" stroke-linejoin="round" stroke-linecap="round" stroke-dasharray="1.6 1.2"/>
<g transform="translate(819 1646) rotate(30)"><rect x="-6" y="-6.5" width="13" height="13" rx="3" fill="#fff" stroke="#111" stroke-width="1.5"/><line x1="-2" y1="-6.5" x2="-2" y2="6.5" stroke="#111" stroke-width="1.2"/><line x1="1" y1="-6.5" x2="1" y2="6.5" stroke="#111" stroke-width="1"/></g>
<clipPath id="tc"><path d="M474,1443 L480,1437 L508,1431 L513,1427 L522,1428 L530,1437 L545,1440 L625,1474 L657,1464 L682,1462 L700,1471 L703,1535 L713,1537 L715,1553 L729,1557 L748,1566 L764,1572 L765,1596 L768,1598 L768,1606 L745,1629 L730,1623 L716,1627 L707,1620 L694,1606 L664,1601 L659,1611 L630,1637 L583,1645 L578,1643 L548,1632 L525,1628 L512,1608 L498,1588 L480,1574 L481,1555 L488,1548 L491,1534 L488,1510 L474,1484 Z"/></clipPath>
<path d="M474,1443 L480,1437 L508,1431 L513,1427 L522,1428 L530,1437 L545,1440 L625,1474 L657,1464 L682,1462 L700,1471 L703,1535 L713,1537 L715,1553 L729,1557 L748,1566 L764,1572 L765,1596 L768,1598 L768,1606 L745,1629 L730,1623 L716,1627 L707,1620 L694,1606 L664,1601 L659,1611 L630,1637 L583,1645 L578,1643 L548,1632 L525,1628 L512,1608 L498,1588 L480,1574 L481,1555 L488,1548 L491,1534 L488,1510 L474,1484 Z" stroke="#111" stroke-width="2.0" fill="#fff" stroke-linejoin="round" stroke-linecap="round" />
<g clip-path="url(#tc)" stroke="#111" fill="none" stroke-linecap="round">
<path d="M480,1572 L497,1586 L512,1606 L524,1625 L548,1630 L580,1641 L630,1634 L660,1607 L664,1598" stroke-width="1.8"/>
<path d="M480,1569 L497,1583 L512,1603 L524,1622 L548,1627 L580,1638 L630,1631 L660,1604 L664,1595" stroke-width="1.2"/>
<path d="M480,1566 L497,1580 L512,1600 L524,1619 L548,1624 L580,1635 L630,1628 L660,1601 L664,1592" stroke-width="1.6"/>
<path d="M480,1562 L497,1576 L512,1596 L524,1615 L548,1620 L580,1631 L630,1624 L660,1597 L664,1588" stroke-width="1.0"/>
<line x1="496.0" y1="1523.8" x2="495.1" y2="1581.1" stroke-width="1.0"/>
<line x1="499.7" y1="1525.7" x2="498.7" y2="1581.6" stroke-width="1.2"/>
<line x1="503.1" y1="1519.5" x2="502.3" y2="1583.8" stroke-width="2.0"/>
<line x1="506.9" y1="1541.5" x2="507.0" y2="1593.3" stroke-width="1.0"/>
<line x1="510.3" y1="1543.0" x2="509.8" y2="1586.8" stroke-width="1.2"/>
<line x1="513.2" y1="1523.1" x2="512.4" y2="1591.9" stroke-width="1.2"/>
<line x1="516.9" y1="1525.7" x2="517.0" y2="1590.8" stroke-width="1.0"/>
<line x1="520.7" y1="1534.1" x2="520.7" y2="1598.8" stroke-width="1.6"/>
<line x1="525.2" y1="1532.0" x2="525.6" y2="1597.1" stroke-width="1.2"/>
<line x1="528.3" y1="1537.9" x2="528.7" y2="1602.5" stroke-width="1.6"/>
<line x1="531.4" y1="1548.4" x2="530.8" y2="1598.4" stroke-width="2.0"/>
<line x1="534.7" y1="1548.1" x2="535.3" y2="1604.3" stroke-width="1.0"/>
<line x1="538.5" y1="1547.6" x2="538.7" y2="1604.6" stroke-width="1.6"/>
<line x1="542.2" y1="1538.5" x2="542.2" y2="1613.9" stroke-width="1.6"/>
<line x1="546.2" y1="1530.0" x2="545.7" y2="1613.9" stroke-width="2.0"/>
<line x1="549.5" y1="1545.4" x2="549.2" y2="1606.1" stroke-width="2.0"/>
<line x1="553.4" y1="1542.2" x2="552.6" y2="1610.7" stroke-width="1.6"/>
<line x1="556.5" y1="1540.5" x2="555.8" y2="1621.4" stroke-width="1.0"/>
<line x1="559.9" y1="1538.6" x2="560.6" y2="1612.8" stroke-width="2.0"/>
<line x1="563.0" y1="1542.7" x2="563.9" y2="1617.5" stroke-width="2.0"/>
<line x1="565.9" y1="1537.7" x2="564.9" y2="1617.2" stroke-width="1.2"/>
<line x1="570.2" y1="1538.9" x2="570.0" y2="1620.0" stroke-width="1.2"/>
<line x1="573.5" y1="1549.0" x2="573.4" y2="1631.1" stroke-width="1.0"/>
<line x1="577.9" y1="1559.3" x2="577.7" y2="1629.5" stroke-width="2.0"/>
<line x1="581.2" y1="1548.9" x2="580.4" y2="1627.2" stroke-width="1.2"/>
<line x1="584.3" y1="1542.0" x2="583.5" y2="1639.3" stroke-width="1.0"/>
<line x1="588.0" y1="1551.9" x2="587.1" y2="1638.2" stroke-width="1.0"/>
<line x1="591.0" y1="1548.8" x2="591.2" y2="1637.3" stroke-width="1.6"/>
<line x1="594.6" y1="1543.4" x2="594.5" y2="1636.2" stroke-width="2.0"/>
<line x1="597.8" y1="1544.9" x2="597.7" y2="1635.3" stroke-width="1.6"/>
<line x1="500.0" y1="1574.0" x2="500.0" y2="1590.0" stroke-width="2.2"/>
<line x1="503.0" y1="1576.0" x2="503.0" y2="1592.0" stroke-width="2.2"/>
<line x1="506.8" y1="1578.5" x2="506.8" y2="1594.5" stroke-width="2.2"/>
<line x1="510.9" y1="1581.2" x2="510.9" y2="1597.2" stroke-width="1.2"/>
<line x1="515.4" y1="1584.1" x2="515.4" y2="1600.1" stroke-width="1.6"/>
<line x1="520.3" y1="1587.4" x2="520.3" y2="1603.4" stroke-width="1.2"/>
<line x1="524.7" y1="1590.3" x2="524.7" y2="1606.3" stroke-width="1.6"/>
<line x1="528.8" y1="1593.0" x2="528.8" y2="1609.0" stroke-width="1.2"/>
<line x1="532.5" y1="1595.4" x2="532.5" y2="1611.4" stroke-width="1.2"/>
<line x1="536.5" y1="1598.1" x2="536.5" y2="1614.1" stroke-width="2.2"/>
<line x1="540.2" y1="1600.5" x2="540.2" y2="1616.5" stroke-width="1.2"/>
<line x1="544.4" y1="1603.3" x2="544.4" y2="1619.3" stroke-width="1.2"/>
<line x1="549.0" y1="1606.4" x2="549.0" y2="1622.4" stroke-width="1.6"/>
<line x1="553.5" y1="1609.3" x2="553.5" y2="1625.3" stroke-width="1.2"/>
<line x1="556.9" y1="1611.6" x2="556.9" y2="1627.6" stroke-width="1.6"/>
<line x1="560.6" y1="1614.0" x2="560.6" y2="1630.0" stroke-width="1.2"/>
<line x1="565.6" y1="1617.3" x2="565.6" y2="1633.3" stroke-width="1.6"/>
<line x1="569.5" y1="1619.9" x2="569.5" y2="1635.9" stroke-width="1.2"/>
<line x1="573.9" y1="1622.8" x2="573.9" y2="1638.8" stroke-width="1.6"/>
<line x1="577.8" y1="1625.4" x2="577.8" y2="1641.4" stroke-width="2.2"/>
<line x1="582.8" y1="1628.6" x2="582.8" y2="1644.6" stroke-width="1.6"/>
<line x1="586.0" y1="1627.5" x2="586.0" y2="1643.5" stroke-width="1.2"/>
<line x1="589.4" y1="1625.8" x2="589.4" y2="1641.8" stroke-width="1.2"/>
<line x1="593.1" y1="1624.0" x2="593.1" y2="1640.0" stroke-width="1.6"/>
<line x1="597.3" y1="1621.8" x2="597.3" y2="1637.8" stroke-width="2.2"/>
<line x1="602.0" y1="1619.5" x2="602.0" y2="1635.5" stroke-width="1.6"/>
<line x1="606.8" y1="1617.1" x2="606.8" y2="1633.1" stroke-width="1.6"/>
<line x1="611.4" y1="1614.8" x2="611.4" y2="1630.8" stroke-width="1.2"/>
<line x1="616.1" y1="1612.4" x2="616.1" y2="1628.4" stroke-width="1.2"/>
<line x1="620.9" y1="1610.0" x2="620.9" y2="1626.0" stroke-width="2.2"/>
<line x1="625.4" y1="1607.8" x2="625.4" y2="1623.8" stroke-width="1.6"/>
<line x1="630.2" y1="1605.4" x2="630.2" y2="1621.4" stroke-width="1.6"/>
<line x1="634.8" y1="1603.1" x2="634.8" y2="1619.1" stroke-width="1.6"/>
<line x1="638.0" y1="1601.5" x2="638.0" y2="1617.5" stroke-width="2.2"/>
<line x1="641.8" y1="1599.6" x2="641.8" y2="1615.6" stroke-width="1.6"/>
<line x1="646.2" y1="1597.4" x2="646.2" y2="1613.4" stroke-width="1.2"/>
<line x1="650.7" y1="1595.2" x2="650.7" y2="1611.2" stroke-width="1.2"/>
<line x1="655.7" y1="1592.7" x2="655.7" y2="1608.7" stroke-width="1.2"/>
<line x1="659.0" y1="1591.0" x2="659.0" y2="1607.0" stroke-width="1.6"/>
<path d="M606,1538 L612,1530 L628,1524 L664,1505 L700,1490" stroke-width="1.3"/>
<path d="M606,1538 L608,1590 M612,1531 L614,1592 M620,1527 L621,1596" stroke-width="1.3"/>
<line x1="627.0" y1="1526.0" x2="630.0" y2="1602.0" stroke-width="1.2"/>
<line x1="630.6" y1="1524.2" x2="633.6" y2="1601.3" stroke-width="2.2"/>
<line x1="634.2" y1="1522.4" x2="637.2" y2="1600.6" stroke-width="2.2"/>
<line x1="637.8" y1="1520.6" x2="640.8" y2="1599.8" stroke-width="1.8"/>
<line x1="641.4" y1="1518.8" x2="644.4" y2="1599.1" stroke-width="2.2"/>
<line x1="645.0" y1="1517.0" x2="648.0" y2="1598.4" stroke-width="1.8"/>
<line x1="648.6" y1="1515.2" x2="651.6" y2="1597.7" stroke-width="1.2"/>
<line x1="652.2" y1="1513.4" x2="655.2" y2="1597.0" stroke-width="2.2"/>
<line x1="655.8" y1="1511.6" x2="658.8" y2="1596.2" stroke-width="2.2"/>
<line x1="659.4" y1="1509.8" x2="662.4" y2="1595.5" stroke-width="1.2"/>
<line x1="663.0" y1="1508.0" x2="666.0" y2="1594.8" stroke-width="1.2"/>
<path d="M657,1464 L662,1500 L668,1540 L680,1560 L700,1570 M664,1466 L670,1500 L676,1540 L690,1562 M682,1463 L686,1500 L690,1530 L702,1545 M692,1470 L695,1520 L700,1540" stroke-width="1.4"/>
<path d="M660,1478 L676,1470 L698,1478 M662,1490 L680,1482 L700,1490 M668,1505 L690,1496" stroke-width="1.2"/>
<ellipse cx="676" cy="1474" rx="8" ry="4.5" stroke-width="2.2" fill="#555"/>
<path d="M692,1512 L699,1530" stroke-width="2.6" stroke-dasharray="1.5 1.2"/>
<path d="M694,1606 L700,1575 L715,1553 M707,1620 L708,1590 L729,1578 L729,1557 M716,1627 L717,1596 L745,1584 L764,1572 M730,1623 L731,1598 L748,1590 M745,1629 L745,1600 L765,1590 M700,1575 L730,1590 M715,1560 L748,1576 M690,1572 L700,1566 L712,1572 M729,1565 L740,1560 L752,1566 L741,1572 Z" stroke-width="1.3"/>
<ellipse cx="697" cy="1573" rx="3.6" ry="2.4" stroke-width="1.3" fill="#fff"/>
<ellipse cx="712" cy="1563" rx="3.6" ry="2.4" stroke-width="1.3" fill="#fff"/>
<ellipse cx="726" cy="1571" rx="3.6" ry="2.4" stroke-width="1.3" fill="#fff"/>
<ellipse cx="741" cy="1566" rx="3.6" ry="2.4" stroke-width="1.3" fill="#fff"/>
<ellipse cx="704" cy="1588" rx="3.6" ry="2.4" stroke-width="1.3" fill="#fff"/>
<ellipse cx="720" cy="1596" rx="3.6" ry="2.4" stroke-width="1.3" fill="#fff"/>
<ellipse cx="758" cy="1611" rx="8" ry="11.5" stroke-width="2.2" fill="#fff" transform="rotate(25 758 1611)"/>
<ellipse cx="760" cy="1612" rx="5.5" ry="8.5" stroke-width="1.2" fill="#fff" transform="rotate(25 760 1612)"/>
<path d="M741,1600 Q735,1612 742,1626 M746,1597 Q740,1611 747,1625" stroke-width="1.8"/>
<path d="M474,1450 L486,1444 L500,1450 L512,1446 M474,1462 L488,1470 L488,1508 M488,1470 L500,1463 L500,1450 M500,1463 L512,1470 L512,1490 M476,1447 L480,1440 L492,1436 L505,1440 M482,1452 L496,1458 M480,1458 L494,1464" stroke-width="1.4"/>
<ellipse cx="484" cy="1449" rx="3" ry="2" stroke-width="1.4" fill="#fff"/>
<ellipse cx="494" cy="1445" rx="3" ry="2" stroke-width="1.4" fill="#fff"/>
<ellipse cx="490" cy="1455" rx="3" ry="2" stroke-width="1.4" fill="#fff"/>
<ellipse cx="502" cy="1452" rx="3" ry="2" stroke-width="1.4" fill="#fff"/>
<path d="M508,1431 L514,1446 L512,1452 L494,1505 L492,1534 M516,1436 L522,1446 L500,1505 L498,1530 M513,1427 L528,1437" stroke-width="1.5"/>
<ellipse cx="522" cy="1452" rx="2" ry="3.5" stroke-width="1.2" transform="rotate(25 522 1452)"/>
<path d="M495,1521 L520,1521 L523,1527 L498,1529 Z M500,1531 L500,1560 M506,1531 L506,1562 M524,1520 L545,1514 L548,1530 L530,1538 L524,1532 Z M528,1538 L528,1560 M540,1536 L541,1565 M512,1540 L524,1548 L524,1580 M550,1512 L562,1506 L575,1512 L572,1530 L556,1534 Z" stroke-width="1.5"/>
<ellipse cx="500" cy="1522" rx="2.2" ry="1.3" stroke-width="1"/><ellipse cx="509" cy="1520" rx="2.2" ry="1.3" stroke-width="1"/><ellipse cx="518" cy="1521" rx="2.2" ry="1.3" stroke-width="1"/>
<path d="M529,1500 Q520,1496 518,1505 L520,1516 M534,1502 L548,1494 L560,1498 M536,1508 L548,1502" stroke-width="2"/>
<rect x="563" y="1523" width="8" height="5" rx="1.5" stroke-width="1.5" fill="#fff"/>
<ellipse cx="567" cy="1526" rx="6.5" ry="4" stroke-width="1.4"/>
<path d="M572,1584 L588,1577 L614,1594 L608,1604 L595,1601 Z" stroke-width="1.5" fill="#fff"/>
<ellipse cx="605" cy="1597" rx="4.5" ry="2.2" stroke-width="1.2" transform="rotate(20 605 1597)"/><circle cx="583" cy="1584" r="1" fill="#111"/><circle cx="589" cy="1588" r="1" fill="#111"/><circle cx="595" cy="1592" r="1" fill="#111"/>
<path d="M560,1568 Q570,1560 580,1566 L590,1574 M548,1572 L560,1568 L566,1580 M566,1560 L574,1572 L572,1584" stroke-width="1.8"/>
<ellipse cx="572" cy="1571" rx="4" ry="2.8" stroke-width="1.5" fill="#fff"/>
<path d="M599,1536 L600,1590 M606,1540 L607,1594 M623,1536 L624,1596 M596,1505 L600,1528 L612,1531 M578,1518 L590,1530 L606,1538 M600,1590 Q612,1600 624,1596" stroke-width="1.4"/>
<path d="M604,1490 Q618,1494 618,1505 Q616,1516 600,1516 L590,1512 M608,1487 Q624,1492 622,1506 Q620,1520 602,1521" stroke-width="1.4"/>
<path d="M626,1477 L652,1470 L654,1476 L630,1484 M618,1492 L640,1484 L650,1490 M626,1498 L636,1510" stroke-width="1.5"/>
<path d="M640,1490 L656,1492" stroke-width="3"/>
<line x1="491.4" y1="1470.0" x2="500.5" y2="1464.8" stroke-width="2.2"/>
<line x1="493.3" y1="1471.4" x2="497.9" y2="1468.7" stroke-width="1.4"/>
<line x1="479.2" y1="1457.2" x2="479.2" y2="1461.8" stroke-width="2.2"/>
<line x1="508.8" y1="1474.7" x2="508.8" y2="1483.0" stroke-width="1.1"/>
<line x1="504.3" y1="1445.2" x2="504.3" y2="1449.4" stroke-width="1.1"/>
<line x1="502.5" y1="1458.3" x2="502.5" y2="1466.5" stroke-width="1.4"/>
<line x1="497.8" y1="1467.0" x2="505.3" y2="1462.7" stroke-width="1.8"/>
<line x1="489.8" y1="1469.6" x2="489.8" y2="1480.1" stroke-width="1.8"/>
<line x1="486.7" y1="1453.5" x2="486.7" y2="1459.5" stroke-width="1.1"/>
<line x1="489.6" y1="1484.3" x2="489.6" y2="1491.0" stroke-width="1.1"/>
<line x1="483.3" y1="1488.4" x2="487.1" y2="1486.2" stroke-width="2.2"/>
<line x1="490.3" y1="1470.3" x2="495.0" y2="1473.0" stroke-width="1.8"/>
<line x1="479.0" y1="1458.6" x2="479.0" y2="1469.4" stroke-width="1.4"/>
<line x1="484.4" y1="1447.1" x2="488.2" y2="1444.8" stroke-width="1.4"/>
<line x1="499.2" y1="1451.4" x2="499.2" y2="1459.0" stroke-width="2.2"/>
<line x1="497.9" y1="1447.8" x2="497.9" y2="1454.8" stroke-width="1.1"/>
<line x1="485.2" y1="1490.5" x2="493.5" y2="1495.4" stroke-width="1.1"/>
<line x1="483.2" y1="1461.7" x2="483.2" y2="1471.7" stroke-width="1.1"/>
<line x1="509.6" y1="1452.7" x2="514.7" y2="1455.6" stroke-width="1.8"/>
<line x1="489.1" y1="1445.7" x2="489.1" y2="1451.2" stroke-width="1.1"/>
<line x1="496.4" y1="1460.6" x2="502.7" y2="1457.0" stroke-width="1.4"/>
<line x1="505.5" y1="1451.1" x2="505.5" y2="1456.2" stroke-width="1.4"/>
<line x1="500.7" y1="1449.9" x2="500.7" y2="1458.3" stroke-width="2.2"/>
<line x1="506.0" y1="1472.2" x2="506.0" y2="1479.1" stroke-width="1.1"/>
<line x1="477.3" y1="1490.1" x2="482.2" y2="1487.3" stroke-width="1.8"/>
<line x1="490.3" y1="1487.2" x2="490.3" y2="1494.7" stroke-width="1.1"/>
<line x1="480.3" y1="1466.0" x2="480.3" y2="1474.5" stroke-width="1.8"/>
<line x1="483.2" y1="1487.7" x2="483.2" y2="1497.0" stroke-width="1.8"/>
<line x1="490.0" y1="1454.5" x2="493.8" y2="1456.6" stroke-width="1.8"/>
<line x1="494.1" y1="1490.7" x2="494.1" y2="1495.3" stroke-width="2.2"/>
<line x1="509.3" y1="1474.8" x2="509.3" y2="1483.7" stroke-width="1.1"/>
<line x1="507.4" y1="1465.7" x2="513.1" y2="1469.0" stroke-width="1.1"/>
<line x1="476.7" y1="1473.8" x2="483.1" y2="1477.5" stroke-width="1.8"/>
<line x1="480.6" y1="1445.6" x2="486.9" y2="1449.2" stroke-width="1.1"/>
<line x1="564.2" y1="1532.3" x2="572.6" y2="1537.1" stroke-width="1.8"/>
<line x1="500.6" y1="1518.6" x2="504.6" y2="1516.3" stroke-width="1.1"/>
<line x1="561.4" y1="1523.8" x2="569.2" y2="1519.3" stroke-width="2.2"/>
<line x1="539.4" y1="1525.7" x2="539.4" y2="1530.3" stroke-width="1.8"/>
<line x1="562.6" y1="1531.9" x2="568.8" y2="1528.3" stroke-width="2.2"/>
<line x1="530.1" y1="1522.1" x2="530.1" y2="1530.3" stroke-width="1.8"/>
<line x1="540.9" y1="1519.0" x2="540.9" y2="1524.9" stroke-width="2.2"/>
<line x1="554.8" y1="1528.3" x2="554.8" y2="1536.2" stroke-width="1.8"/>
<line x1="517.5" y1="1529.3" x2="517.5" y2="1534.9" stroke-width="1.8"/>
<line x1="545.5" y1="1517.0" x2="555.2" y2="1522.5" stroke-width="2.2"/>
<line x1="545.9" y1="1504.3" x2="545.9" y2="1511.8" stroke-width="1.4"/>
<line x1="524.0" y1="1524.3" x2="524.0" y2="1530.9" stroke-width="1.4"/>
<line x1="532.7" y1="1537.5" x2="532.7" y2="1548.3" stroke-width="1.8"/>
<line x1="558.1" y1="1499.9" x2="558.1" y2="1507.6" stroke-width="2.2"/>
<line x1="523.8" y1="1521.0" x2="532.0" y2="1516.4" stroke-width="1.8"/>
<line x1="499.8" y1="1495.6" x2="499.8" y2="1506.6" stroke-width="1.8"/>
<line x1="538.5" y1="1510.1" x2="538.5" y2="1520.4" stroke-width="1.4"/>
<line x1="525.6" y1="1503.9" x2="534.4" y2="1509.0" stroke-width="1.4"/>
<line x1="554.8" y1="1535.4" x2="554.8" y2="1547.3" stroke-width="2.2"/>
<line x1="502.5" y1="1521.8" x2="510.4" y2="1526.4" stroke-width="1.1"/>
<line x1="547.4" y1="1504.4" x2="547.4" y2="1512.2" stroke-width="1.1"/>
<line x1="552.9" y1="1521.8" x2="552.9" y2="1526.1" stroke-width="1.8"/>
<line x1="554.7" y1="1522.1" x2="554.7" y2="1533.6" stroke-width="2.2"/>
<line x1="560.2" y1="1530.4" x2="565.2" y2="1527.5" stroke-width="2.2"/>
<line x1="504.1" y1="1517.6" x2="504.1" y2="1526.6" stroke-width="2.2"/>
<line x1="536.9" y1="1527.9" x2="543.9" y2="1531.9" stroke-width="2.2"/>
<line x1="519.5" y1="1545.1" x2="519.5" y2="1549.9" stroke-width="1.4"/>
<line x1="512.9" y1="1514.3" x2="517.0" y2="1516.6" stroke-width="1.8"/>
<line x1="514.4" y1="1531.3" x2="514.4" y2="1535.5" stroke-width="1.1"/>
<line x1="528.4" y1="1522.6" x2="537.2" y2="1517.5" stroke-width="1.1"/>
<line x1="511.0" y1="1539.1" x2="511.0" y2="1546.5" stroke-width="1.4"/>
<line x1="535.6" y1="1529.7" x2="545.4" y2="1524.0" stroke-width="1.4"/>
<line x1="572.0" y1="1540.8" x2="579.1" y2="1536.8" stroke-width="2.2"/>
<line x1="539.2" y1="1529.8" x2="547.9" y2="1524.8" stroke-width="1.8"/>
<line x1="558.8" y1="1523.2" x2="563.5" y2="1525.9" stroke-width="1.8"/>
<line x1="546.4" y1="1543.6" x2="546.4" y2="1554.6" stroke-width="1.8"/>
<line x1="560.4" y1="1544.4" x2="567.5" y2="1540.3" stroke-width="1.4"/>
<line x1="526.1" y1="1499.9" x2="529.6" y2="1497.9" stroke-width="1.1"/>
<line x1="536.0" y1="1496.3" x2="536.0" y2="1507.6" stroke-width="2.2"/>
<line x1="501.3" y1="1502.7" x2="511.2" y2="1496.9" stroke-width="2.2"/>
<line x1="565.8" y1="1535.6" x2="565.8" y2="1542.9" stroke-width="2.2"/>
<line x1="532.5" y1="1511.7" x2="542.2" y2="1506.1" stroke-width="1.8"/>
<line x1="502.5" y1="1515.8" x2="506.2" y2="1517.9" stroke-width="1.4"/>
<line x1="548.8" y1="1544.8" x2="548.8" y2="1549.1" stroke-width="1.4"/>
<line x1="494.9" y1="1508.8" x2="494.9" y2="1518.6" stroke-width="2.2"/>
<line x1="502.2" y1="1532.0" x2="506.5" y2="1534.5" stroke-width="1.4"/>
<line x1="548.7" y1="1539.7" x2="552.3" y2="1537.6" stroke-width="1.4"/>
<line x1="536.0" y1="1538.9" x2="536.0" y2="1547.2" stroke-width="1.4"/>
<line x1="560.4" y1="1525.8" x2="560.4" y2="1536.7" stroke-width="1.8"/>
<line x1="564.4" y1="1510.4" x2="564.4" y2="1516.9" stroke-width="1.4"/>
<line x1="554.7" y1="1504.1" x2="554.7" y2="1508.9" stroke-width="1.4"/>
<line x1="550.7" y1="1507.5" x2="554.8" y2="1505.1" stroke-width="1.4"/>
<line x1="509.7" y1="1526.7" x2="509.7" y2="1537.0" stroke-width="1.4"/>
<line x1="538.5" y1="1512.6" x2="547.6" y2="1517.9" stroke-width="1.1"/>
<line x1="549.0" y1="1527.0" x2="549.0" y2="1533.8" stroke-width="1.1"/>
<line x1="531.6" y1="1495.3" x2="540.4" y2="1490.2" stroke-width="1.4"/>
<line x1="508.8" y1="1500.0" x2="508.8" y2="1505.4" stroke-width="1.8"/>
<line x1="566.3" y1="1499.0" x2="570.2" y2="1496.7" stroke-width="1.1"/>
<line x1="553.6" y1="1511.0" x2="560.4" y2="1514.9" stroke-width="2.2"/>
<line x1="510.4" y1="1513.4" x2="510.4" y2="1522.5" stroke-width="1.4"/>
<line x1="613.4" y1="1496.0" x2="620.8" y2="1491.8" stroke-width="1.4"/>
<line x1="635.5" y1="1480.2" x2="643.1" y2="1484.5" stroke-width="1.1"/>
<line x1="645.7" y1="1507.0" x2="653.7" y2="1502.4" stroke-width="1.4"/>
<line x1="630.2" y1="1519.2" x2="637.9" y2="1523.7" stroke-width="1.8"/>
<line x1="651.4" y1="1508.8" x2="658.9" y2="1504.4" stroke-width="1.4"/>
<line x1="650.6" y1="1514.7" x2="657.7" y2="1510.6" stroke-width="1.4"/>
<line x1="625.1" y1="1507.8" x2="628.9" y2="1510.0" stroke-width="1.8"/>
<line x1="628.4" y1="1476.5" x2="628.4" y2="1482.6" stroke-width="1.4"/>
<line x1="618.2" y1="1518.3" x2="618.2" y2="1524.1" stroke-width="2.2"/>
<line x1="633.6" y1="1499.5" x2="639.1" y2="1496.3" stroke-width="1.4"/>
<line x1="640.5" y1="1509.5" x2="640.5" y2="1519.4" stroke-width="1.1"/>
<line x1="636.0" y1="1508.5" x2="640.8" y2="1505.7" stroke-width="1.1"/>
<line x1="643.6" y1="1504.5" x2="647.1" y2="1506.5" stroke-width="1.8"/>
<line x1="618.3" y1="1491.0" x2="624.6" y2="1487.4" stroke-width="1.1"/>
<line x1="637.2" y1="1511.6" x2="637.2" y2="1516.1" stroke-width="2.2"/>
<line x1="652.4" y1="1483.0" x2="652.4" y2="1489.9" stroke-width="2.2"/>
<line x1="632.2" y1="1502.2" x2="637.9" y2="1499.0" stroke-width="2.2"/>
<line x1="618.8" y1="1493.5" x2="623.9" y2="1496.5" stroke-width="2.2"/>
<line x1="638.1" y1="1500.7" x2="643.0" y2="1503.5" stroke-width="1.1"/>
<line x1="604.7" y1="1486.8" x2="604.7" y2="1491.0" stroke-width="2.2"/>
<line x1="643.2" y1="1493.2" x2="651.4" y2="1488.5" stroke-width="1.1"/>
<line x1="634.3" y1="1507.8" x2="634.3" y2="1513.7" stroke-width="2.2"/>
<line x1="688.8" y1="1491.1" x2="688.8" y2="1502.9" stroke-width="1.1"/>
<line x1="697.5" y1="1534.5" x2="697.5" y2="1543.7" stroke-width="1.1"/>
<line x1="662.0" y1="1506.4" x2="662.0" y2="1512.4" stroke-width="1.8"/>
<line x1="681.1" y1="1479.4" x2="688.9" y2="1474.9" stroke-width="2.2"/>
<line x1="684.0" y1="1526.8" x2="693.7" y2="1532.4" stroke-width="1.4"/>
<line x1="698.1" y1="1535.6" x2="698.1" y2="1542.7" stroke-width="1.8"/>
<line x1="691.4" y1="1525.5" x2="698.5" y2="1529.6" stroke-width="1.4"/>
<line x1="685.3" y1="1537.3" x2="685.3" y2="1544.0" stroke-width="1.4"/>
<line x1="695.2" y1="1471.6" x2="700.0" y2="1474.4" stroke-width="1.8"/>
<line x1="677.0" y1="1525.3" x2="682.2" y2="1528.3" stroke-width="1.1"/>
<line x1="690.2" y1="1552.0" x2="690.2" y2="1558.4" stroke-width="1.8"/>
<line x1="679.4" y1="1500.6" x2="686.4" y2="1496.6" stroke-width="1.4"/>
<line x1="693.5" y1="1474.8" x2="693.5" y2="1480.9" stroke-width="2.2"/>
<line x1="677.0" y1="1491.7" x2="687.7" y2="1497.9" stroke-width="1.4"/>
<line x1="686.1" y1="1559.0" x2="686.1" y2="1566.9" stroke-width="2.2"/>
<line x1="686.2" y1="1521.4" x2="694.1" y2="1526.0" stroke-width="1.1"/>
<line x1="681.7" y1="1507.7" x2="690.5" y2="1502.7" stroke-width="1.8"/>
<line x1="692.9" y1="1468.9" x2="692.9" y2="1476.6" stroke-width="1.8"/>
<line x1="679.8" y1="1538.3" x2="679.8" y2="1546.3" stroke-width="1.4"/>
<line x1="674.3" y1="1534.8" x2="674.3" y2="1543.1" stroke-width="1.8"/>
<line x1="688.4" y1="1520.4" x2="699.9" y2="1527.0" stroke-width="2.2"/>
<line x1="681.2" y1="1559.3" x2="681.2" y2="1568.4" stroke-width="2.2"/>
<line x1="698.7" y1="1535.1" x2="698.7" y2="1544.8" stroke-width="1.8"/>
<line x1="693.1" y1="1470.2" x2="702.8" y2="1464.7" stroke-width="1.4"/>
<line x1="689.6" y1="1501.9" x2="689.6" y2="1510.4" stroke-width="1.4"/>
<line x1="667.1" y1="1537.8" x2="678.3" y2="1544.3" stroke-width="1.1"/>
<line x1="705.5" y1="1563.5" x2="709.8" y2="1565.9" stroke-width="1.1"/>
<line x1="735.6" y1="1608.3" x2="739.4" y2="1610.5" stroke-width="1.1"/>
<line x1="713.4" y1="1576.4" x2="717.4" y2="1578.7" stroke-width="1.1"/>
<line x1="691.8" y1="1599.2" x2="695.8" y2="1596.9" stroke-width="1.4"/>
<line x1="739.9" y1="1589.3" x2="748.1" y2="1594.1" stroke-width="2.2"/>
<line x1="717.6" y1="1580.3" x2="717.6" y2="1590.1" stroke-width="2.2"/>
<line x1="724.2" y1="1608.3" x2="724.2" y2="1612.7" stroke-width="2.2"/>
<line x1="743.0" y1="1619.1" x2="743.0" y2="1625.2" stroke-width="2.2"/>
<line x1="748.4" y1="1613.3" x2="748.4" y2="1623.1" stroke-width="1.8"/>
<line x1="739.7" y1="1608.1" x2="745.4" y2="1604.9" stroke-width="1.4"/>
<line x1="707.2" y1="1569.7" x2="707.2" y2="1577.5" stroke-width="1.8"/>
<line x1="704.3" y1="1585.5" x2="704.3" y2="1591.2" stroke-width="2.2"/>
<line x1="711.6" y1="1566.9" x2="711.6" y2="1574.8" stroke-width="1.1"/>
<line x1="742.7" y1="1561.0" x2="742.7" y2="1567.9" stroke-width="1.8"/>
<line x1="697.6" y1="1571.1" x2="697.6" y2="1576.4" stroke-width="2.2"/>
<line x1="731.6" y1="1573.4" x2="736.1" y2="1576.0" stroke-width="2.2"/>
<line x1="702.1" y1="1605.5" x2="707.2" y2="1602.5" stroke-width="1.8"/>
<line x1="723.9" y1="1584.2" x2="723.9" y2="1593.9" stroke-width="2.2"/>
<line x1="750.4" y1="1584.0" x2="750.4" y2="1589.3" stroke-width="2.2"/>
<line x1="758.3" y1="1607.7" x2="758.3" y2="1616.3" stroke-width="1.4"/>
<line x1="752.5" y1="1612.4" x2="760.7" y2="1607.7" stroke-width="1.4"/>
<line x1="739.9" y1="1596.4" x2="739.9" y2="1601.3" stroke-width="1.8"/>
<line x1="700.1" y1="1614.5" x2="700.1" y2="1623.3" stroke-width="1.8"/>
<line x1="726.1" y1="1563.2" x2="726.1" y2="1570.6" stroke-width="1.1"/>
<line x1="704.3" y1="1615.0" x2="704.3" y2="1619.9" stroke-width="1.1"/>
<line x1="714.6" y1="1596.9" x2="720.9" y2="1593.3" stroke-width="2.2"/>
<line x1="695.8" y1="1604.9" x2="702.1" y2="1608.5" stroke-width="1.1"/>
<line x1="745.3" y1="1585.0" x2="745.3" y2="1594.5" stroke-width="2.2"/>
<line x1="704.6" y1="1592.6" x2="704.6" y2="1599.8" stroke-width="1.8"/>
<line x1="712.1" y1="1584.3" x2="718.5" y2="1580.7" stroke-width="1.1"/>
<line x1="561.6" y1="1594.4" x2="565.6" y2="1592.0" stroke-width="2.2"/>
<line x1="584.8" y1="1599.2" x2="588.9" y2="1596.9" stroke-width="1.1"/>
<line x1="591.8" y1="1595.6" x2="597.8" y2="1599.0" stroke-width="1.1"/>
<line x1="567.5" y1="1560.5" x2="567.5" y2="1570.5" stroke-width="1.4"/>
<line x1="557.4" y1="1578.8" x2="563.7" y2="1582.4" stroke-width="1.8"/>
<line x1="585.3" y1="1587.8" x2="585.3" y2="1592.3" stroke-width="1.4"/>
<line x1="562.6" y1="1565.5" x2="567.7" y2="1568.4" stroke-width="2.2"/>
<line x1="583.4" y1="1576.6" x2="583.4" y2="1585.5" stroke-width="1.1"/>
<line x1="548.4" y1="1564.7" x2="548.4" y2="1572.8" stroke-width="1.4"/>
<line x1="551.6" y1="1561.8" x2="551.6" y2="1568.6" stroke-width="1.1"/>
<line x1="553.6" y1="1567.9" x2="557.7" y2="1565.5" stroke-width="1.1"/>
<line x1="560.5" y1="1601.2" x2="560.5" y2="1610.7" stroke-width="1.4"/>
<line x1="586.0" y1="1601.1" x2="591.5" y2="1604.2" stroke-width="2.2"/>
<line x1="577.4" y1="1596.3" x2="584.1" y2="1600.2" stroke-width="1.4"/>
<line x1="579.6" y1="1590.4" x2="583.2" y2="1592.5" stroke-width="1.4"/>
<line x1="560.5" y1="1592.5" x2="564.6" y2="1590.2" stroke-width="1.4"/>
<line x1="570.6" y1="1599.4" x2="570.6" y2="1608.4" stroke-width="1.8"/>
<line x1="586.0" y1="1605.1" x2="592.3" y2="1608.8" stroke-width="1.4"/>
<line x1="574.4" y1="1569.9" x2="574.4" y2="1579.5" stroke-width="1.1"/>
<line x1="577.6" y1="1569.9" x2="577.6" y2="1574.4" stroke-width="2.2"/>
<line x1="574.6" y1="1594.9" x2="579.8" y2="1597.8" stroke-width="1.8"/>
<line x1="567.8" y1="1566.2" x2="567.8" y2="1576.0" stroke-width="1.4"/>
<line x1="594.2" y1="1587.2" x2="600.7" y2="1590.9" stroke-width="1.4"/>
<line x1="594.6" y1="1609.6" x2="594.6" y2="1618.5" stroke-width="1.1"/>
<rect x="484" y="1572" width="6" height="7" rx="1.5" stroke-width="1.4" fill="#fff"/><ellipse cx="487" cy="1579" rx="3.5" ry="1.6" stroke-width="1.2" fill="#fff"/>
<rect x="500" y="1590" width="6" height="7" rx="1.5" stroke-width="1.4" fill="#fff"/><ellipse cx="503" cy="1597" rx="3.5" ry="1.6" stroke-width="1.2" fill="#fff"/>
<rect x="515" y="1611" width="6" height="7" rx="1.5" stroke-width="1.4" fill="#fff"/><ellipse cx="518" cy="1618" rx="3.5" ry="1.6" stroke-width="1.2" fill="#fff"/>
<rect x="537" y="1624" width="6" height="7" rx="1.5" stroke-width="1.4" fill="#fff"/><ellipse cx="540" cy="1631" rx="3.5" ry="1.6" stroke-width="1.2" fill="#fff"/>
<rect x="557" y="1631" width="6" height="7" rx="1.5" stroke-width="1.4" fill="#fff"/><ellipse cx="560" cy="1638" rx="3.5" ry="1.6" stroke-width="1.2" fill="#fff"/>
<rect x="580" y="1640" width="6" height="7" rx="1.5" stroke-width="1.4" fill="#fff"/><ellipse cx="583" cy="1647" rx="3.5" ry="1.6" stroke-width="1.2" fill="#fff"/>
<rect x="603" y="1634" width="6" height="7" rx="1.5" stroke-width="1.4" fill="#fff"/><ellipse cx="606" cy="1641" rx="3.5" ry="1.6" stroke-width="1.2" fill="#fff"/>
<rect x="625" y="1630" width="6" height="7" rx="1.5" stroke-width="1.4" fill="#fff"/><ellipse cx="628" cy="1637" rx="3.5" ry="1.6" stroke-width="1.2" fill="#fff"/>
<rect x="647" y="1609" width="6" height="7" rx="1.5" stroke-width="1.4" fill="#fff"/><ellipse cx="650" cy="1616" rx="3.5" ry="1.6" stroke-width="1.2" fill="#fff"/>
<rect x="669" y="1597" width="6" height="7" rx="1.5" stroke-width="1.4" fill="#fff"/><ellipse cx="672" cy="1604" rx="3.5" ry="1.6" stroke-width="1.2" fill="#fff"/>
</g>
<path d="M474,1497 L478,1494 L483,1497 L483,1512 L478,1515 L474,1511 Z" stroke="#111" stroke-width="1.6" fill="#fff" stroke-linejoin="round" stroke-linecap="round" />
<path d="M475,1502 L482,1502 M475,1506 L482,1506" stroke="#111" stroke-width="1.2" fill="none" stroke-linejoin="round" stroke-linecap="round" />
<path d="M481,1556 L488,1552 L492,1556 L492,1568 L486,1572 M483,1560 L490,1562" stroke="#111" stroke-width="1.4" fill="none" stroke-linejoin="round" stroke-linecap="round" />
<path d="M519,1460 L530,1457 L542,1462 L546,1473 L540,1478 L522,1474 Z" stroke="#111" stroke-width="1.5" fill="#fff" stroke-linejoin="round" stroke-linecap="round" />
<path d="M518,1480 L540,1478 L555,1490 L546,1496 L533,1501 L519,1495 Z" stroke="#111" stroke-width="1.5" fill="#fff" stroke-linejoin="round" stroke-linecap="round" />
<path d="M537,1501 L557,1493 L567,1501 L572,1510 L555,1518 L546,1515 Z" stroke="#111" stroke-width="1.5" fill="#fff" stroke-linejoin="round" stroke-linecap="round" />
<path d="M575,1501 L590,1504 L594,1512 L590,1523 L575,1515 Z" stroke="#111" stroke-width="1.5" fill="#fff" stroke-linejoin="round" stroke-linecap="round" />
<path d="M598,1500 L612,1492 L622,1497 L616,1508 L604,1510 Z" stroke="#111" stroke-width="1.5" fill="#fff" stroke-linejoin="round" stroke-linecap="round" />
<path d="M542,1460 L542,1469 A42,25 0 0 0 626,1469 L626,1460" stroke="#111" stroke-width="1.6" fill="#fff" stroke-linejoin="round" stroke-linecap="round" />
<path d="M543,1464 A41,25 0 0 0 625,1464" stroke="#111" stroke-width="2.6" fill="none" stroke-linejoin="round" stroke-linecap="round" />
<ellipse cx="584" cy="1460" rx="42" ry="25" stroke="#111" stroke-width="2.0" fill="#fff"/>
<ellipse cx="584" cy="1461" rx="39" ry="22.5" stroke="#111" stroke-width="1.1" fill="none"/>
<ellipse cx="584.5" cy="1464" rx="21" ry="13" stroke="#111" stroke-width="1.4" fill="none"/>
<path d="M572,1458 L572,1464 A12,7.5 0 0 0 596,1464 L596,1458" stroke="#111" stroke-width="1.3" fill="#fff" stroke-linejoin="round" stroke-linecap="round" />
<ellipse cx="584" cy="1458" rx="12" ry="7.5" stroke="#111" stroke-width="1.4" fill="#fff"/>
<ellipse cx="584" cy="1457" rx="6" ry="4" stroke="#111" stroke-width="1.4" fill="#fff"/>
<ellipse cx="584" cy="1456" rx="4" ry="2.6" stroke="#111" stroke-width="1.2" fill="#333"/>
<g transform="translate(628 1448) rotate(-25)"><rect x="-5" y="-3" width="10" height="6" rx="3" fill="#fff" stroke="#111" stroke-width="1.3"/></g>
<path d="M622,1450 L626,1456" stroke="#111" stroke-width="1.2" fill="none" stroke-linejoin="round" stroke-linecap="round" />
</g>
</svg>
</body></html>
